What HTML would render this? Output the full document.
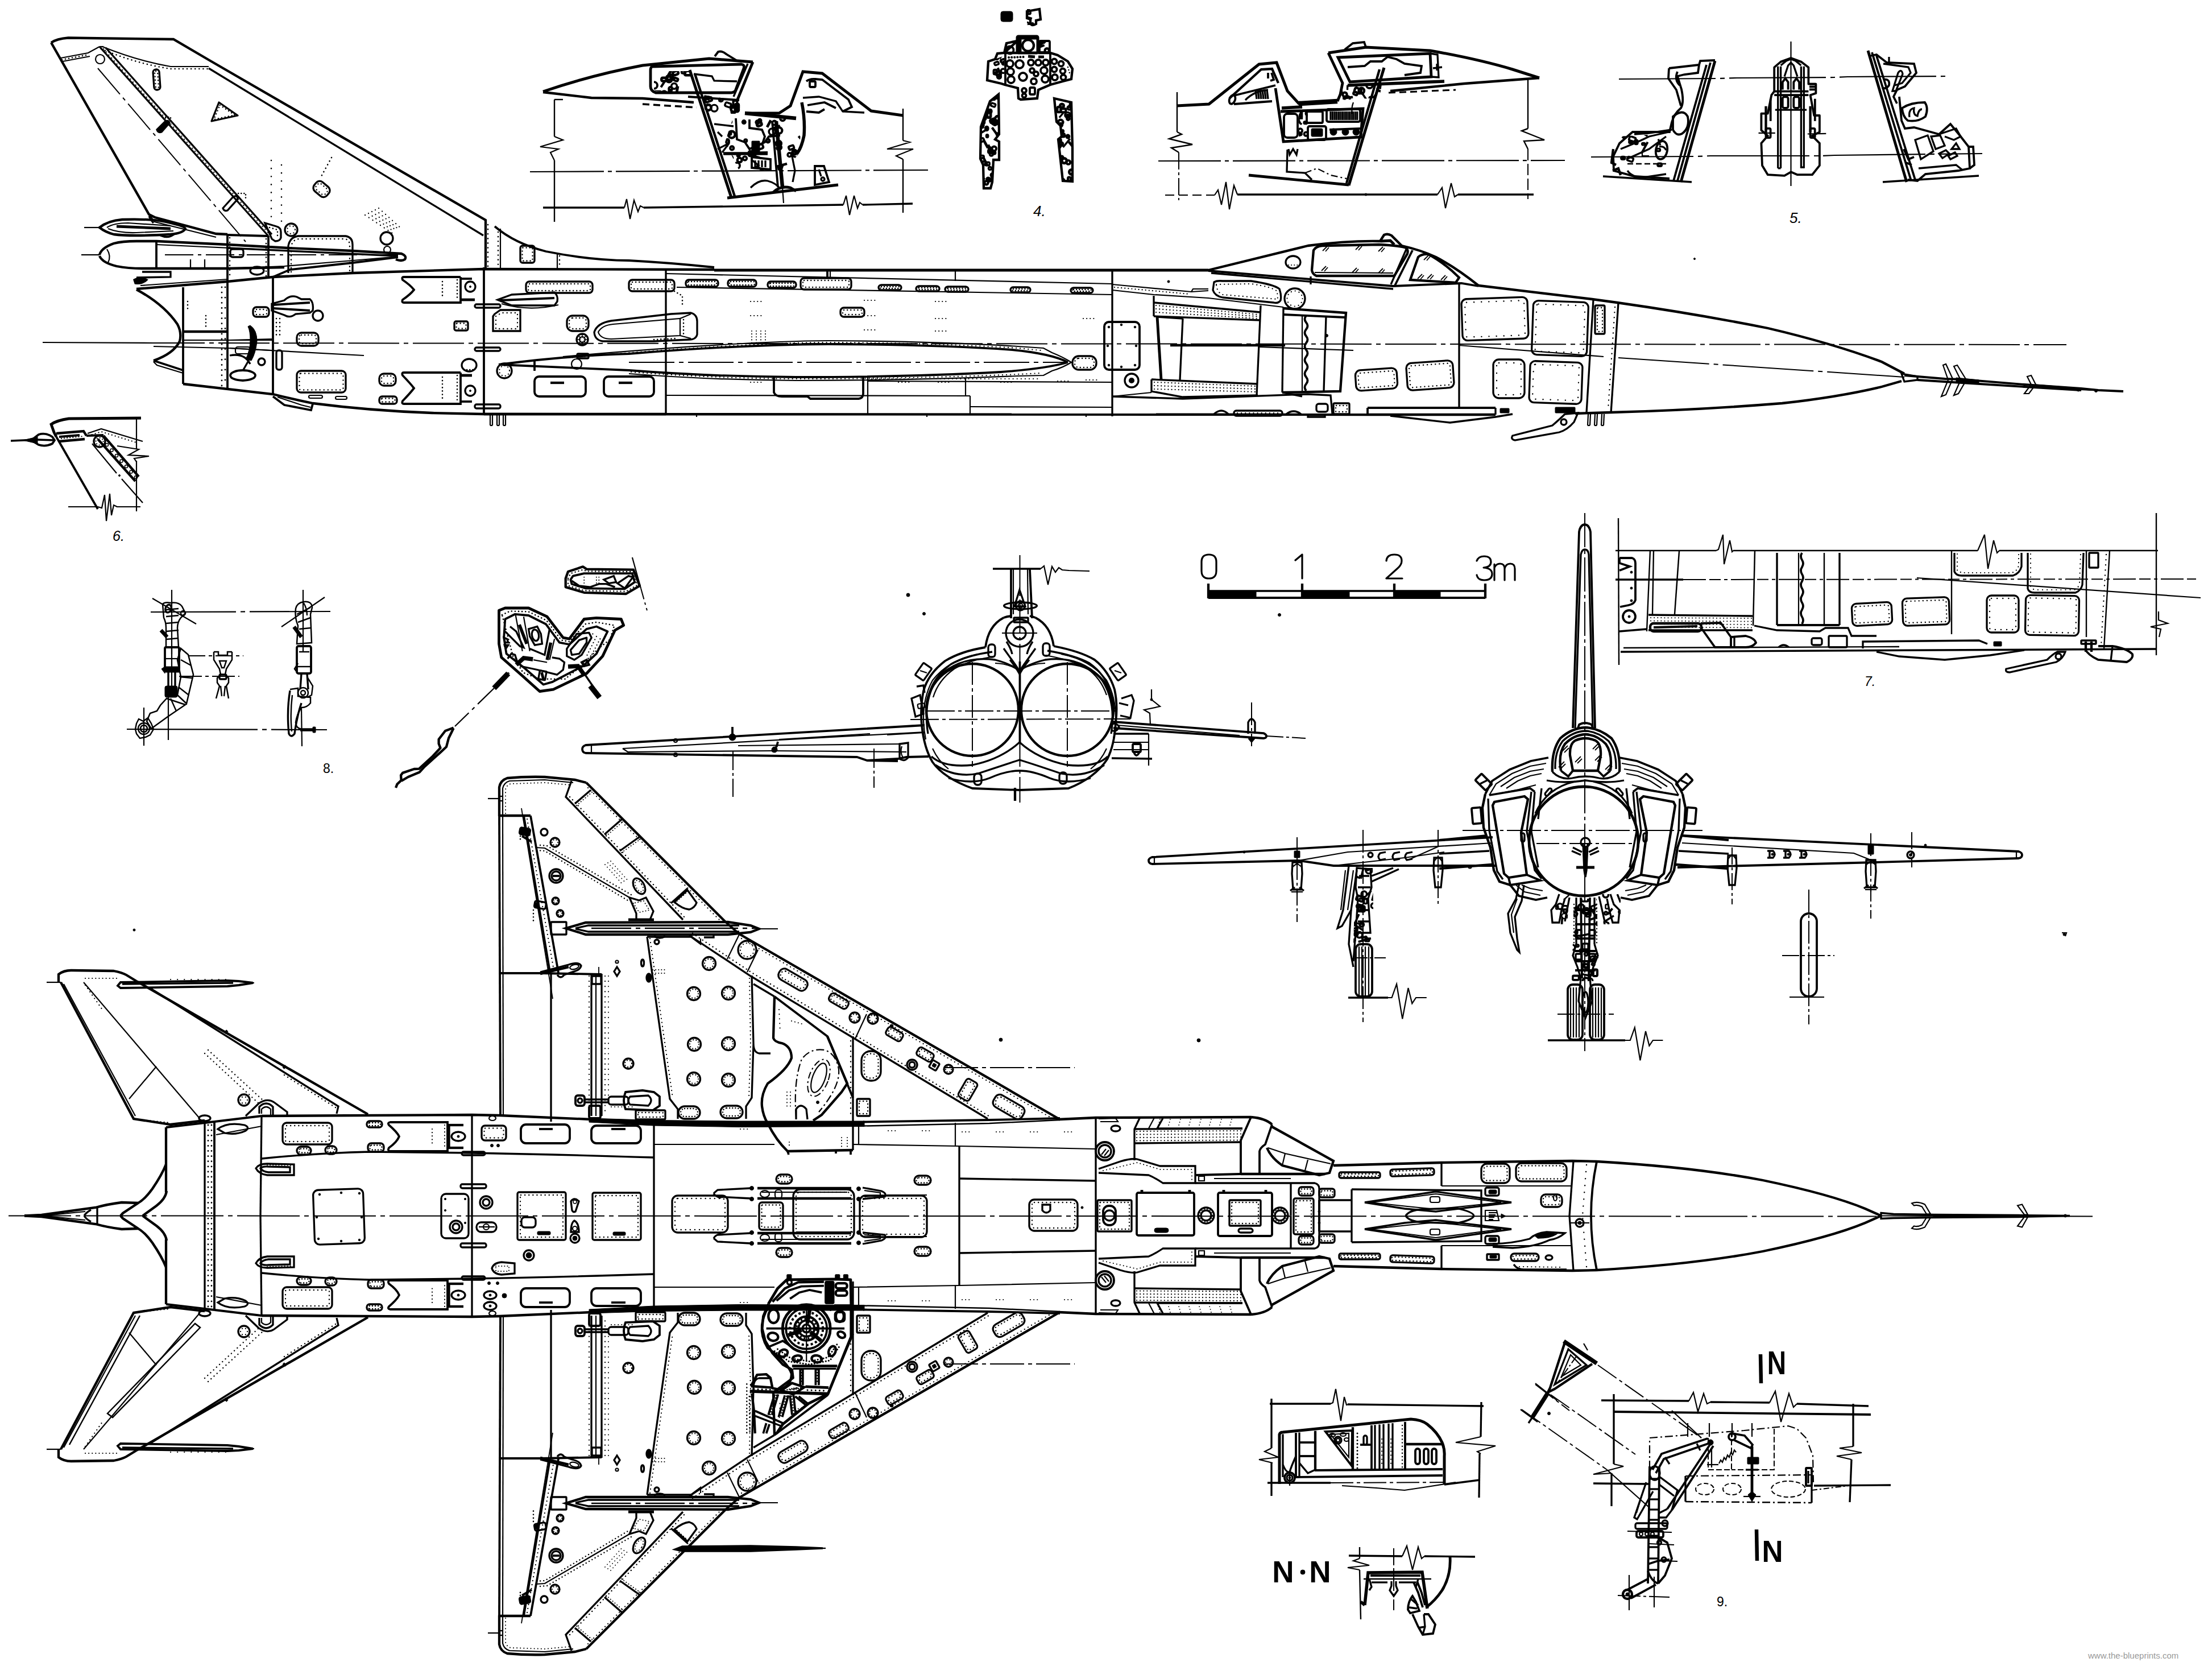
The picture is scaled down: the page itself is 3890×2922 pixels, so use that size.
<!DOCTYPE html>
<html><head><meta charset="utf-8"><title>Su-15 blueprint</title>
<style>html,body{margin:0;padding:0;background:#fff}svg{display:block}</style></head>
<body><svg width="3890" height="2922" viewBox="0 0 3890 2922" stroke="#000" fill="none" stroke-linecap="butt" stroke-linejoin="miter">
<rect x="0" y="0" width="3890" height="2922" fill="#fff" stroke="none"/>
<path d="M90,75 Q100,68 120,66.5 L305,69 L370,107 L854,387 L854,470" stroke-width="4.3" fill="none" />
<path d="M90.0,75.0 L262.0,377.0 L272.0,382.0 L380.0,411.0 L400.0,412.0" stroke-width="4.3" fill="none" />
<path d="M367.0,120.0 L850.0,414.0" stroke-width="3.3" fill="none" />
<path d="M107.0,102.0 L155.0,93.0 L175.0,82.0" stroke-width="2.2" fill="none" />
<path d="M110.0,108.0 L158.0,99.0" stroke-width="2.2" fill="none" />
<path d="M109.0,105.0 L156.0,96.0" stroke-width="2.6" fill="none" stroke-dasharray="0.1 6" stroke-linecap="round"/>
<path d="M178,86 Q240,112 300,121 L367,121" stroke-width="2.6" fill="none" stroke-dasharray="0.1 7" stroke-linecap="round"/>
<path d="M180,82 Q242,107 300,117 L367,117" stroke-width="2.2" fill="none" />
<path d="M175.0,82.0 L182.0,82.0" stroke-width="2.2" fill="none" />
<path d="M175.0,82.0 L472.0,415.0" stroke-width="3.3" fill="none" />
<path d="M186.0,84.0 L478.0,412.0" stroke-width="3.3" fill="none" />
<path d="M182.0,86.0 L474.0,412.0" stroke-width="2.2" fill="none" stroke-dasharray="0.1 7" stroke-linecap="round"/>
<circle cx="176.0" cy="104.0" r="8" stroke-width="2.2" fill="none"/>
<path d="M172.0,120.0 L432.0,425.0" stroke-width="2" fill="none" stroke-dasharray="60 8 6 8"/>
<path d="M262.0,377.0 L272.0,390.0 L380.0,417.0" stroke-width="2.2" fill="none" />
<path d="M276,228 L290,214 Q296,210 298,216 L284,232 Q278,234 276,228Z" stroke-width="3.3" fill="#000" />
<path d="M392,366 L410,346 Q418,342 418,350 L400,370 Q394,372 392,366Z" stroke-width="3.3" fill="none" />
<path d="M286.0,206.0 L300.0,206.0 L300.0,214.0" stroke-width="2.6" fill="none" stroke-dasharray="0.1 5" stroke-linecap="round"/>
<path d="M414.0,340.0 L432.0,340.0 L432.0,352.0" stroke-width="2.6" fill="none" stroke-dasharray="0.1 5" stroke-linecap="round"/>
<rect x="270.0" y="122.0" width="11.0" height="36.0" rx="5" stroke-width="3.3" fill="none" transform="rotate(-4 275.5 140.0)"/>
<rect x="273.0" y="125.0" width="5.0" height="30.0" rx="2" stroke-width="2.4" fill="none" stroke-dasharray="0.1 6" stroke-linecap="round" transform="rotate(-4 275.5 140.0)"/>
<path d="M385.0,180.0 L418.0,203.0 L372.0,213.0Z" stroke-width="3.3" fill="none" stroke-linejoin="round"/>
<path d="M386.7,184.9 L412.9,202.2 L376.2,209.9Z" stroke-width="2.4" fill="none" stroke-dasharray="0.1 6" stroke-linecap="round"/>
<rect x="551.0" y="322.0" width="29.0" height="21.0" rx="8" stroke-width="3.3" fill="none" transform="rotate(40 565.5 332.5)"/>
<rect x="555.0" y="326.0" width="21.0" height="13.0" rx="4" stroke-width="2.4" fill="none" stroke-dasharray="0.1 6" stroke-linecap="round" transform="rotate(40 565.5 332.5)"/>
<circle cx="512.0" cy="404.0" r="11" stroke-width="3.3" fill="none"/>
<circle cx="512.0" cy="404.0" r="7" stroke-width="2.2" fill="none" stroke-dasharray="0.1 6" stroke-linecap="round"/>
<circle cx="680.0" cy="419.0" r="11" stroke-width="3.3" fill="none"/>
<circle cx="681.0" cy="439.0" r="6" stroke-width="2.2" fill="none"/>
<path d="M477.0,282.0 L477.0,392.0" stroke-width="2.6" fill="none" stroke-dasharray="0.1 14" stroke-linecap="round"/>
<path d="M495.0,290.0 L495.0,392.0" stroke-width="2.6" fill="none" stroke-dasharray="0.1 14" stroke-linecap="round"/>
<path d="M583.0,277.0 L565.0,310.0" stroke-width="2.6" fill="none" stroke-dasharray="0.1 7" stroke-linecap="round"/>
<path d="M642.0,378.0 L690.0,410.0" stroke-width="2.2" fill="none" stroke-dasharray="0.1 8" stroke-linecap="round"/>
<path d="M648.0,375.0 L694.0,408.0" stroke-width="2.2" fill="none" stroke-dasharray="0.1 8" stroke-linecap="round"/>
<path d="M654.0,372.0 L698.0,406.0" stroke-width="2.2" fill="none" stroke-dasharray="0.1 8" stroke-linecap="round"/>
<path d="M660.0,369.0 L702.0,404.0" stroke-width="2.2" fill="none" stroke-dasharray="0.1 8" stroke-linecap="round"/>
<path d="M666.0,366.0 L706.0,402.0" stroke-width="2.2" fill="none" stroke-dasharray="0.1 8" stroke-linecap="round"/>
<path d="M466,392 L486,398 Q494,400 494,408 L494,418 Q492,424 484,424 L478,420 Z" stroke-width="3.3" fill="none" />
<path d="M474.0,400.0 L488.0,404.0 L488.0,418.0" stroke-width="2.6" fill="none" stroke-dasharray="0.1 6" stroke-linecap="round"/>
<path d="M507,480 L507,432 Q510,417 524,415 L608,415 Q620,417 620,430 L620,480" stroke-width="3.3" fill="none" />
<path d="M512,478 L512,434 Q514,421 526,420 L606,420 Q615,421 615,432 L615,478" stroke-width="2.6" fill="none" stroke-dasharray="0.1 7" stroke-linecap="round"/>
<path d="M854.0,387.0 L854.0,472.0" stroke-width="3.8" fill="none" />
<path d="M880.0,402.0 L880.0,472.0" stroke-width="2.2" fill="none" />
<path d="M858.0,395.0 L858.0,470.0" stroke-width="2.6" fill="none" stroke-dasharray="0.1 8" stroke-linecap="round"/>
<path d="M876.0,408.0 L876.0,470.0" stroke-width="2.6" fill="none" stroke-dasharray="0.1 8" stroke-linecap="round"/>
<path d="M870,398 Q905,428 960,442 Q1040,458 1106,458 Q1180,462 1256,470" stroke-width="3.8" fill="none" />
<path d="M980.0,447.0 L980.0,472.0" stroke-width="2.2" fill="none" />
<path d="M984.0,450.0 L984.0,470.0" stroke-width="2.6" fill="none" stroke-dasharray="0.1 7" stroke-linecap="round"/>
<rect x="915.0" y="432.0" width="25.0" height="30.0" rx="4" stroke-width="3.3" fill="none"/>
<rect x="918.5" y="435.5" width="18.0" height="23.0" rx="1" stroke-width="2.4" fill="none" stroke-dasharray="0.1 6" stroke-linecap="round"/>
<path d="M175,400 Q190,388 215,386 Q270,384 300,392 Q325,398 326,402 Q322,410 300,412 Q230,416 200,412 Q185,408 175,400Z" stroke-width="4.3" fill="none" />
<path d="M188,400 Q200,392 225,392 L300,397 M190,402 Q210,410 240,409 L305,406" stroke-width="2.2" fill="none" />
<path d="M148.0,400.0 L175.0,400.0" stroke-width="2.2" fill="none" />
<path d="M205.0,398.0 L300.0,402.0" stroke-width="4.8" fill="none" />
<path d="M262,380 Q266,388 270,392 M282,414 Q296,420 306,412" stroke-width="3.3" fill="none" />
<path d="M175,448 Q178,436 200,428 Q215,424 240,424 L275,424 L400,430 L507,436 L620,441 L706,446 Q716,450 712,456 Q706,460 696,456" stroke-width="4.3" fill="none" />
<path d="M175,450 Q180,462 205,468 Q225,472 250,472 L400,472 L500,470" stroke-width="4.3" fill="none" />
<path d="M275.0,424.0 L275.0,472.0" stroke-width="3.8" fill="none" />
<path d="M188,438 Q196,450 190,462" stroke-width="2.2" fill="none" />
<path d="M143.0,448.0 L175.0,448.0" stroke-width="2.2" fill="none" />
<path d="M290.0,448.0 L700.0,448.0" stroke-width="2" fill="none" stroke-dasharray="50 8 6 8"/>
<path d="M335.0,456.0 L335.0,470.0" stroke-width="2.2" fill="none" />
<path d="M360.0,456.0 L360.0,470.0" stroke-width="2.2" fill="none" />
<path d="M275.0,430.0 L620.0,446.0" stroke-width="2.2" fill="none" />
<path d="M400.0,436.0 L700.0,450.0" stroke-width="3.3" fill="none" />
<path d="M480.0,487.0 L510.0,474.0 L620.0,462.0 L700.0,452.0" stroke-width="3.8" fill="none" />
<path d="M400.0,472.0 L500.0,468.0 L620.0,458.0 L690.0,452.0" stroke-width="2.2" fill="none" />
<path d="M400.0,412.0 L400.0,492.0" stroke-width="3.8" fill="none" />
<path d="M472.0,415.0 L472.0,488.0" stroke-width="3.8" fill="none" />
<path d="M400.0,413.0 L472.0,415.0" stroke-width="3.8" fill="none" />
<path d="M404.0,418.0 L404.0,488.0" stroke-width="2.6" fill="none" stroke-dasharray="0.1 8" stroke-linecap="round"/>
<path d="M468.0,420.0 L468.0,486.0" stroke-width="2.6" fill="none" stroke-dasharray="0.1 8" stroke-linecap="round"/>
<rect x="405.0" y="438.0" width="23.0" height="14.0" rx="4" stroke-width="3.3" fill="none"/>
<ellipse cx="452.0" cy="476.0" rx="12" ry="7" stroke-width="3.3" fill="none"/>
<path d="M240.0,488.0 L300.0,487.0 L300.0,478.0 L250.0,478.0" stroke-width="3.3" fill="none" />
<path d="M236,492 Q246,486 258,492 Q250,500 238,498Z" stroke-width="3.3" fill="#000" />
<path d="M240.0,508.0 L400.0,495.0 L480.0,487.0 L620.0,480.0 L850.0,473.0 L1256.0,474.0" stroke-width="4.3" fill="none" />
<path d="M247.0,502.0 L400.0,491.0" stroke-width="2.2" fill="none" />
<path d="M240,509 Q288,535 312,570 Q320,585 316,600 Q305,622 270,634" stroke-width="4.3" fill="none" />
<path d="M270.0,634.0 L322.0,651.0" stroke-width="3.8" fill="none" />
<path d="M270.0,636.0 L276.0,642.0 L322.0,656.0" stroke-width="2.2" fill="none" />
<path d="M322.0,505.0 L322.0,675.0" stroke-width="3.8" fill="none" />
<path d="M322.0,583.0 L400.0,583.0" stroke-width="4.3" fill="none" />
<path d="M400.0,492.0 L400.0,683.0" stroke-width="3.8" fill="none" />
<path d="M480.0,487.0 L480.0,694.0" stroke-width="3.8" fill="none" />
<path d="M851.0,470.0 L851.0,729.0" stroke-width="3.8" fill="none" />
<path d="M390.0,505.0 L390.0,680.0" stroke-width="2.8" fill="none" stroke-dasharray="0.1 9" stroke-linecap="round"/>
<path d="M396.0,505.0 L396.0,680.0" stroke-width="2.8" fill="none" stroke-dasharray="0.1 18" stroke-linecap="round"/>
<path d="M486.0,560.0 L486.0,590.0" stroke-width="2.6" fill="none" stroke-dasharray="0.1 7" stroke-linecap="round"/>
<path d="M492.0,560.0 L492.0,590.0" stroke-width="2.6" fill="none" stroke-dasharray="0.1 7" stroke-linecap="round"/>
<path d="M330.0,530.0 L330.0,545.0" stroke-width="2.6" fill="none" stroke-dasharray="0.1 6" stroke-linecap="round"/>
<path d="M362.0,555.0 L362.0,575.0" stroke-width="2.6" fill="none" stroke-dasharray="0.1 6" stroke-linecap="round"/>
<path d="M322,675 L480,693 Q520,703 550,709 Q650,722 760,726 L851,728 L1171,728" stroke-width="4.3" fill="none" />
<path d="M480,697 L500,712 L547,721 L550,710" stroke-width="3.8" fill="none" />
<path d="M488.0,698.0 L530.0,712.0 L546.0,716.0" stroke-width="2.2" fill="none" />
<path d="M75.0,602.0 L270.0,603.0" stroke-width="2.2" fill="none" />
<path d="M270.0,603.0 L3634.0,606.0" stroke-width="2" fill="none" stroke-dasharray="90 8 8 8"/>
<path d="M270.0,609.0 L400.0,612.0" stroke-width="2.2" fill="none" />
<path d="M400.0,612.0 L640.0,625.0" stroke-width="2.2" fill="none" />
<path d="M320.0,598.0 L480.0,598.0" stroke-width="2.2" fill="none" />
<path d="M440,572 Q452,580 452,600 Q450,620 442,634 L432,632 Q440,615 440,598 Q440,582 436,574Z" stroke-width="1" fill="#000" />
<path d="M436,636 L428,650 M404,625 Q430,620 440,640" stroke-width="3.3" fill="none" />
<ellipse cx="427.0" cy="660.0" rx="22" ry="9" stroke-width="3.8" fill="none"/>
<circle cx="460.0" cy="636.0" r="6" stroke-width="3.3" fill="none"/>
<rect x="486.0" y="616.0" width="10.0" height="34.0" rx="4" stroke-width="3.3" fill="none"/>
<path d="M404.0,598.0 L478.0,596.0" stroke-width="2.2" fill="none" />
<path d="M404.0,612.0 L478.0,616.0" stroke-width="2.2" fill="none" />
<rect x="414.0" y="610.0" width="26.0" height="12.0" rx="4" stroke-width="2.2" fill="none"/>
<rect x="445.0" y="540.0" width="28.0" height="17.0" rx="6" stroke-width="3.3" fill="none"/>
<rect x="449.0" y="544.0" width="20.0" height="9.0" rx="2" stroke-width="2.4" fill="none" stroke-dasharray="0.1 6" stroke-linecap="round"/>
<rect x="522.0" y="585.0" width="38.0" height="23.0" rx="8" stroke-width="3.3" fill="none"/>
<rect x="526.0" y="589.0" width="30.0" height="15.0" rx="4" stroke-width="2.4" fill="none" stroke-dasharray="0.1 6" stroke-linecap="round"/>
<rect x="522.0" y="652.0" width="86.0" height="38.0" rx="7" stroke-width="3.3" fill="none"/>
<rect x="526.5" y="656.5" width="77.0" height="29.0" rx="2.5" stroke-width="2.4" fill="none" stroke-dasharray="0.1 7" stroke-linecap="round"/>
<rect x="667.0" y="657.0" width="29.0" height="21.0" rx="8" stroke-width="3.3" fill="none"/>
<rect x="671.0" y="661.0" width="21.0" height="13.0" rx="4" stroke-width="2.4" fill="none" stroke-dasharray="0.1 6" stroke-linecap="round"/>
<rect x="667.0" y="697.0" width="31.0" height="13.0" rx="5" stroke-width="3.3" fill="none"/>
<rect x="670.5" y="700.5" width="24.0" height="6.0" rx="1.5" stroke-width="2.4" fill="none" stroke-dasharray="0.1 6" stroke-linecap="round"/>
<circle cx="559.0" cy="555.0" r="9" stroke-width="3.3" fill="none"/>
<rect x="799.0" y="565.0" width="24.0" height="16.0" rx="3" stroke-width="3.3" fill="none"/>
<rect x="802.5" y="568.5" width="17.0" height="9.0" rx="1" stroke-width="2.4" fill="none" stroke-dasharray="0.1 6" stroke-linecap="round"/>
<rect x="543.0" y="695.0" width="24.0" height="5.0" rx="2.5" stroke-width="2.2" fill="none"/>
<rect x="590.0" y="697.0" width="20.0" height="5.0" rx="2.5" stroke-width="2.2" fill="none"/>
<path d="M478,534 L500,528 Q510,518 522,522 L530,526 L545,526 Q552,532 550,546 L545,550 L520,552 Q510,560 500,554 L478,546 Z" stroke-width="3.3" fill="none" />
<path d="M480.0,536.0 L545.0,532.0" stroke-width="3.8" fill="none" />
<path d="M480.0,542.0 L545.0,546.0" stroke-width="3.8" fill="none" />
<path d="M810,487 L710,487 Q706,487 708,492 Q722,501.5 728,509.5 Q722,517.5 708,527 Q706,532 710,532 L810,532 L810,487" stroke-width="3.8" fill="none" />
<path d="M778.0,495.0 L778.0,524.0" stroke-width="2.6" fill="none" stroke-dasharray="0.1 6" stroke-linecap="round"/>
<path d="M804.0,492.0 L804.0,527.0" stroke-width="2.6" fill="none" stroke-dasharray="0.1 6" stroke-linecap="round"/>
<path d="M810,655 L710,655 Q706,655 708,660 Q722,674.5 728,682.5 Q722,690.5 708,705 Q706,710 710,710 L810,710 L810,655" stroke-width="3.8" fill="none" />
<path d="M778.0,663.0 L778.0,702.0" stroke-width="2.6" fill="none" stroke-dasharray="0.1 6" stroke-linecap="round"/>
<path d="M804.0,660.0 L804.0,705.0" stroke-width="2.6" fill="none" stroke-dasharray="0.1 6" stroke-linecap="round"/>
<path d="M810.0,490.0 L830.0,490.0" stroke-width="3.8" fill="none" />
<path d="M810.0,527.0 L835.0,527.0" stroke-width="4.8" fill="none" />
<path d="M810.0,660.0 L830.0,660.0" stroke-width="4.8" fill="none" />
<path d="M810.0,706.0 L830.0,706.0" stroke-width="3.8" fill="none" />
<circle cx="827.0" cy="504.0" r="9" stroke-width="3.3" fill="none"/>
<circle cx="827.0" cy="687.0" r="9" stroke-width="3.3" fill="none"/>
<circle cx="827.0" cy="504.0" r="1.5" stroke-width="1" fill="#000"/>
<circle cx="827.0" cy="687.0" r="1.5" stroke-width="1" fill="#000"/>
<ellipse cx="825.0" cy="642.0" rx="13" ry="11" stroke-width="3.3" fill="none"/>
<path d="M816.0,650.0 L834.0,650.0" stroke-width="2.6" fill="none" stroke-dasharray="0.1 5" stroke-linecap="round"/>
<rect x="835.0" y="535.0" width="45.0" height="6.0" rx="3" stroke-width="3.3" fill="none"/>
<rect x="835.0" y="611.0" width="45.0" height="6.0" rx="3" stroke-width="3.3" fill="none"/>
<rect x="835.0" y="711.0" width="45.0" height="7.0" rx="3" stroke-width="3.3" fill="none"/>
<path d="M862.0,730.0 L862.0,748.0" stroke-width="2.2" fill="none" />
<path d="M866.0,730.0 L866.0,748.0" stroke-width="2.2" fill="none" />
<path d="M862.0,748.0 L866.0,748.0" stroke-width="2.2" fill="none" />
<path d="M874.0,730.0 L874.0,748.0" stroke-width="2.2" fill="none" />
<path d="M878.0,730.0 L878.0,748.0" stroke-width="2.2" fill="none" />
<path d="M874.0,748.0 L878.0,748.0" stroke-width="2.2" fill="none" />
<path d="M885.0,730.0 L885.0,748.0" stroke-width="2.2" fill="none" />
<path d="M889.0,730.0 L889.0,748.0" stroke-width="2.2" fill="none" />
<path d="M885.0,748.0 L889.0,748.0" stroke-width="2.2" fill="none" />
<path d="M1256.0,475.0 L2125.0,475.0" stroke-width="4.8" fill="none" />
<path d="M851.0,728.0 L2405.0,729.0" stroke-width="4.3" fill="none" />
<path d="M1171.0,475.0 L1171.0,728.0" stroke-width="3.3" fill="none" />
<path d="M1956.0,475.0 L1956.0,732.0" stroke-width="3.3" fill="none" />
<path d="M1171.0,481.0 L1956.0,499.0" stroke-width="2.2" fill="none" />
<path d="M1190.0,505.0 L1956.0,518.0" stroke-width="2.2" fill="none" />
<path d="M1455.0,475.0 L1455.0,488.0" stroke-width="3.8" fill="none" />
<path d="M1460.0,475.0 L1460.0,488.0" stroke-width="2.2" fill="none" />
<path d="M1680.0,475.0 L1680.0,494.0" stroke-width="2.2" fill="none" />
<rect x="1206.0" y="492.0" width="57.0" height="12.0" rx="5" stroke-width="3.3" fill="none"/>
<rect x="1209.0" y="495.0" width="51.0" height="6.0" rx="2" stroke-width="2.4" fill="none" stroke-dasharray="0.1 5" stroke-linecap="round"/>
<rect x="1280.0" y="492.0" width="50.0" height="12.0" rx="5" stroke-width="3.3" fill="none"/>
<rect x="1283.0" y="495.0" width="44.0" height="6.0" rx="2" stroke-width="2.4" fill="none" stroke-dasharray="0.1 5" stroke-linecap="round"/>
<rect x="1350.0" y="495.0" width="50.0" height="11.0" rx="5" stroke-width="3.3" fill="none"/>
<rect x="1353.0" y="498.0" width="44.0" height="5.0" rx="2" stroke-width="2.4" fill="none" stroke-dasharray="0.1 5" stroke-linecap="round"/>
<rect x="1545.0" y="501.0" width="40.0" height="9.0" rx="5" stroke-width="3.3" fill="none"/>
<rect x="1548.0" y="504.0" width="34.0" height="3.0" rx="2" stroke-width="2.4" fill="none" stroke-dasharray="0.1 5" stroke-linecap="round"/>
<rect x="1611.0" y="503.0" width="41.0" height="9.0" rx="5" stroke-width="3.3" fill="none"/>
<rect x="1614.0" y="506.0" width="35.0" height="3.0" rx="2" stroke-width="2.4" fill="none" stroke-dasharray="0.1 5" stroke-linecap="round"/>
<rect x="1662.0" y="504.0" width="41.0" height="9.0" rx="5" stroke-width="3.3" fill="none"/>
<rect x="1665.0" y="507.0" width="35.0" height="3.0" rx="2" stroke-width="2.4" fill="none" stroke-dasharray="0.1 5" stroke-linecap="round"/>
<rect x="1777.0" y="505.0" width="35.0" height="9.0" rx="5" stroke-width="3.3" fill="none"/>
<rect x="1780.0" y="508.0" width="29.0" height="3.0" rx="2" stroke-width="2.4" fill="none" stroke-dasharray="0.1 5" stroke-linecap="round"/>
<rect x="1883.0" y="506.0" width="39.0" height="9.0" rx="5" stroke-width="3.3" fill="none"/>
<rect x="1886.0" y="509.0" width="33.0" height="3.0" rx="2" stroke-width="2.4" fill="none" stroke-dasharray="0.1 5" stroke-linecap="round"/>
<rect x="1106.0" y="492.0" width="80.0" height="20.0" rx="6" stroke-width="3.3" fill="none"/>
<rect x="1110.0" y="496.0" width="72.0" height="12.0" rx="2" stroke-width="2.4" fill="none" stroke-dasharray="0.1 6" stroke-linecap="round"/>
<rect x="1408.0" y="489.0" width="89.0" height="20.0" rx="6" stroke-width="3.3" fill="none"/>
<rect x="1412.0" y="493.0" width="81.0" height="12.0" rx="2" stroke-width="2.4" fill="none" stroke-dasharray="0.1 6" stroke-linecap="round"/>
<rect x="925.0" y="495.0" width="117.0" height="20.0" rx="6" stroke-width="3.3" fill="none"/>
<rect x="929.0" y="499.0" width="109.0" height="12.0" rx="2" stroke-width="2.4" fill="none" stroke-dasharray="0.1 6" stroke-linecap="round"/>
<path d="M1186.0,512.0 L1200.0,520.0 L1200.0,540.0" stroke-width="2.6" fill="none" stroke-dasharray="0.1 6" stroke-linecap="round"/>
<path d="M875,527 L900,518 L975,514 Q982,520 980,530 L975,537 L900,537 Z" stroke-width="3.3" fill="none" />
<path d="M880.0,528.0 L975.0,524.0" stroke-width="3.8" fill="none" />
<path d="M882,534 Q930,548 982,536" stroke-width="2.2" fill="none" />
<path d="M870.0,552.0 L880.0,545.0 L915.0,545.0 L915.0,582.0 L867.0,582.0 L867.0,556.0Z" stroke-width="3.3" fill="none" />
<path d="M872.0,556.0 L882.0,550.0 L910.0,550.0 L910.0,578.0 L872.0,578.0Z" stroke-width="2.4" fill="none" stroke-dasharray="0.1 7" stroke-linecap="round"/>
<rect x="997.0" y="555.0" width="38.0" height="27.0" rx="10" stroke-width="3.3" fill="none"/>
<rect x="1001.0" y="559.0" width="30.0" height="19.0" rx="6" stroke-width="2.4" fill="none" stroke-dasharray="0.1 6" stroke-linecap="round"/>
<circle cx="1024.0" cy="597.0" r="10" stroke-width="3.3" fill="none"/>
<circle cx="1024.0" cy="597.0" r="5" stroke-width="2.2" fill="none"/>
<path d="M1027.0,597.0 L1033.0,597.0" stroke-width="1.5" fill="none" />
<path d="M1026.1,599.1 L1030.4,603.4" stroke-width="1.5" fill="none" />
<path d="M1024.0,600.0 L1024.0,606.0" stroke-width="1.5" fill="none" />
<path d="M1021.9,599.1 L1017.6,603.4" stroke-width="1.5" fill="none" />
<path d="M1021.0,597.0 L1015.0,597.0" stroke-width="1.5" fill="none" />
<path d="M1021.9,594.9 L1017.6,590.6" stroke-width="1.5" fill="none" />
<path d="M1024.0,594.0 L1024.0,588.0" stroke-width="1.5" fill="none" />
<path d="M1026.1,594.9 L1030.4,590.6" stroke-width="1.5" fill="none" />
<circle cx="887.0" cy="652.0" r="13" stroke-width="3.3" fill="none"/>
<circle cx="887.0" cy="652.0" r="9" stroke-width="2.2" fill="none" stroke-dasharray="0.1 6" stroke-linecap="round"/>
<rect x="940.0" y="662.0" width="90.0" height="35.0" rx="8" stroke-width="3.8" fill="none"/>
<path d="M968.0,673.0 L992.0,673.0" stroke-width="4.3" fill="none" />
<rect x="1062.0" y="662.0" width="88.0" height="35.0" rx="8" stroke-width="3.8" fill="none"/>
<path d="M1088.0,673.0 L1112.0,673.0" stroke-width="4.3" fill="none" />
<rect x="1015.0" y="622.0" width="20.0" height="8.0" rx="2" stroke-width="3.3" fill="none"/>
<path d="M1045,584 Q1050,568 1075,564 L1180,552 L1215,550 Q1226,553 1226,565 L1226,588 Q1224,597 1212,597 L1150,600 L1060,600 Q1046,598 1045,584Z" stroke-width="3.3" fill="none" />
<path d="M1052,584 Q1058,572 1078,570 L1196,560 L1196,590 L1075,596 Q1056,596 1052,584Z" stroke-width="2.2" fill="none" />
<path d="M1202.0,562.0 L1202.0,590.0" stroke-width="2.6" fill="none" stroke-dasharray="0.1 6" stroke-linecap="round"/>
<path d="M1150.0,597.0 L1190.0,595.0" stroke-width="2.6" fill="none" stroke-dasharray="0.1 6" stroke-linecap="round"/>
<path d="M1196.0,560.0 L1215.0,552.0" stroke-width="2.2" fill="none" />
<path d="M1196.0,590.0 L1215.0,595.0" stroke-width="2.2" fill="none" />
<path d="M877,641 Q1000,625 1106,622 Q1300,606 1456,605 Q1650,606 1780,615 Q1850,622 1878,637" stroke-width="3.8" fill="none" />
<path d="M877,641 L1106,651 Q1250,662 1400,663 Q1600,663 1760,654 Q1840,648 1878,637" stroke-width="3.8" fill="none" />
<path d="M990,627 Q1300,600 1456,599 Q1650,600 1790,609 L1835,612 L1850,620 Q1870,628 1884,637 Q1870,646 1850,652 L1835,660 L1790,661 Q1600,669 1400,669 Q1250,668 1106,657" stroke-width="2.2" fill="none" />
<path d="M1000,629 Q1300,603 1456,602 Q1650,603 1790,612 L1830,616" stroke-width="2.2" fill="none" stroke-dasharray="0.1 7" stroke-linecap="round"/>
<path d="M1110,654 Q1250,665 1400,666 Q1600,666 1790,658 L1830,656" stroke-width="2.2" fill="none" stroke-dasharray="0.1 7" stroke-linecap="round"/>
<path d="M1106.0,637.0 L1878.0,637.0" stroke-width="2" fill="none" stroke-dasharray="80 8 8 8"/>
<path d="M940.0,634.0 L940.0,652.0" stroke-width="3.8" fill="none" />
<circle cx="1014.0" cy="640.0" r="9" stroke-width="2.2" fill="none"/>
<path d="M1361,664 L1361,690 Q1364,697 1375,697 L1420,697 L1425,701 L1510,701 Q1518,700 1518,692 L1518,664" stroke-width="3.8" fill="none" />
<path d="M1526.0,664.0 L1526.0,728.0" stroke-width="2.2" fill="none" />
<path d="M1698.0,664.0 L1698.0,696.0" stroke-width="2.2" fill="none" />
<path d="M1706.0,696.0 L1706.0,728.0" stroke-width="2.2" fill="none" />
<path d="M1526.0,670.0 L1956.0,672.0" stroke-width="2.2" fill="none" />
<path d="M1171.0,695.0 L1706.0,696.0" stroke-width="2.2" fill="none" />
<path d="M1706.0,715.0 L1956.0,716.0" stroke-width="2.2" fill="none" />
<path d="M1526.0,666.0 L1830.0,666.0" stroke-width="2.2" fill="none" stroke-dasharray="0.1 7" stroke-linecap="round"/>
<rect x="1478.0" y="541.0" width="42.0" height="16.0" rx="6" stroke-width="3.3" fill="none"/>
<rect x="1482.0" y="545.0" width="34.0" height="8.0" rx="2" stroke-width="2.4" fill="none" stroke-dasharray="0.1 6" stroke-linecap="round"/>
<path d="M1320.0,530.0 L1342.0,530.0" stroke-width="2.2" fill="none" stroke-dasharray="0.1 6" stroke-linecap="round"/>
<path d="M1320.0,555.0 L1342.0,555.0" stroke-width="2.2" fill="none" stroke-dasharray="0.1 6" stroke-linecap="round"/>
<path d="M1520.0,528.0 L1542.0,528.0" stroke-width="2.2" fill="none" stroke-dasharray="0.1 6" stroke-linecap="round"/>
<path d="M1520.0,555.0 L1542.0,555.0" stroke-width="2.2" fill="none" stroke-dasharray="0.1 6" stroke-linecap="round"/>
<path d="M1520.0,580.0 L1542.0,580.0" stroke-width="2.2" fill="none" stroke-dasharray="0.1 6" stroke-linecap="round"/>
<path d="M1645.0,530.0 L1667.0,530.0" stroke-width="2.2" fill="none" stroke-dasharray="0.1 6" stroke-linecap="round"/>
<path d="M1645.0,560.0 L1667.0,560.0" stroke-width="2.2" fill="none" stroke-dasharray="0.1 6" stroke-linecap="round"/>
<path d="M1645.0,582.0 L1667.0,582.0" stroke-width="2.2" fill="none" stroke-dasharray="0.1 6" stroke-linecap="round"/>
<path d="M1905.0,560.0 L1927.0,560.0" stroke-width="2.2" fill="none" stroke-dasharray="0.1 6" stroke-linecap="round"/>
<path d="M1322.0,582.0 L1322.0,604.0" stroke-width="2" fill="none" stroke-dasharray="0.1 5" stroke-linecap="round"/>
<path d="M1330.0,582.0 L1330.0,604.0" stroke-width="2" fill="none" stroke-dasharray="0.1 5" stroke-linecap="round"/>
<path d="M1338.0,582.0 L1338.0,604.0" stroke-width="2" fill="none" stroke-dasharray="0.1 5" stroke-linecap="round"/>
<path d="M1346.0,582.0 L1346.0,604.0" stroke-width="2" fill="none" stroke-dasharray="0.1 5" stroke-linecap="round"/>
<path d="M1320.0,672.0 L1342.0,672.0" stroke-width="2.2" fill="none" stroke-dasharray="0.1 6" stroke-linecap="round"/>
<path d="M1580.0,672.0 L1602.0,672.0" stroke-width="2.2" fill="none" stroke-dasharray="0.1 6" stroke-linecap="round"/>
<path d="M1650.0,672.0 L1672.0,672.0" stroke-width="2.2" fill="none" stroke-dasharray="0.1 6" stroke-linecap="round"/>
<path d="M1760.0,672.0 L1782.0,672.0" stroke-width="2.2" fill="none" stroke-dasharray="0.1 6" stroke-linecap="round"/>
<path d="M1860.0,670.0 L1882.0,670.0" stroke-width="2.2" fill="none" stroke-dasharray="0.1 6" stroke-linecap="round"/>
<path d="M1910.0,668.0 L1932.0,668.0" stroke-width="2.2" fill="none" stroke-dasharray="0.1 6" stroke-linecap="round"/>
<rect x="1942.0" y="566.0" width="62.0" height="84.0" rx="8" stroke-width="3.8" fill="none"/>
<circle cx="1950.0" cy="575.0" r="1.8" stroke-width="1" fill="#000"/>
<circle cx="1972.0" cy="571.0" r="1.8" stroke-width="1" fill="#000"/>
<circle cx="1996.0" cy="575.0" r="1.8" stroke-width="1" fill="#000"/>
<circle cx="1948.0" cy="608.0" r="1.8" stroke-width="1" fill="#000"/>
<circle cx="1998.0" cy="608.0" r="1.8" stroke-width="1" fill="#000"/>
<circle cx="1950.0" cy="642.0" r="1.8" stroke-width="1" fill="#000"/>
<circle cx="1972.0" cy="645.0" r="1.8" stroke-width="1" fill="#000"/>
<circle cx="1996.0" cy="642.0" r="1.8" stroke-width="1" fill="#000"/>
<rect x="1886.0" y="626.0" width="42.0" height="24.0" rx="11" stroke-width="3.3" fill="none"/>
<rect x="1890.0" y="630.0" width="34.0" height="16.0" rx="7" stroke-width="2.4" fill="none" stroke-dasharray="0.1 6" stroke-linecap="round"/>
<circle cx="1990.0" cy="669.0" r="12" stroke-width="3.3" fill="none"/>
<circle cx="1990.0" cy="669.0" r="4" stroke-width="2.2" fill="#000"/>
<path d="M1225.0,727.0 L1225.0,733.0" stroke-width="2.2" fill="none" />
<path d="M1630.0,727.0 L1630.0,733.0" stroke-width="2.2" fill="none" />
<path d="M1910.0,727.0 L1910.0,733.0" stroke-width="2.2" fill="none" />
<path d="M1956.0,500.0 L2095.0,513.0 L2125.0,511.0" stroke-width="2.2" fill="none" />
<path d="M1956.0,510.0 L2029.0,518.0 L2125.0,524.0 L2257.0,540.0" stroke-width="2.2" fill="none" />
<path d="M1960.0,505.0 L2092.0,517.0" stroke-width="2.2" fill="none" stroke-dasharray="0.1 6" stroke-linecap="round"/>
<path d="M2095.0,513.0 L2098.0,508.0 L2125.0,508.0" stroke-width="2.2" fill="none" />
<path d="M2029.0,520.0 L2029.0,556.0" stroke-width="3.3" fill="none" />
<path d="M2029.0,532.0 L2217.0,549.0" stroke-width="3.3" fill="none" />
<path d="M2029.0,556.0 L2217.0,563.0" stroke-width="3.3" fill="none" />
<path d="M2033.0,537.0 L2214.0,553.0" stroke-width="2.2" fill="none" stroke-dasharray="0.1 6" stroke-linecap="round"/>
<path d="M2033.0,543.0 L2214.0,556.5" stroke-width="2.2" fill="none" stroke-dasharray="0.1 6" stroke-linecap="round"/>
<path d="M2033.0,549.0 L2214.0,560.0" stroke-width="2.2" fill="none" stroke-dasharray="0.1 6" stroke-linecap="round"/>
<path d="M2025.0,667.0 L2212.0,675.0" stroke-width="3.3" fill="none" />
<path d="M2025.0,667.0 L2025.0,688.0 L2080.0,698.0 L2212.0,695.0" stroke-width="3.3" fill="none" />
<path d="M2030.0,672.0 L2210.0,679.0" stroke-width="2.2" fill="none" stroke-dasharray="0.1 6" stroke-linecap="round"/>
<path d="M2030.0,678.0 L2210.0,684.0" stroke-width="2.2" fill="none" stroke-dasharray="0.1 6" stroke-linecap="round"/>
<path d="M2030.0,684.0 L2210.0,689.0" stroke-width="2.2" fill="none" stroke-dasharray="0.1 6" stroke-linecap="round"/>
<path d="M2035.0,557.0 L2042.0,667.0" stroke-width="4.8" fill="none" />
<path d="M2080.0,560.0 L2075.0,668.0" stroke-width="3.3" fill="none" />
<path d="M2035.0,557.0 L2080.0,560.0" stroke-width="3.3" fill="none" />
<path d="M2217.0,537.0 L2210.0,695.0" stroke-width="3.3" fill="none" />
<path d="M2257.0,540.0 L2255.0,690.0" stroke-width="3.3" fill="none" />
<path d="M2257.0,542.0 L2367.0,550.0 L2357.0,688.0 L2255.0,690.0" stroke-width="4.3" fill="none" />
<path d="M2257.0,553.0 L2365.0,558.0" stroke-width="3.8" fill="none" />
<path d="M2332.0,556.0 L2328.0,687.0" stroke-width="3.3" fill="none" />
<path d="M2297,555 Q2292,561 2297,567 Q2302,573 2297,579 Q2292,585 2297,591 Q2302,597 2297,603 Q2292,609 2297,615 Q2302,621 2297,627 Q2292,633 2297,639 Q2302,645 2297,651 Q2292,657 2297,663 Q2302,669 2297,675 Q2292,681 2297,687 " stroke-width="3.8" fill="none" />
<path d="M2290.0,556.0 L2290.0,688.0" stroke-width="2.2" fill="none" />
<path d="M2058.0,607.0 L2260.0,607.0" stroke-width="4.3" fill="none" />
<path d="M2215.0,610.0 L2380.0,616.0" stroke-width="2.2" fill="none" />
<path d="M1956.0,697.0 L2025.0,690.0" stroke-width="2.2" fill="none" />
<path d="M1956.0,697.0 L2080.0,701.0 L2300.0,693.0 L2340.0,695.0 L2343.0,727.0" stroke-width="3.3" fill="none" />
<path d="M2255.0,690.0 L2290.0,697.0" stroke-width="3.3" fill="none" />
<path d="M2135,496 Q2140,493 2150,494 L2200,494 Q2240,500 2250,508 Q2254,520 2252,528 Q2248,534 2240,532 L2150,523 Q2136,520 2133,510 Z" stroke-width="3.3" fill="none" />
<path d="M2139,500 L2200,499 Q2236,504 2246,512 L2247,526 L2150,518 Q2140,514 2139,500" stroke-width="2.2" fill="none" stroke-dasharray="0.1 7" stroke-linecap="round"/>
<circle cx="2277.0" cy="525.0" r="18" stroke-width="3.3" fill="none"/>
<circle cx="2277.0" cy="525.0" r="13.5" stroke-width="2.2" fill="none" stroke-dasharray="0.1 7" stroke-linecap="round"/>
<path d="M2135,728 Q2148,716 2160,728" stroke-width="3.3" fill="none" />
<rect x="2170.0" y="722.0" width="85.0" height="9.0" rx="4" stroke-width="3.3" fill="none"/>
<path d="M2176.0,726.0 L2250.0,726.0" stroke-width="2.2" fill="none" stroke-dasharray="0.1 7" stroke-linecap="round"/>
<path d="M2262,728 Q2275,718 2288,728" stroke-width="3.3" fill="none" />
<rect x="2315.0" y="710.0" width="20.0" height="14.0" rx="4" stroke-width="3.3" fill="none"/>
<rect x="2345.0" y="709.0" width="28.0" height="19.0" rx="2" stroke-width="3.3" fill="none"/>
<rect x="2349.0" y="713.0" width="20.0" height="11.0" rx="1" stroke-width="2.4" fill="none" stroke-dasharray="0.1 6" stroke-linecap="round"/>
<path d="M2300.0,727.0 L2300.0,733.0 L2330.0,733.0 L2330.0,727.0" stroke-width="3.3" fill="none" />
<path d="M2125,475 L2300,432 Q2370,423 2425,424 L2427,424 L2434,413 Q2440,410 2447,414 L2465,432 Q2500,440 2525,452 Q2560,470 2600,502" stroke-width="4.3" fill="none" />
<path d="M2125.0,476.0 L2450.0,503.0 L2570.0,498.0 L2600.0,503.0" stroke-width="3.8" fill="none" />
<path d="M2130.0,480.0 L2450.0,508.0" stroke-width="3.3" fill="none" />
<path d="M2310,440 Q2314,433 2325,432 L2425,430 Q2465,432 2473,436 Q2477,440 2475,446 L2452,485 L2315,485 Q2308,482 2307,475 Z" stroke-width="4.3" fill="none" />
<path d="M2312.0,479.0 L2450.0,480.0" stroke-width="2.2" fill="none" />
<path d="M2480,492 L2494,452 Q2500,446 2512,447 Q2540,462 2566,488 L2560,497 Z" stroke-width="4.3" fill="none" />
<path d="M2484.0,440.0 L2452.0,504.0" stroke-width="3.8" fill="none" />
<path d="M2474.0,436.0 L2446.0,500.0" stroke-width="3.3" fill="none" />
<path d="M2428.0,424.0 L2445.0,423.0 L2452.0,430.0" stroke-width="4.8" fill="none" />
<path d="M2305.0,486.0 L2305.0,500.0" stroke-width="3.3" fill="none" />
<path d="M2566.0,497.0 L2566.0,716.0" stroke-width="3.3" fill="none" />
<ellipse cx="2274.0" cy="461.0" rx="13" ry="11" stroke-width="3.3" fill="none"/>
<path d="M2266.0,466.0 L2282.0,466.0" stroke-width="2" fill="none" stroke-dasharray="0.1 5" stroke-linecap="round"/>
<path d="M2326.0,441.0 L2334.0,433.0" stroke-width="1.8" fill="none" />
<path d="M2331.0,442.0 L2337.0,435.0" stroke-width="1.8" fill="none" />
<path d="M2384.0,439.0 L2392.0,431.0" stroke-width="1.8" fill="none" />
<path d="M2389.0,440.0 L2395.0,433.0" stroke-width="1.8" fill="none" />
<path d="M2424.0,442.0 L2432.0,434.0" stroke-width="1.8" fill="none" />
<path d="M2429.0,443.0 L2435.0,436.0" stroke-width="1.8" fill="none" />
<path d="M2324.0,476.0 L2332.0,468.0" stroke-width="1.8" fill="none" />
<path d="M2329.0,477.0 L2335.0,470.0" stroke-width="1.8" fill="none" />
<path d="M2378.0,479.0 L2386.0,471.0" stroke-width="1.8" fill="none" />
<path d="M2383.0,480.0 L2389.0,473.0" stroke-width="1.8" fill="none" />
<path d="M2424.0,480.0 L2432.0,472.0" stroke-width="1.8" fill="none" />
<path d="M2429.0,481.0 L2435.0,474.0" stroke-width="1.8" fill="none" />
<path d="M2504.0,457.0 L2512.0,449.0" stroke-width="1.8" fill="none" />
<path d="M2509.0,458.0 L2515.0,451.0" stroke-width="1.8" fill="none" />
<path d="M2493.0,490.0 L2501.0,482.0" stroke-width="1.8" fill="none" />
<path d="M2498.0,491.0 L2504.0,484.0" stroke-width="1.8" fill="none" />
<path d="M2510.0,490.0 L2518.0,482.0" stroke-width="1.8" fill="none" />
<path d="M2515.0,491.0 L2521.0,484.0" stroke-width="1.8" fill="none" />
<path d="M2534.0,492.0 L2542.0,484.0" stroke-width="1.8" fill="none" />
<path d="M2539.0,493.0 L2545.0,486.0" stroke-width="1.8" fill="none" />
<path d="M2600,502 L2800,526 L2844,532 Q2984,552 3109,577 Q3224,604 3309,636 L3349,657" stroke-width="4.3" fill="none" />
<path d="M2405,729 L2630,729 M2770,727 L2834,725 Q2984,721 3134,709 Q3234,698 3309,680 L3344,670" stroke-width="4.3" fill="none" />
<path d="M2802.0,527.0 L2790.0,726.0" stroke-width="3.3" fill="none" />
<path d="M2846.0,532.0 L2833.0,726.0" stroke-width="3.3" fill="none" />
<path d="M2840.0,540.0 L2828.0,720.0" stroke-width="2.4" fill="none" stroke-dasharray="0.1 9" stroke-linecap="round"/>
<path d="M2565.0,607.0 L2820.0,627.0" stroke-width="2.2" fill="none" />
<path d="M2846.0,629.0 L3349.0,663.0" stroke-width="2" fill="none" stroke-dasharray="160 8 8 8"/>
<rect x="2571.0" y="524.0" width="116.0" height="73.0" rx="9" stroke-width="3.3" fill="none" transform="rotate(-2 2629.0 560.5)"/>
<rect x="2577.0" y="530.0" width="104.0" height="61.0" rx="3" stroke-width="2.4" fill="none" stroke-dasharray="0.1 13" stroke-linecap="round" transform="rotate(-2 2629.0 560.5)"/>
<rect x="2695.0" y="530.0" width="97.0" height="95.0" rx="9" stroke-width="3.3" fill="none" transform="rotate(2 2743.5 577.5)"/>
<rect x="2701.0" y="536.0" width="85.0" height="83.0" rx="3" stroke-width="2.4" fill="none" stroke-dasharray="0.1 13" stroke-linecap="round" transform="rotate(2 2743.5 577.5)"/>
<rect x="2626.0" y="632.0" width="55.0" height="68.0" rx="10" stroke-width="3.3" fill="none"/>
<rect x="2632.0" y="638.0" width="43.0" height="56.0" rx="4" stroke-width="2.4" fill="none" stroke-dasharray="0.1 13" stroke-linecap="round"/>
<rect x="2690.0" y="636.0" width="92.0" height="73.0" rx="9" stroke-width="3.3" fill="none" transform="rotate(2 2736.0 672.5)"/>
<rect x="2696.0" y="642.0" width="80.0" height="61.0" rx="3" stroke-width="2.4" fill="none" stroke-dasharray="0.1 13" stroke-linecap="round" transform="rotate(2 2736.0 672.5)"/>
<rect x="2805.0" y="537.0" width="17.0" height="50.0" rx="2" stroke-width="3.3" fill="none"/>
<rect x="2809.0" y="541.0" width="9.0" height="42.0" rx="1" stroke-width="2.4" fill="none" stroke-dasharray="0.1 6" stroke-linecap="round"/>
<rect x="2384.0" y="649.0" width="73.0" height="36.0" rx="9" stroke-width="3.3" fill="none" transform="rotate(-4 2420.5 667.0)"/>
<rect x="2389.0" y="654.0" width="63.0" height="26.0" rx="4" stroke-width="2.4" fill="none" stroke-dasharray="0.1 7" stroke-linecap="round" transform="rotate(-4 2420.5 667.0)"/>
<rect x="2474.0" y="636.0" width="82.0" height="48.0" rx="9" stroke-width="3.3" fill="none" transform="rotate(-4 2515.0 660.0)"/>
<rect x="2479.0" y="641.0" width="72.0" height="38.0" rx="4" stroke-width="2.4" fill="none" stroke-dasharray="0.1 7" stroke-linecap="round" transform="rotate(-4 2515.0 660.0)"/>
<path d="M2405.0,717.0 L2630.0,717.0" stroke-width="3.8" fill="none" />
<path d="M2405.0,717.0 L2405.0,729.0" stroke-width="3.8" fill="none" />
<path d="M2445.0,731.0 L2550.0,743.0 L2630.0,733.0 L2660.0,728.0" stroke-width="3.3" fill="none" />
<path d="M2630.0,717.0 L2630.0,729.0" stroke-width="3.3" fill="none" />
<rect x="2638.0" y="718.0" width="16.0" height="8.0" rx="1" stroke-width="1" fill="#000"/>
<rect x="2735.0" y="716.0" width="35.0" height="10.0" rx="1" stroke-width="1" fill="#000"/>
<path d="M2660,766 L2730,748 Q2744,736 2752,728 L2775,726 L2768,742 Q2756,756 2742,760 L2664,774 Q2656,772 2660,766Z" stroke-width="3.3" fill="none" />
<circle cx="2750.0" cy="742.0" r="5" stroke-width="3.3" fill="none"/>
<path d="M2793.0,728.0 L2792.0,748.0" stroke-width="2.2" fill="none" />
<path d="M2797.0,728.0 L2796.0,748.0" stroke-width="2.2" fill="none" />
<path d="M2792.0,748.0 L2796.0,748.0" stroke-width="2.2" fill="none" />
<path d="M2805.0,728.0 L2804.0,748.0" stroke-width="2.2" fill="none" />
<path d="M2809.0,728.0 L2808.0,748.0" stroke-width="2.2" fill="none" />
<path d="M2804.0,748.0 L2808.0,748.0" stroke-width="2.2" fill="none" />
<path d="M2817.0,728.0 L2816.0,748.0" stroke-width="2.2" fill="none" />
<path d="M2821.0,728.0 L2820.0,748.0" stroke-width="2.2" fill="none" />
<path d="M2816.0,748.0 L2820.0,748.0" stroke-width="2.2" fill="none" />
<path d="M3344,657 L3349,671 L3372,668 L3372,662 Z" stroke-width="3.3" fill="none" />
<path d="M3349,660 L3420,666 L3450,667 L3560,676 L3660,683 L3690,686 L3734,688" stroke-width="3.8" fill="none" />
<path d="M3372,668 L3450,673 L3560,680 L3660,686" stroke-width="3.8" fill="none" />
<path d="M3440,664 L3480,668 L3480,674 L3440,672Z" stroke-width="1" fill="#000" />
<path d="M3580,676 L3690,685 L3690,687 L3580,682Z" stroke-width="1" fill="#000" />
<path d="M3417,642 L3422,640 L3434,666 L3422,694 L3414,697 L3426,668 Z" stroke-width="2.2" fill="none" />
<path d="M3436,644 L3442,642 L3458,668 L3444,692 L3436,695 L3448,668 Z" stroke-width="2.2" fill="none" />
<path d="M3565,662 L3572,660 L3580,676 L3568,692 L3560,692 L3572,676 Z" stroke-width="2.2" fill="none" />
<circle cx="3655.0" cy="685.0" r="3" stroke-width="1" fill="#000"/>
<circle cx="3686.0" cy="687.0" r="2.5" stroke-width="1" fill="#000"/>
<path d="M878,1435 L878,1384 Q880,1372 892,1368 Q925,1365 958,1366 L1011,1371 L1031,1376" stroke-width="4.3" fill="none" />
<path d="M884,1434 L884,1386 Q886,1376 896,1373 L958,1371 L1008,1376" stroke-width="2.2" fill="none" />
<path d="M889,1430 L889,1388 Q891,1380 898,1378 L958,1376 L1002,1380" stroke-width="2" fill="none" stroke-dasharray="0.1 6" stroke-linecap="round"/>
<path d="M878.0,1435.0 L880.0,1962.0" stroke-width="3.8" fill="none" />
<path d="M884.0,1435.0 L885.0,1962.0" stroke-width="2.2" fill="none" />
<path d="M858.0,1404.0 L878.0,1404.0" stroke-width="2.2" fill="none" />
<path d="M878.0,1400.0 L884.0,1400.0" stroke-width="2.2" fill="none" />
<path d="M878.0,1408.0 L884.0,1408.0" stroke-width="2.2" fill="none" />
<path d="M1031.0,1376.0 L1276.0,1621.0" stroke-width="4.3" fill="none" />
<path d="M1300.0,1642.0 L1862.0,1967.0" stroke-width="4.3" fill="none" />
<path d="M1276.0,1621.0 L1300.0,1642.0" stroke-width="3.8" fill="none" />
<path d="M1005.0,1373.0 L995.0,1401.0 L1201.0,1617.0" stroke-width="3.3" fill="none" />
<path d="M1213.0,1645.0 L1320.0,1716.0 L1737.0,1967.0" stroke-width="3.3" fill="none" />
<path d="M1002.0,1401.0 L1206.0,1615.0" stroke-width="2.4" fill="none" stroke-dasharray="0.1 7" stroke-linecap="round"/>
<path d="M1218.0,1641.0 L1322.0,1710.0 L1742.0,1964.0" stroke-width="2.4" fill="none" stroke-dasharray="0.1 7" stroke-linecap="round"/>
<path d="M1034.0,1385.0 L1272.0,1624.0" stroke-width="2.2" fill="none" stroke-dasharray="0.1 7" stroke-linecap="round"/>
<path d="M1304.0,1650.0 L1850.0,1966.0" stroke-width="2.2" fill="none" stroke-dasharray="0.1 7" stroke-linecap="round"/>
<path d="M1011.0,1413.0 L1039.0,1389.0" stroke-width="3.3" fill="none" />
<path d="M1014.0,1416.0 L1042.0,1392.0" stroke-width="2" fill="none" stroke-dasharray="0.1 5" stroke-linecap="round"/>
<path d="M1063.0,1467.0 L1094.0,1440.0" stroke-width="3.3" fill="none" />
<path d="M1066.0,1470.0 L1097.0,1443.0" stroke-width="2" fill="none" stroke-dasharray="0.1 5" stroke-linecap="round"/>
<path d="M1090.0,1496.0 L1125.0,1471.0" stroke-width="3.3" fill="none" />
<path d="M1093.0,1499.0 L1128.0,1474.0" stroke-width="2" fill="none" stroke-dasharray="0.1 5" stroke-linecap="round"/>
<path d="M1180.0,1588.0 L1209.0,1562.0" stroke-width="3.3" fill="none" />
<path d="M1183.0,1591.0 L1212.0,1565.0" stroke-width="2" fill="none" stroke-dasharray="0.1 5" stroke-linecap="round"/>
<path d="M1186,1586 L1209,1565 L1225,1587 Q1222,1596 1212,1599 Q1200,1598 1186,1586Z" stroke-width="3.3" fill="none" />
<path d="M1300.0,1643.0 L1279.0,1686.0" stroke-width="2.2" fill="none" />
<path d="M1333.0,1670.0 L1314.0,1709.0" stroke-width="2.2" fill="none" />
<path d="M1524.0,1783.0 L1504.0,1826.0" stroke-width="2.2" fill="none" />
<circle cx="1314.0" cy="1670.0" r="16" stroke-width="3.3" fill="none"/>
<circle cx="1314.0" cy="1670.0" r="12" stroke-width="2.2" fill="none" stroke-dasharray="0.1 6" stroke-linecap="round"/>
<rect x="1367.0" y="1712.0" width="55.0" height="21.0" rx="9" stroke-width="3.3" fill="none" transform="rotate(30 1394.5 1722.5)"/>
<rect x="1371.0" y="1716.0" width="47.0" height="13.0" rx="5" stroke-width="2.4" fill="none" stroke-dasharray="0.1 6" stroke-linecap="round" transform="rotate(30 1394.5 1722.5)"/>
<rect x="1457.0" y="1752.0" width="36.0" height="16.0" rx="6" stroke-width="3.3" fill="none" transform="rotate(30 1475.0 1760.0)"/>
<rect x="1460.5" y="1755.5" width="29.0" height="9.0" rx="2.5" stroke-width="2.4" fill="none" stroke-dasharray="0.1 6" stroke-linecap="round" transform="rotate(30 1475.0 1760.0)"/>
<circle cx="1503.0" cy="1789.0" r="9" stroke-width="3.3" fill="none"/>
<circle cx="1503.0" cy="1789.0" r="6" stroke-width="2.2" fill="none" stroke-dasharray="0.1 5" stroke-linecap="round"/>
<circle cx="1535.0" cy="1791.0" r="9" stroke-width="3.3" fill="none"/>
<circle cx="1535.0" cy="1791.0" r="6" stroke-width="2.2" fill="none" stroke-dasharray="0.1 5" stroke-linecap="round"/>
<circle cx="1568.0" cy="1804.0" r="3" stroke-width="1" fill="#000"/>
<rect x="1558.0" y="1810.0" width="30.0" height="16.0" rx="5" stroke-width="3.3" fill="none" transform="rotate(30 1573.0 1818.0)"/>
<rect x="1561.5" y="1813.5" width="23.0" height="9.0" rx="1.5" stroke-width="2.4" fill="none" stroke-dasharray="0.1 6" stroke-linecap="round" transform="rotate(30 1573.0 1818.0)"/>
<rect x="1612.0" y="1846.0" width="30.0" height="16.0" rx="5" stroke-width="3.3" fill="none" transform="rotate(30 1627.0 1854.0)"/>
<rect x="1615.5" y="1849.5" width="23.0" height="9.0" rx="1.5" stroke-width="2.4" fill="none" stroke-dasharray="0.1 6" stroke-linecap="round" transform="rotate(30 1627.0 1854.0)"/>
<circle cx="1604.0" cy="1872.0" r="9" stroke-width="3.3" fill="none"/>
<circle cx="1604.0" cy="1872.0" r="5" stroke-width="3.3" fill="none"/>
<rect x="1636.0" y="1866.0" width="14.0" height="14.0" rx="2" stroke-width="3.3" fill="none" transform="rotate(30 1643.0 1873.0)"/>
<rect x="1640.0" y="1870.0" width="6.0" height="6.0" rx="1" stroke-width="1" fill="#000" transform="rotate(30 1643.0 1873.0)"/>
<circle cx="1668.0" cy="1880.0" r="8" stroke-width="3.3" fill="none"/>
<circle cx="1668.0" cy="1880.0" r="5" stroke-width="2.2" fill="none" stroke-dasharray="0.1 5" stroke-linecap="round"/>
<rect x="1684.0" y="1905.0" width="36.0" height="22.0" rx="5" stroke-width="3.3" fill="none" transform="rotate(-60 1702.0 1916.0)"/>
<rect x="1688.0" y="1909.0" width="28.0" height="14.0" rx="1" stroke-width="2.4" fill="none" stroke-dasharray="0.1 6" stroke-linecap="round" transform="rotate(-60 1702.0 1916.0)"/>
<rect x="1745.0" y="1934.0" width="58.0" height="24.0" rx="9" stroke-width="3.3" fill="none" transform="rotate(30 1774.0 1946.0)"/>
<rect x="1749.0" y="1938.0" width="50.0" height="16.0" rx="5" stroke-width="2.4" fill="none" stroke-dasharray="0.1 6" stroke-linecap="round" transform="rotate(30 1774.0 1946.0)"/>
<path d="M1660.0,1877.0 L1890.0,1877.0" stroke-width="2" fill="none" stroke-dasharray="60 7 7 7"/>
<path d="M878.0,1434.0 L933.0,1434.0" stroke-width="4.3" fill="none" />
<path d="M921.0,1434.0 L967.0,1709.0" stroke-width="3.8" fill="none" />
<path d="M933.0,1434.0 L982.0,1710.0" stroke-width="3.8" fill="none" />
<path d="M917.0,1421.0 L972.0,1756.0" stroke-width="1.8" fill="none" />
<path d="M927.0,1440.0 L974.0,1706.0" stroke-width="2.2" fill="none" stroke-dasharray="0.1 7" stroke-linecap="round"/>
<path d="M878.0,1711.0 L950.0,1711.0 L1058.0,1713.0" stroke-width="3.8" fill="none" />
<rect x="914.0" y="1456.0" width="18.0" height="12.0" rx="3" stroke-width="3.3" fill="#000" transform="rotate(10 923.0 1462.0)"/>
<path d="M918.0,1470.0 L935.0,1480.0" stroke-width="3.8" fill="none" />
<rect x="940.0" y="1585.0" width="20.0" height="12.0" rx="3" stroke-width="3.3" fill="none" transform="rotate(10 950.0 1591.0)"/>
<rect x="940.0" y="1587.0" width="8.0" height="9.0" rx="3" stroke-width="1" fill="#000" transform="rotate(10 944.0 1591.5)"/>
<path d="M915.0,1470.0 L915.0,1480.0" stroke-width="2.6" fill="none" stroke-dasharray="0.1 5" stroke-linecap="round"/>
<path d="M938.0,1600.0 L938.0,1620.0" stroke-width="2.6" fill="none" stroke-dasharray="0.1 6" stroke-linecap="round"/>
<path d="M950,1709 L1000,1696 Q1018,1690 1022,1698 Q1020,1706 1006,1709 L992,1714 Q986,1722 980,1714" stroke-width="3.3" fill="none" />
<ellipse cx="1010.0" cy="1700.0" rx="8" ry="4" stroke-width="2.2" fill="none" transform="rotate(-15 1010 1700)"/>
<path d="M950.0,1712.0 L1000.0,1700.0" stroke-width="4.8" fill="none" />
<path d="M942.0,1490.0 L958.0,1491.0 L1107.0,1578.0" stroke-width="2.2" fill="none" />
<path d="M944.0,1495.0 L958.0,1496.0 L1104.0,1583.0" stroke-width="2.4" fill="none" stroke-dasharray="0.1 6" stroke-linecap="round"/>
<path d="M950.0,1486.0 L962.0,1487.0 L1110.0,1573.0" stroke-width="2.4" fill="none" stroke-dasharray="0.1 6" stroke-linecap="round"/>
<circle cx="957.0" cy="1463.0" r="6" stroke-width="3.3" fill="none"/>
<circle cx="976.0" cy="1481.0" r="8" stroke-width="3.3" fill="none"/>
<circle cx="976.0" cy="1481.0" r="5" stroke-width="2.2" fill="none" stroke-dasharray="0.1 5" stroke-linecap="round"/>
<circle cx="978.0" cy="1540.0" r="12" stroke-width="3.3" fill="none"/>
<circle cx="978.0" cy="1540.0" r="8" stroke-width="3.3" fill="none"/>
<path d="M972.0,1540.0 L984.0,1540.0" stroke-width="3.8" fill="none" />
<circle cx="977.0" cy="1584.0" r="6" stroke-width="3.3" fill="none"/>
<circle cx="977.0" cy="1584.0" r="3.5" stroke-width="2.2" fill="none" stroke-dasharray="0.1 4" stroke-linecap="round"/>
<circle cx="985.0" cy="1606.0" r="6" stroke-width="3.3" fill="none"/>
<circle cx="985.0" cy="1606.0" r="3.5" stroke-width="2.2" fill="none" stroke-dasharray="0.1 4" stroke-linecap="round"/>
<ellipse cx="1124.0" cy="1558.0" rx="9" ry="15" stroke-width="3.3" fill="none" transform="rotate(-30 1124 1558)"/>
<ellipse cx="1124" cy="1558" rx="5.5" ry="11" stroke-width="2" fill="none" stroke-dasharray="0.1 5" stroke-linecap="round" transform="rotate(-30 1124 1558)"/>
<path d="M1064.0,1520.0 L1095.0,1555.0" stroke-width="1.8" fill="none" stroke-dasharray="0.1 6" stroke-linecap="round"/>
<path d="M1069.0,1517.0 L1100.0,1552.0" stroke-width="1.8" fill="none" stroke-dasharray="0.1 6" stroke-linecap="round"/>
<path d="M1074.0,1514.0 L1105.0,1549.0" stroke-width="1.8" fill="none" stroke-dasharray="0.1 6" stroke-linecap="round"/>
<path d="M1107,1578 L1119,1606 L1119,1617 L1143,1617 L1149,1602 L1136,1578 L1124,1583 Z" stroke-width="3.3" fill="none" />
<path d="M1114.0,1588.0 L1124.0,1604.0 L1142.0,1600.0 L1132.0,1584.0Z" stroke-width="2" fill="none" stroke-dasharray="0.1 5" stroke-linecap="round"/>
<rect x="969.0" y="1621.0" width="27.0" height="22.0" rx="1" stroke-width="3.3" fill="none"/>
<path d="M995,1632 L1030,1622 L1280,1621 L1320,1627 L1335,1633 L1320,1639 L1280,1643 L1030,1643 Z" stroke-width="4.3" fill="none" />
<path d="M1012,1632 L1035,1627 L1300,1627 M1012,1633 L1035,1638 L1300,1638" stroke-width="3.3" fill="none" />
<path d="M1040.0,1632.0 L1330.0,1632.0" stroke-width="2.5" fill="none" stroke-dasharray="70 8 8 8"/>
<path d="M1335.0,1633.0 L1368.0,1633.0" stroke-width="1.8" fill="none" />
<path d="M1105.0,1617.0 L1150.0,1617.0" stroke-width="4.8" fill="none" />
<path d="M1150,1646 Q1160,1652 1170,1646 M1238,1648 L1255,1648 L1255,1643" stroke-width="3.3" fill="none" />
<path d="M1212.0,1645.0 L1232.0,1660.0 L1232.0,1650.0" stroke-width="2.2" fill="none" />
<path d="M1138.0,1647.0 L1153.0,1756.0 L1178.0,1932.0 L1192.0,1950.0 L1192.0,1967.0" stroke-width="3.3" fill="none" />
<path d="M1143.0,1650.0 L1158.0,1756.0 L1183.0,1930.0" stroke-width="2.2" fill="none" stroke-dasharray="0.1 7" stroke-linecap="round"/>
<path d="M1138,1647 L1218,1647" stroke-width="3.3" fill="none" />
<circle cx="1155.0" cy="1656.0" r="4" stroke-width="3.3" fill="none"/>
<path d="M1322,1715 L1325,1835 Q1325,1850 1335,1852 L1355,1852 M1325,1835 L1322,1930 L1312,1945 L1312,1967" stroke-width="3.3" fill="none" />
<path d="M1318,1720 L1320,1835 L1317,1930" stroke-width="2.2" fill="none" stroke-dasharray="0.1 7" stroke-linecap="round"/>
<circle cx="1247.0" cy="1694.0" r="11.5" stroke-width="3.3" fill="none"/>
<circle cx="1247.0" cy="1694.0" r="8.0" stroke-width="2.2" fill="none" stroke-dasharray="0.1 5" stroke-linecap="round"/>
<circle cx="1220.0" cy="1747.0" r="11.5" stroke-width="3.3" fill="none"/>
<circle cx="1220.0" cy="1747.0" r="8.0" stroke-width="2.2" fill="none" stroke-dasharray="0.1 5" stroke-linecap="round"/>
<circle cx="1281.0" cy="1746.0" r="11.5" stroke-width="3.3" fill="none"/>
<circle cx="1281.0" cy="1746.0" r="8.0" stroke-width="2.2" fill="none" stroke-dasharray="0.1 5" stroke-linecap="round"/>
<circle cx="1221.0" cy="1836.0" r="11.5" stroke-width="3.3" fill="none"/>
<circle cx="1221.0" cy="1836.0" r="8.0" stroke-width="2.2" fill="none" stroke-dasharray="0.1 5" stroke-linecap="round"/>
<circle cx="1281.0" cy="1835.0" r="11.5" stroke-width="3.3" fill="none"/>
<circle cx="1281.0" cy="1835.0" r="8.0" stroke-width="2.2" fill="none" stroke-dasharray="0.1 5" stroke-linecap="round"/>
<circle cx="1220.0" cy="1897.0" r="11.5" stroke-width="3.3" fill="none"/>
<circle cx="1220.0" cy="1897.0" r="8.0" stroke-width="2.2" fill="none" stroke-dasharray="0.1 5" stroke-linecap="round"/>
<circle cx="1281.0" cy="1899.0" r="11.5" stroke-width="3.3" fill="none"/>
<circle cx="1281.0" cy="1899.0" r="8.0" stroke-width="2.2" fill="none" stroke-dasharray="0.1 5" stroke-linecap="round"/>
<circle cx="1105.0" cy="1870.0" r="9" stroke-width="3.3" fill="none"/>
<circle cx="1105.0" cy="1870.0" r="6" stroke-width="2.2" fill="none" stroke-dasharray="0.1 5" stroke-linecap="round"/>
<rect x="1193.0" y="1945.0" width="38.0" height="22.0" rx="11" stroke-width="3.3" fill="none"/>
<rect x="1197.0" y="1949.0" width="30.0" height="14.0" rx="7" stroke-width="2.4" fill="none" stroke-dasharray="0.1 5" stroke-linecap="round"/>
<rect x="1267.0" y="1944.0" width="39.0" height="22.0" rx="11" stroke-width="3.3" fill="none"/>
<rect x="1271.0" y="1948.0" width="31.0" height="14.0" rx="7" stroke-width="2.4" fill="none" stroke-dasharray="0.1 5" stroke-linecap="round"/>
<circle cx="1085.0" cy="1691.0" r="2.5" stroke-width="2.2" fill="none"/>
<path d="M1085,1700 L1090,1708 L1085,1716 L1080,1708Z" stroke-width="3.3" fill="none" />
<ellipse cx="1130.0" cy="1693.0" rx="2.5" ry="6" stroke-width="3.3" fill="none"/>
<ellipse cx="1141.0" cy="1719.0" rx="4" ry="7" stroke-width="3.3" fill="#000"/>
<path d="M1148.0,1705.0 L1172.0,1705.0" stroke-width="2" fill="none" stroke-dasharray="0.1 5" stroke-linecap="round"/>
<path d="M1148.0,1711.0 L1172.0,1711.0" stroke-width="2" fill="none" stroke-dasharray="0.1 5" stroke-linecap="round"/>
<path d="M969.0,1712.0 L969.0,1972.0" stroke-width="3.3" fill="none" />
<path d="M1040.0,1712.0 L1040.0,1962.0" stroke-width="3.3" fill="none" />
<path d="M1048.0,1712.0 L1048.0,1962.0" stroke-width="2.2" fill="none" />
<path d="M1058.0,1712.0 L1058.0,1962.0" stroke-width="3.3" fill="none" />
<path d="M1036.0,1716.0 L1036.0,1960.0" stroke-width="2.2" fill="none" stroke-dasharray="0.1 9" stroke-linecap="round"/>
<path d="M1064.0,1716.0 L1064.0,1960.0" stroke-width="2.2" fill="none" stroke-dasharray="0.1 9" stroke-linecap="round"/>
<path d="M1070.0,1716.0 L1070.0,1930.0" stroke-width="2" fill="none" stroke-dasharray="0.1 9" stroke-linecap="round"/>
<path d="M1053.0,1700.0 L1053.0,1716.0" stroke-width="1.8" fill="none" />
<rect x="1041.0" y="1716.0" width="16.0" height="14.0" rx="1" stroke-width="3.3" fill="none"/>
<rect x="1012.0" y="1926.0" width="16.0" height="18.0" rx="4" stroke-width="3.8" fill="none"/>
<circle cx="1020.0" cy="1935.0" r="4" stroke-width="3.3" fill="none"/>
<path d="M1028.0,1933.0 L1070.0,1933.0" stroke-width="3.3" fill="none" />
<path d="M1028.0,1938.0 L1070.0,1938.0" stroke-width="3.3" fill="none" />
<rect x="1070.0" y="1928.0" width="35.0" height="14.0" rx="5" stroke-width="3.3" fill="none"/>
<path d="M1100,1920 L1130,1917 L1150,1920 L1160,1928 L1160,1944 L1148,1952 L1100,1950 Q1094,1935 1100,1920Z" stroke-width="3.8" fill="none" />
<path d="M1108,1928 L1140,1926 Q1150,1934 1140,1944 L1108,1942 Q1102,1935 1108,1928Z" stroke-width="3.3" fill="none" />
<rect x="1118.0" y="1952.0" width="52.0" height="16.0" rx="2" stroke-width="3.3" fill="none"/>
<rect x="1122.0" y="1956.0" width="44.0" height="8.0" rx="1" stroke-width="2.4" fill="none" stroke-dasharray="0.1 6" stroke-linecap="round"/>
<rect x="1036.0" y="1944.0" width="20.0" height="22.0" rx="3" stroke-width="3.8" fill="none"/>
<path d="M1075.0,1946.0 L1112.0,1946.0" stroke-width="2" fill="none" stroke-dasharray="0.1 6" stroke-linecap="round"/>
<path d="M1362,1752 L1360,1825 Q1362,1832 1375,1834 Q1392,1840 1392,1860 Q1385,1880 1350,1905 Q1338,1925 1340,1945 Q1342,1962 1350,1975" stroke-width="4.3" fill="none" />
<path d="M1362.0,1752.0 L1455.0,1822.0 L1500.0,1930.0" stroke-width="3.8" fill="none" />
<path d="M1500.0,1822.0 L1500.0,2022.0" stroke-width="3.3" fill="none" />
<path d="M1496.0,1830.0 L1496.0,1960.0" stroke-width="2.4" fill="none" stroke-dasharray="0.1 9" stroke-linecap="round"/>
<path d="M1325.0,1730.0 L1362.0,1752.0" stroke-width="3.3" fill="none" />
<path d="M1370.0,1775.0 L1372.0,1815.0" stroke-width="2" fill="none" stroke-dasharray="0.1 8" stroke-linecap="round"/>
<path d="M1392.0,1795.0 L1410.0,1800.0" stroke-width="2" fill="none" stroke-dasharray="0.1 6" stroke-linecap="round"/>
<rect x="1515.0" y="1848.0" width="34.0" height="52.0" rx="16" stroke-width="3.3" fill="none"/>
<rect x="1519.5" y="1852.5" width="25.0" height="43.0" rx="11.5" stroke-width="2.4" fill="none" stroke-dasharray="0.1 6" stroke-linecap="round"/>
<rect x="1507.0" y="1932.0" width="23.0" height="30.0" rx="2" stroke-width="3.3" fill="none"/>
<rect x="1511.0" y="1936.0" width="15.0" height="22.0" rx="1" stroke-width="2.4" fill="none" stroke-dasharray="0.1 6" stroke-linecap="round"/>
<path d="M1350,1975 Q1365,2005 1385,2024 L1500,2022" stroke-width="4.3" fill="none" />
<path d="M1385.0,2024.0 L1387.0,2030.0" stroke-width="3.8" fill="none" />
<path d="M1496.0,2022.0 L1496.0,2030.0" stroke-width="3.8" fill="none" />
<path d="M1470.0,2022.0 L1470.0,2028.0" stroke-width="3.8" fill="none" />
<path d="M1400,1968 L1400,1950 Q1408,1938 1418,1950 L1420,1968" stroke-width="3.3" fill="none" />
<path d="M1455,1822 L1490,1905 L1480,1920 L1445,1960 L1430,1970" stroke-width="4.3" fill="none" />
<path d="M1400,1965 Q1395,1900 1410,1862 Q1425,1842 1450,1846 Q1470,1852 1475,1880 Q1478,1910 1440,1955" stroke-width="2.2" fill="none" stroke-dasharray="14 5 3 5"/>
<ellipse cx="1440" cy="1895" rx="17" ry="34" stroke-width="2" fill="none" stroke-dasharray="12 5 3 5" transform="rotate(20 1440 1895)"/>
<ellipse cx="1440.0" cy="1895.0" rx="11" ry="27" stroke-width="2.2" fill="none" transform="rotate(20 1440 1895)"/>
<circle cx="1438.0" cy="1938.0" r="2.5" stroke-width="1" fill="#000"/>
<path d="M1390.0,1920.0 L1390.0,1950.0" stroke-width="2" fill="none" stroke-dasharray="0.1 6" stroke-linecap="round"/>
<path d="M1384.0,1920.0 L1384.0,1950.0" stroke-width="2" fill="none" stroke-dasharray="0.1 6" stroke-linecap="round"/>
<path d="M1388.0,2008.0 L1388.0,2018.0" stroke-width="2" fill="none" stroke-dasharray="0.1 5" stroke-linecap="round"/>
<path d="M1480.0,2000.0 L1480.0,2018.0" stroke-width="2" fill="none" stroke-dasharray="0.1 5" stroke-linecap="round"/>
<path d="M1490.0,2000.0 L1490.0,2018.0" stroke-width="2" fill="none" stroke-dasharray="0.1 5" stroke-linecap="round"/>
<path d="M103,1727 L103,1713 Q112,1706 125,1706 L200,1707 Q215,1710 222,1714 L240,1725" stroke-width="4.3" fill="none" />
<path d="M107.0,1727.0 L235.0,1967.0 L300.0,1977.0 L360.0,1970.0" stroke-width="4.3" fill="none" />
<path d="M112.0,1730.0 L238.0,1962.0" stroke-width="2.2" fill="none" />
<path d="M240.0,1725.0 L647.0,1959.0" stroke-width="4.3" fill="none" />
<path d="M265.0,1738.0 L595.0,1945.0 L592.0,1958.0" stroke-width="3.3" fill="none" />
<path d="M147.0,1727.0 L350.0,1965.0" stroke-width="2.2" fill="none" />
<path d="M275.0,1875.0 L227.0,1932.0" stroke-width="2.2" fill="none" />
<path d="M82.0,1727.0 L107.0,1727.0" stroke-width="2.2" fill="none" />
<path d="M150.0,1720.0 L205.0,1720.0" stroke-width="2.2" fill="none" stroke-dasharray="0.1 6" stroke-linecap="round"/>
<path d="M240.0,1968.0 L300.0,1974.0" stroke-width="2.2" fill="none" stroke-dasharray="0.1 6" stroke-linecap="round"/>
<path d="M360.0,1852.0 L455.0,1940.0" stroke-width="2.4" fill="none" stroke-dasharray="0.1 7" stroke-linecap="round"/>
<path d="M366.0,1846.0 L462.0,1934.0" stroke-width="2.4" fill="none" stroke-dasharray="0.1 7" stroke-linecap="round"/>
<path d="M500.0,1890.0 L590.0,1947.0" stroke-width="2.4" fill="none" stroke-dasharray="0.1 7" stroke-linecap="round"/>
<path d="M150.0,1732.0 L180.0,1775.0" stroke-width="2.2" fill="none" stroke-dasharray="0.1 7" stroke-linecap="round"/>
<path d="M395.0,1816.0 L400.0,1812.0" stroke-width="4.8" fill="none" />
<path d="M498.0,1878.0 L503.0,1874.0" stroke-width="4.8" fill="none" />
<path d="M207,1733 L212,1727 L400,1724 L420,1725 L445,1728 L420,1732 L400,1734 L212,1737 Z" stroke-width="3.8" fill="none" />
<path d="M215.0,1730.0 L410.0,1728.0" stroke-width="3.3" fill="none" />
<path d="M445.0,1728.0 L447.0,1728.0" stroke-width="2.2" fill="none" />
<path d="M300.0,1722.0 L400.0,1722.0" stroke-width="2.2" fill="none" stroke-dasharray="0.1 12" stroke-linecap="round"/>
<circle cx="429.0" cy="1934.0" r="10" stroke-width="3.3" fill="none"/>
<circle cx="429.0" cy="1934.0" r="6" stroke-width="2.2" fill="none" stroke-dasharray="0.1 6" stroke-linecap="round"/>
<path d="M432,1962 L455,1940 Q470,1930 482,1938 L505,1955 L505,1962" stroke-width="3.3" fill="none" />
<path d="M456,1958 L456,1946 Q468,1934 480,1946 L480,1962" stroke-width="3.3" fill="none" />
<path d="M460,1958 L460,1950 Q468,1942 476,1950 L476,1962" stroke-width="2.2" fill="none" />
<ellipse cx="360.0" cy="1966.0" rx="10" ry="5" stroke-width="3.3" fill="none"/>
<path d="M292.0,1982.0 L377.0,1972.0" stroke-width="3.8" fill="none" />
<path d="M292.0,1982.0 L292.0,2096.0" stroke-width="4.3" fill="none" />
<path d="M360.0,1972.0 L360.0,2137.5" stroke-width="3.3" fill="none" />
<path d="M377.0,1972.0 L377.0,2137.5" stroke-width="3.8" fill="none" />
<path d="M366.0,1978.0 L366.0,2137.5" stroke-width="2.8" fill="none" stroke-dasharray="0.1 9" stroke-linecap="round"/>
<path d="M372.0,1978.0 L372.0,2137.5" stroke-width="2.8" fill="none" stroke-dasharray="0.1 9" stroke-linecap="round"/>
<path d="M377.0,1972.0 L460.0,1962.0" stroke-width="3.8" fill="none" />
<path d="M380.0,1995.0 L460.0,1980.0" stroke-width="2.2" fill="none" />
<path d="M383,1985 Q400,1972 430,1978 Q440,1982 432,1988 Q415,1996 395,1992 Z" stroke-width="3.3" fill="none" />
<path d="M292,2047 Q285,2065 268,2090 Q255,2108 243,2115 L216,2133 L212,2137.5" stroke-width="4.3" fill="none" />
<path d="M293,2094 Q291,2108 275,2120 L257,2133 L251,2137.5" stroke-width="4.3" fill="none" />
<path d="M243,2115 L214,2114 Q190,2117 168,2123 L73,2136 L43,2137.5" stroke-width="4.3" fill="none" />
<path d="M171.0,2123.0 L171.0,2137.5" stroke-width="3.3" fill="none" />
<path d="M160,2127 Q151,2132 148,2137.5" stroke-width="3.3" fill="none" />
<path d="M80.0,2137.0 L150.0,2130.0" stroke-width="2.2" fill="none" />
<path d="M460.0,1962.0 L830.0,1960.0 L878.0,1961.0" stroke-width="4.3" fill="none" />
<path d="M460.0,1962.0 L458.0,2137.5" stroke-width="3.3" fill="none" />
<path d="M830.0,1960.0 L830.0,2137.5" stroke-width="3.3" fill="none" />
<path d="M460,2037 Q560,2027 650,2025 L830,2027 Q1000,2030 1150,2035" stroke-width="3.3" fill="none" />
<rect x="497.0" y="1974.0" width="87.0" height="38.0" rx="7" stroke-width="3.3" fill="none"/>
<rect x="502.0" y="1979.0" width="77.0" height="28.0" rx="2" stroke-width="2.4" fill="none" stroke-dasharray="0.1 7" stroke-linecap="round"/>
<rect x="522.0" y="2016.0" width="25.0" height="14.0" rx="7" stroke-width="3.3" fill="none"/>
<rect x="525.5" y="2019.5" width="18.0" height="7.0" rx="3.5" stroke-width="2.4" fill="none" stroke-dasharray="0.1 5" stroke-linecap="round"/>
<rect x="572.0" y="2015.0" width="20.0" height="14.0" rx="7" stroke-width="3.3" fill="none"/>
<rect x="575.5" y="2018.5" width="13.0" height="7.0" rx="3.5" stroke-width="2.4" fill="none" stroke-dasharray="0.1 5" stroke-linecap="round"/>
<rect x="645.0" y="1971.0" width="27.0" height="11.0" rx="5" stroke-width="3.3" fill="none"/>
<rect x="648.0" y="1974.0" width="21.0" height="5.0" rx="2" stroke-width="2.4" fill="none" stroke-dasharray="0.1 5" stroke-linecap="round"/>
<rect x="647.0" y="2010.0" width="28.0" height="15.0" rx="6" stroke-width="3.3" fill="none"/>
<rect x="650.5" y="2013.5" width="21.0" height="8.0" rx="2.5" stroke-width="2.4" fill="none" stroke-dasharray="0.1 5" stroke-linecap="round"/>
<path d="M787,1973 L686,1973 Q681,1974 684,1978 Q698,1990 702,1998 Q698,2008 684,2018 Q681,2023 686,2024 L787,2024 Z" stroke-width="3.8" fill="none" />
<path d="M760.0,1985.0 L760.0,2012.0" stroke-width="2.2" fill="none" stroke-dasharray="0.1 6" stroke-linecap="round"/>
<path d="M782.0,1978.0 L782.0,2020.0" stroke-width="2.2" fill="none" stroke-dasharray="0.1 6" stroke-linecap="round"/>
<path d="M787.0,1978.0 L815.0,1978.0" stroke-width="4.3" fill="none" />
<path d="M787.0,2018.0 L815.0,2018.0" stroke-width="4.3" fill="none" />
<path d="M790.0,1978.0 L790.0,2018.0" stroke-width="3.3" fill="none" />
<ellipse cx="806.0" cy="1998.0" rx="12" ry="8" stroke-width="3.3" fill="none"/>
<circle cx="806.0" cy="1998.0" r="2" stroke-width="1" fill="#000"/>
<rect x="812.0" y="2025.0" width="41.0" height="6.0" rx="3" stroke-width="3.3" fill="none"/>
<rect x="810.0" y="2082.0" width="45.0" height="7.0" rx="3" stroke-width="3.3" fill="none"/>
<path d="M450,2054 Q455,2046 470,2046 L517,2047 L517,2066 L470,2066 Q455,2064 450,2054Z" stroke-width="3.3" fill="none" />
<path d="M458,2054 Q462,2050 472,2051 L510,2052 L510,2061 L472,2061 Q462,2060 458,2054Z" stroke-width="3.3" fill="none" />
<path d="M470.0,2048.0 L512.0,2049.0" stroke-width="2" fill="none" stroke-dasharray="0.1 5" stroke-linecap="round"/>
<ellipse cx="866.0" cy="1966.0" rx="6" ry="4" stroke-width="2.2" fill="none"/>
<rect x="847.0" y="1979.0" width="43.0" height="26.0" rx="6" stroke-width="3.3" fill="none"/>
<rect x="851.5" y="1983.5" width="34.0" height="17.0" rx="1.5" stroke-width="2.4" fill="none" stroke-dasharray="0.1 7" stroke-linecap="round"/>
<circle cx="865.0" cy="2014.0" r="2.5" stroke-width="1" fill="#000"/>
<circle cx="876.0" cy="2014.0" r="2.5" stroke-width="1" fill="#000"/>
<rect x="916.0" y="1977.0" width="86.0" height="33.0" rx="9" stroke-width="3.8" fill="none"/>
<path d="M948.0,1985.0 L972.0,1985.0" stroke-width="3.8" fill="none" />
<rect x="1040.0" y="1979.0" width="87.0" height="31.0" rx="9" stroke-width="3.8" fill="none"/>
<path d="M1075.0,1985.0 L1100.0,1985.0" stroke-width="3.8" fill="none" />
<path d="M878.0,1961.0 L1040.0,1968.0" stroke-width="4.3" fill="none" />
<path d="M1036,1966 L1150,1969.5 L1300,1971 L1500,1971 L1520,1971 L1520,1980.5 L1300,1981.5 L1150,1979 L1036,1973Z" stroke-width="1" fill="#000" />
<path d="M1518.0,1972.5 L1740.0,1969.0 L1864.0,1966.0" stroke-width="3.8" fill="none" />
<path d="M1518.0,1979.5 L1740.0,1975.0 L1864.0,1969.0" stroke-width="2.5" fill="none" />
<path d="M1150.0,1972.0 L1150.0,2137.5" stroke-width="3.3" fill="none" />
<path d="M1150.0,2012.0 L1362.0,2012.0" stroke-width="2.2" fill="none" />
<path d="M1500.0,2012.0 L1687.0,2015.0 L1927.0,2020.0" stroke-width="2.2" fill="none" />
<path d="M1510.0,1974.0 L1510.0,2012.0" stroke-width="2.2" fill="none" />
<path d="M1680.0,1974.0 L1680.0,2015.0" stroke-width="2.2" fill="none" />
<path d="M1687.0,2015.0 L1687.0,2137.5" stroke-width="3.3" fill="none" />
<path d="M1687.0,2072.0 L1927.0,2076.0" stroke-width="3.3" fill="none" />
<path d="M1927.0,1966.0 L1927.0,2137.5" stroke-width="3.3" fill="none" />
<path d="M1302.0,1985.0 L1320.0,1985.0" stroke-width="2" fill="none" stroke-dasharray="0.1 6" stroke-linecap="round"/>
<path d="M1562.0,1988.0 L1580.0,1988.0" stroke-width="2" fill="none" stroke-dasharray="0.1 6" stroke-linecap="round"/>
<path d="M1622.0,1988.0 L1640.0,1988.0" stroke-width="2" fill="none" stroke-dasharray="0.1 6" stroke-linecap="round"/>
<path d="M1692.0,1990.0 L1710.0,1990.0" stroke-width="2" fill="none" stroke-dasharray="0.1 6" stroke-linecap="round"/>
<path d="M1752.0,1990.0 L1770.0,1990.0" stroke-width="2" fill="none" stroke-dasharray="0.1 6" stroke-linecap="round"/>
<path d="M1812.0,1990.0 L1830.0,1990.0" stroke-width="2" fill="none" stroke-dasharray="0.1 6" stroke-linecap="round"/>
<path d="M1872.0,1990.0 L1890.0,1990.0" stroke-width="2" fill="none" stroke-dasharray="0.1 6" stroke-linecap="round"/>
<rect x="1365.0" y="2065.0" width="28.0" height="16.0" rx="8" stroke-width="3.3" fill="none"/>
<rect x="1368.5" y="2068.5" width="21.0" height="9.0" rx="4.5" stroke-width="2.4" fill="none" stroke-dasharray="0.1 5" stroke-linecap="round"/>
<rect x="1608.0" y="2067.0" width="29.0" height="16.0" rx="8" stroke-width="3.3" fill="none"/>
<rect x="1611.5" y="2070.5" width="22.0" height="9.0" rx="4.5" stroke-width="2.4" fill="none" stroke-dasharray="0.1 5" stroke-linecap="round"/>
<path d="M1255,2098 L1262,2092 L1320,2089 M1262,2104 L1320,2107 M1255,2098 Q1258,2104 1268,2106" stroke-width="3.3" fill="none" />
<path d="M1332.0,2089.0 L1497.0,2089.0" stroke-width="4.3" fill="none" />
<path d="M1332.0,2107.0 L1497.0,2107.0" stroke-width="4.3" fill="none" />
<path d="M1340.0,2096.0 L1490.0,2096.0" stroke-width="2.2" fill="none" />
<circle cx="1322.0" cy="2089.0" r="3.5" stroke-width="1" fill="#000"/>
<circle cx="1322.0" cy="2108.0" r="3.5" stroke-width="1" fill="#000"/>
<circle cx="1510.0" cy="2090.0" r="3.5" stroke-width="1" fill="#000"/>
<circle cx="1510.0" cy="2108.0" r="3.5" stroke-width="1" fill="#000"/>
<path d="M1517,2088 L1550,2094 Q1560,2098 1556,2104 L1517,2108" stroke-width="3.3" fill="none" />
<path d="M1520,2093 L1548,2097 L1548,2102 L1520,2104" stroke-width="2.2" fill="none" />
<ellipse cx="1345.0" cy="2099.0" rx="8" ry="6" stroke-width="2.2" fill="none"/>
<rect x="1363.0" y="2092.0" width="12.0" height="15.0" rx="5" stroke-width="2.2" fill="none"/>
<path d="M1560.0,2101.0 L1630.0,2101.0" stroke-width="2.2" fill="none" />
<path d="M1862.0,1968.0 L1927.0,1965.0 L2200.0,1964.0" stroke-width="4.3" fill="none" />
<path d="M2200,1964 Q2225,1966 2237,1977" stroke-width="4.3" fill="none" />
<path d="M1932.0,1967.0 L1962.0,1966.0 L1966.0,1972.0 L1935.0,1972.0" stroke-width="2.2" fill="none" />
<path d="M2005.0,1964.0 L1995.0,1985.0 L1995.0,2040.0" stroke-width="3.3" fill="none" />
<path d="M2030.0,1965.0 L2020.0,1984.0" stroke-width="2.2" fill="none" />
<path d="M2045.0,1966.0 L2035.0,1984.0 L2185.0,1984.0" stroke-width="3.3" fill="none" />
<path d="M1995.0,1985.0 L2185.0,1984.0" stroke-width="3.3" fill="none" />
<path d="M1995.0,2010.0 L2182.0,2008.0" stroke-width="3.3" fill="none" />
<path d="M1999.0,1989.0 L2182.0,1988.0" stroke-width="2.2" fill="none" stroke-dasharray="0.1 6" stroke-linecap="round"/>
<path d="M1999.0,1994.5 L2182.0,1993.5" stroke-width="2.2" fill="none" stroke-dasharray="0.1 6" stroke-linecap="round"/>
<path d="M1999.0,2000.0 L2182.0,1999.0" stroke-width="2.2" fill="none" stroke-dasharray="0.1 6" stroke-linecap="round"/>
<path d="M1999.0,2005.5 L2182.0,2004.5" stroke-width="2.2" fill="none" stroke-dasharray="0.1 6" stroke-linecap="round"/>
<path d="M2040.0,1968.0 L2036.0,1982.0" stroke-width="1.8" fill="none" stroke-dasharray="0.1 5" stroke-linecap="round"/>
<path d="M2058.0,1968.0 L2054.0,1982.0" stroke-width="1.8" fill="none" stroke-dasharray="0.1 5" stroke-linecap="round"/>
<path d="M2076.0,1968.0 L2072.0,1982.0" stroke-width="1.8" fill="none" stroke-dasharray="0.1 5" stroke-linecap="round"/>
<path d="M2094.0,1968.0 L2090.0,1982.0" stroke-width="1.8" fill="none" stroke-dasharray="0.1 5" stroke-linecap="round"/>
<path d="M2112.0,1968.0 L2108.0,1982.0" stroke-width="1.8" fill="none" stroke-dasharray="0.1 5" stroke-linecap="round"/>
<path d="M2130.0,1968.0 L2126.0,1982.0" stroke-width="1.8" fill="none" stroke-dasharray="0.1 5" stroke-linecap="round"/>
<path d="M2148.0,1968.0 L2144.0,1982.0" stroke-width="1.8" fill="none" stroke-dasharray="0.1 5" stroke-linecap="round"/>
<path d="M2166.0,1968.0 L2162.0,1982.0" stroke-width="1.8" fill="none" stroke-dasharray="0.1 5" stroke-linecap="round"/>
<path d="M2200.0,1964.0 L2182.0,2005.0 L2182.0,2063.0" stroke-width="3.8" fill="none" />
<path d="M2237,1977 L2225,2012 Q2216,2018 2215,2024 L2215,2062" stroke-width="3.8" fill="none" />
<path d="M2237,1981 L2345,2041 L2338,2062 L2320,2066 L2255,2049 Q2235,2035 2228,2018" stroke-width="4.3" fill="none" />
<path d="M2260.0,2028.0 L2255.0,2049.0" stroke-width="2.2" fill="none" />
<path d="M2300.0,2039.0 L2295.0,2058.0" stroke-width="2.2" fill="none" />
<path d="M2230.0,2018.0 L2260.0,2028.0 L2340.0,2046.0" stroke-width="2.2" fill="none" />
<path d="M2182.0,2064.0 L2330.0,2064.0" stroke-width="4.3" fill="none" />
<ellipse cx="1962.0" cy="1984.0" rx="8" ry="5" stroke-width="3.3" fill="none"/>
<circle cx="1943.0" cy="2024.0" r="16" stroke-width="3.8" fill="none"/>
<circle cx="1943.0" cy="2024.0" r="11" stroke-width="3.3" fill="none"/>
<path d="M1937.0,2030.0 L1945.0,2020.0" stroke-width="2.2" fill="none" />
<path d="M1942.0,2032.0 L1950.0,2022.0" stroke-width="2.2" fill="none" />
<path d="M1932,2055 L1970,2042 Q1990,2036 2000,2038 L2040,2050 L2102,2050 L2102,2080 L2045,2080 Q2030,2070 2020,2066 L1975,2064 L1932,2062" stroke-width="3.3" fill="none" />
<path d="M1940,2058 L1975,2050 L2000,2044 L2040,2056 L2096,2056 L2096,2076" stroke-width="2" fill="none" stroke-dasharray="0.1 6" stroke-linecap="round"/>
<path d="M2102.0,2066.0 L2182.0,2064.0" stroke-width="3.8" fill="none" />
<path d="M2102.0,2080.0 L2270.0,2080.0" stroke-width="3.3" fill="none" />
<path d="M2108,2068 L2118,2068 L2118,2076 L2108,2076Z" stroke-width="2.2" fill="none" />
<path d="M2135.0,2072.0 L2270.0,2072.0" stroke-width="2.2" fill="none" />
<path d="M2345.0,2049.0 L2535.0,2044.0 L2765.0,2041.0 L2808.0,2042.0" stroke-width="4.3" fill="none" />
<path d="M2535.0,2044.0 L2535.0,2085.0" stroke-width="3.3" fill="none" />
<path d="M2535.0,2085.0 L2765.0,2085.0" stroke-width="2.2" fill="none" />
<rect x="2355.0" y="2061.0" width="72.0" height="10.0" rx="3" stroke-width="3.3" fill="none"/>
<rect x="2358.0" y="2064.0" width="66.0" height="4.0" rx="1" stroke-width="2.4" fill="none" stroke-dasharray="0.1 6" stroke-linecap="round"/>
<rect x="2445.0" y="2055.0" width="77.0" height="12.0" rx="4" stroke-width="3.3" fill="none" transform="rotate(-2 2483.5 2061.0)"/>
<rect x="2448.0" y="2058.0" width="71.0" height="6.0" rx="1" stroke-width="2.4" fill="none" stroke-dasharray="0.1 6" stroke-linecap="round" transform="rotate(-2 2483.5 2061.0)"/>
<rect x="2605.0" y="2046.0" width="50.0" height="34.0" rx="10" stroke-width="3.3" fill="none"/>
<rect x="2609.5" y="2050.5" width="41.0" height="25.0" rx="5.5" stroke-width="2.4" fill="none" stroke-dasharray="0.1 6" stroke-linecap="round"/>
<rect x="2666.0" y="2045.0" width="89.0" height="32.0" rx="10" stroke-width="3.3" fill="none"/>
<rect x="2670.5" y="2049.5" width="80.0" height="23.0" rx="5.5" stroke-width="2.4" fill="none" stroke-dasharray="0.1 6" stroke-linecap="round"/>
<path d="M2767.0,2041.0 L2760.0,2137.5" stroke-width="3.3" fill="none" />
<path d="M2808,2042 Q2798,2090 2798,2137.5" stroke-width="3.8" fill="none" />
<path d="M2790.0,2048.0 L2783.0,2137.5" stroke-width="2.4" fill="none" stroke-dasharray="0.1 12" stroke-linecap="round"/>
<path d="M2808,2042 Q2980,2052 3100,2075 Q3220,2100 3280,2125 L3308,2137.5" stroke-width="4.3" fill="none" />
<path d="M2270.0,2080.0 L2270.0,2137.5" stroke-width="3.3" fill="none" />
<path d="M2270,2080 L2312,2080 Q2320,2082 2320,2090 L2320,2137.5" stroke-width="3.3" fill="none" />
<rect x="2284.0" y="2087.0" width="26.0" height="15.0" rx="5" stroke-width="3.3" fill="none"/>
<rect x="2287.5" y="2090.5" width="19.0" height="8.0" rx="1.5" stroke-width="2.4" fill="none" stroke-dasharray="0.1 5" stroke-linecap="round"/>
<rect x="2320.0" y="2090.0" width="27.0" height="15.0" rx="4" stroke-width="3.3" fill="none"/>
<rect x="2323.5" y="2093.5" width="20.0" height="8.0" rx="1" stroke-width="2.4" fill="none" stroke-dasharray="0.1 5" stroke-linecap="round"/>
<path d="M2320.0,2110.0 L2377.0,2110.0" stroke-width="3.3" fill="none" />
<path d="M2377.0,2091.0 L2605.0,2093.0 L2605.0,2137.5" stroke-width="3.3" fill="none" />
<path d="M2377.0,2091.0 L2377.0,2137.5" stroke-width="3.3" fill="none" />
<path d="M2400,2114 L2525,2095 L2658,2114 L2525,2130 L2470,2125 Z" stroke-width="3.3" fill="none" />
<path d="M2410,2114 L2525,2099 L2640,2114 L2525,2126 L2475,2121 Z" stroke-width="2.2" fill="none" />
<rect x="2515.0" y="2104.0" width="17.0" height="10.0" rx="3" stroke-width="2.2" fill="none"/>
<path d="M2472,2137.5 Q2478,2128 2500,2126 L2560,2124 Q2590,2130 2592,2137.5" stroke-width="3.3" fill="none" />
<rect x="2612.0" y="2088.0" width="24.0" height="14.0" rx="3" stroke-width="3.3" fill="none"/>
<rect x="2618.0" y="2092.0" width="14.0" height="7.0" rx="2" stroke-width="1" fill="#000"/>
<g transform="translate(0,4275.0) scale(1,-1)">
<path d="M878,1435 L878,1384 Q880,1372 892,1368 Q925,1365 958,1366 L1011,1371 L1031,1376" stroke-width="4.3" fill="none" />
<path d="M884,1434 L884,1386 Q886,1376 896,1373 L958,1371 L1008,1376" stroke-width="2.2" fill="none" />
<path d="M889,1430 L889,1388 Q891,1380 898,1378 L958,1376 L1002,1380" stroke-width="2" fill="none" stroke-dasharray="0.1 6" stroke-linecap="round"/>
<path d="M878.0,1435.0 L880.0,1962.0" stroke-width="3.8" fill="none" />
<path d="M884.0,1435.0 L885.0,1962.0" stroke-width="2.2" fill="none" />
<path d="M858.0,1404.0 L878.0,1404.0" stroke-width="2.2" fill="none" />
<path d="M878.0,1400.0 L884.0,1400.0" stroke-width="2.2" fill="none" />
<path d="M878.0,1408.0 L884.0,1408.0" stroke-width="2.2" fill="none" />
<path d="M1031.0,1376.0 L1276.0,1621.0" stroke-width="4.3" fill="none" />
<path d="M1300.0,1642.0 L1862.0,1967.0" stroke-width="4.3" fill="none" />
<path d="M1276.0,1621.0 L1300.0,1642.0" stroke-width="3.8" fill="none" />
<path d="M1005.0,1373.0 L995.0,1401.0 L1201.0,1617.0" stroke-width="3.3" fill="none" />
<path d="M1213.0,1645.0 L1320.0,1716.0 L1737.0,1967.0" stroke-width="3.3" fill="none" />
<path d="M1002.0,1401.0 L1206.0,1615.0" stroke-width="2.4" fill="none" stroke-dasharray="0.1 7" stroke-linecap="round"/>
<path d="M1218.0,1641.0 L1322.0,1710.0 L1742.0,1964.0" stroke-width="2.4" fill="none" stroke-dasharray="0.1 7" stroke-linecap="round"/>
<path d="M1034.0,1385.0 L1272.0,1624.0" stroke-width="2.2" fill="none" stroke-dasharray="0.1 7" stroke-linecap="round"/>
<path d="M1304.0,1650.0 L1850.0,1966.0" stroke-width="2.2" fill="none" stroke-dasharray="0.1 7" stroke-linecap="round"/>
<path d="M1011.0,1413.0 L1039.0,1389.0" stroke-width="3.3" fill="none" />
<path d="M1014.0,1416.0 L1042.0,1392.0" stroke-width="2" fill="none" stroke-dasharray="0.1 5" stroke-linecap="round"/>
<path d="M1063.0,1467.0 L1094.0,1440.0" stroke-width="3.3" fill="none" />
<path d="M1066.0,1470.0 L1097.0,1443.0" stroke-width="2" fill="none" stroke-dasharray="0.1 5" stroke-linecap="round"/>
<path d="M1090.0,1496.0 L1125.0,1471.0" stroke-width="3.3" fill="none" />
<path d="M1093.0,1499.0 L1128.0,1474.0" stroke-width="2" fill="none" stroke-dasharray="0.1 5" stroke-linecap="round"/>
<path d="M1180.0,1588.0 L1209.0,1562.0" stroke-width="3.3" fill="none" />
<path d="M1183.0,1591.0 L1212.0,1565.0" stroke-width="2" fill="none" stroke-dasharray="0.1 5" stroke-linecap="round"/>
<path d="M1186,1586 L1209,1565 L1225,1587 Q1222,1596 1212,1599 Q1200,1598 1186,1586Z" stroke-width="3.3" fill="none" />
<path d="M1300.0,1643.0 L1279.0,1686.0" stroke-width="2.2" fill="none" />
<path d="M1333.0,1670.0 L1314.0,1709.0" stroke-width="2.2" fill="none" />
<path d="M1524.0,1783.0 L1504.0,1826.0" stroke-width="2.2" fill="none" />
<circle cx="1314.0" cy="1670.0" r="16" stroke-width="3.3" fill="none"/>
<circle cx="1314.0" cy="1670.0" r="12" stroke-width="2.2" fill="none" stroke-dasharray="0.1 6" stroke-linecap="round"/>
<rect x="1367.0" y="1712.0" width="55.0" height="21.0" rx="9" stroke-width="3.3" fill="none" transform="rotate(30 1394.5 1722.5)"/>
<rect x="1371.0" y="1716.0" width="47.0" height="13.0" rx="5" stroke-width="2.4" fill="none" stroke-dasharray="0.1 6" stroke-linecap="round" transform="rotate(30 1394.5 1722.5)"/>
<rect x="1457.0" y="1752.0" width="36.0" height="16.0" rx="6" stroke-width="3.3" fill="none" transform="rotate(30 1475.0 1760.0)"/>
<rect x="1460.5" y="1755.5" width="29.0" height="9.0" rx="2.5" stroke-width="2.4" fill="none" stroke-dasharray="0.1 6" stroke-linecap="round" transform="rotate(30 1475.0 1760.0)"/>
<circle cx="1503.0" cy="1789.0" r="9" stroke-width="3.3" fill="none"/>
<circle cx="1503.0" cy="1789.0" r="6" stroke-width="2.2" fill="none" stroke-dasharray="0.1 5" stroke-linecap="round"/>
<circle cx="1535.0" cy="1791.0" r="9" stroke-width="3.3" fill="none"/>
<circle cx="1535.0" cy="1791.0" r="6" stroke-width="2.2" fill="none" stroke-dasharray="0.1 5" stroke-linecap="round"/>
<circle cx="1568.0" cy="1804.0" r="3" stroke-width="1" fill="#000"/>
<rect x="1558.0" y="1810.0" width="30.0" height="16.0" rx="5" stroke-width="3.3" fill="none" transform="rotate(30 1573.0 1818.0)"/>
<rect x="1561.5" y="1813.5" width="23.0" height="9.0" rx="1.5" stroke-width="2.4" fill="none" stroke-dasharray="0.1 6" stroke-linecap="round" transform="rotate(30 1573.0 1818.0)"/>
<rect x="1612.0" y="1846.0" width="30.0" height="16.0" rx="5" stroke-width="3.3" fill="none" transform="rotate(30 1627.0 1854.0)"/>
<rect x="1615.5" y="1849.5" width="23.0" height="9.0" rx="1.5" stroke-width="2.4" fill="none" stroke-dasharray="0.1 6" stroke-linecap="round" transform="rotate(30 1627.0 1854.0)"/>
<circle cx="1604.0" cy="1872.0" r="9" stroke-width="3.3" fill="none"/>
<circle cx="1604.0" cy="1872.0" r="5" stroke-width="3.3" fill="none"/>
<rect x="1636.0" y="1866.0" width="14.0" height="14.0" rx="2" stroke-width="3.3" fill="none" transform="rotate(30 1643.0 1873.0)"/>
<rect x="1640.0" y="1870.0" width="6.0" height="6.0" rx="1" stroke-width="1" fill="#000" transform="rotate(30 1643.0 1873.0)"/>
<circle cx="1668.0" cy="1880.0" r="8" stroke-width="3.3" fill="none"/>
<circle cx="1668.0" cy="1880.0" r="5" stroke-width="2.2" fill="none" stroke-dasharray="0.1 5" stroke-linecap="round"/>
<rect x="1684.0" y="1905.0" width="36.0" height="22.0" rx="5" stroke-width="3.3" fill="none" transform="rotate(-60 1702.0 1916.0)"/>
<rect x="1688.0" y="1909.0" width="28.0" height="14.0" rx="1" stroke-width="2.4" fill="none" stroke-dasharray="0.1 6" stroke-linecap="round" transform="rotate(-60 1702.0 1916.0)"/>
<rect x="1745.0" y="1934.0" width="58.0" height="24.0" rx="9" stroke-width="3.3" fill="none" transform="rotate(30 1774.0 1946.0)"/>
<rect x="1749.0" y="1938.0" width="50.0" height="16.0" rx="5" stroke-width="2.4" fill="none" stroke-dasharray="0.1 6" stroke-linecap="round" transform="rotate(30 1774.0 1946.0)"/>
<path d="M1660.0,1877.0 L1890.0,1877.0" stroke-width="2" fill="none" stroke-dasharray="60 7 7 7"/>
<path d="M878.0,1434.0 L933.0,1434.0" stroke-width="4.3" fill="none" />
<path d="M921.0,1434.0 L967.0,1709.0" stroke-width="3.8" fill="none" />
<path d="M933.0,1434.0 L982.0,1710.0" stroke-width="3.8" fill="none" />
<path d="M917.0,1421.0 L972.0,1756.0" stroke-width="1.8" fill="none" />
<path d="M927.0,1440.0 L974.0,1706.0" stroke-width="2.2" fill="none" stroke-dasharray="0.1 7" stroke-linecap="round"/>
<path d="M878.0,1711.0 L950.0,1711.0 L1058.0,1713.0" stroke-width="3.8" fill="none" />
<rect x="914.0" y="1456.0" width="18.0" height="12.0" rx="3" stroke-width="3.3" fill="#000" transform="rotate(10 923.0 1462.0)"/>
<path d="M918.0,1470.0 L935.0,1480.0" stroke-width="3.8" fill="none" />
<rect x="940.0" y="1585.0" width="20.0" height="12.0" rx="3" stroke-width="3.3" fill="none" transform="rotate(10 950.0 1591.0)"/>
<rect x="940.0" y="1587.0" width="8.0" height="9.0" rx="3" stroke-width="1" fill="#000" transform="rotate(10 944.0 1591.5)"/>
<path d="M915.0,1470.0 L915.0,1480.0" stroke-width="2.6" fill="none" stroke-dasharray="0.1 5" stroke-linecap="round"/>
<path d="M938.0,1600.0 L938.0,1620.0" stroke-width="2.6" fill="none" stroke-dasharray="0.1 6" stroke-linecap="round"/>
<path d="M950,1709 L1000,1696 Q1018,1690 1022,1698 Q1020,1706 1006,1709 L992,1714 Q986,1722 980,1714" stroke-width="3.3" fill="none" />
<ellipse cx="1010.0" cy="1700.0" rx="8" ry="4" stroke-width="2.2" fill="none" transform="rotate(-15 1010 1700)"/>
<path d="M950.0,1712.0 L1000.0,1700.0" stroke-width="4.8" fill="none" />
<path d="M942.0,1490.0 L958.0,1491.0 L1107.0,1578.0" stroke-width="2.2" fill="none" />
<path d="M944.0,1495.0 L958.0,1496.0 L1104.0,1583.0" stroke-width="2.4" fill="none" stroke-dasharray="0.1 6" stroke-linecap="round"/>
<path d="M950.0,1486.0 L962.0,1487.0 L1110.0,1573.0" stroke-width="2.4" fill="none" stroke-dasharray="0.1 6" stroke-linecap="round"/>
<circle cx="957.0" cy="1463.0" r="6" stroke-width="3.3" fill="none"/>
<circle cx="976.0" cy="1481.0" r="8" stroke-width="3.3" fill="none"/>
<circle cx="976.0" cy="1481.0" r="5" stroke-width="2.2" fill="none" stroke-dasharray="0.1 5" stroke-linecap="round"/>
<circle cx="978.0" cy="1540.0" r="12" stroke-width="3.3" fill="none"/>
<circle cx="978.0" cy="1540.0" r="8" stroke-width="3.3" fill="none"/>
<path d="M972.0,1540.0 L984.0,1540.0" stroke-width="3.8" fill="none" />
<circle cx="977.0" cy="1584.0" r="6" stroke-width="3.3" fill="none"/>
<circle cx="977.0" cy="1584.0" r="3.5" stroke-width="2.2" fill="none" stroke-dasharray="0.1 4" stroke-linecap="round"/>
<circle cx="985.0" cy="1606.0" r="6" stroke-width="3.3" fill="none"/>
<circle cx="985.0" cy="1606.0" r="3.5" stroke-width="2.2" fill="none" stroke-dasharray="0.1 4" stroke-linecap="round"/>
<ellipse cx="1124.0" cy="1558.0" rx="9" ry="15" stroke-width="3.3" fill="none" transform="rotate(-30 1124 1558)"/>
<ellipse cx="1124" cy="1558" rx="5.5" ry="11" stroke-width="2" fill="none" stroke-dasharray="0.1 5" stroke-linecap="round" transform="rotate(-30 1124 1558)"/>
<path d="M1064.0,1520.0 L1095.0,1555.0" stroke-width="1.8" fill="none" stroke-dasharray="0.1 6" stroke-linecap="round"/>
<path d="M1069.0,1517.0 L1100.0,1552.0" stroke-width="1.8" fill="none" stroke-dasharray="0.1 6" stroke-linecap="round"/>
<path d="M1074.0,1514.0 L1105.0,1549.0" stroke-width="1.8" fill="none" stroke-dasharray="0.1 6" stroke-linecap="round"/>
<path d="M1107,1578 L1119,1606 L1119,1617 L1143,1617 L1149,1602 L1136,1578 L1124,1583 Z" stroke-width="3.3" fill="none" />
<path d="M1114.0,1588.0 L1124.0,1604.0 L1142.0,1600.0 L1132.0,1584.0Z" stroke-width="2" fill="none" stroke-dasharray="0.1 5" stroke-linecap="round"/>
<rect x="969.0" y="1621.0" width="27.0" height="22.0" rx="1" stroke-width="3.3" fill="none"/>
<path d="M995,1632 L1030,1622 L1280,1621 L1320,1627 L1335,1633 L1320,1639 L1280,1643 L1030,1643 Z" stroke-width="4.3" fill="none" />
<path d="M1012,1632 L1035,1627 L1300,1627 M1012,1633 L1035,1638 L1300,1638" stroke-width="3.3" fill="none" />
<path d="M1040.0,1632.0 L1330.0,1632.0" stroke-width="2.5" fill="none" stroke-dasharray="70 8 8 8"/>
<path d="M1335.0,1633.0 L1368.0,1633.0" stroke-width="1.8" fill="none" />
<path d="M1105.0,1617.0 L1150.0,1617.0" stroke-width="4.8" fill="none" />
<path d="M1150,1646 Q1160,1652 1170,1646 M1238,1648 L1255,1648 L1255,1643" stroke-width="3.3" fill="none" />
<path d="M1212.0,1645.0 L1232.0,1660.0 L1232.0,1650.0" stroke-width="2.2" fill="none" />
<path d="M1138.0,1647.0 L1153.0,1756.0 L1178.0,1932.0 L1192.0,1950.0 L1192.0,1967.0" stroke-width="3.3" fill="none" />
<path d="M1143.0,1650.0 L1158.0,1756.0 L1183.0,1930.0" stroke-width="2.2" fill="none" stroke-dasharray="0.1 7" stroke-linecap="round"/>
<path d="M1138,1647 L1218,1647" stroke-width="3.3" fill="none" />
<circle cx="1155.0" cy="1656.0" r="4" stroke-width="3.3" fill="none"/>
<path d="M1322,1715 L1325,1835 Q1325,1850 1335,1852 L1355,1852 M1325,1835 L1322,1930 L1312,1945 L1312,1967" stroke-width="3.3" fill="none" />
<path d="M1318,1720 L1320,1835 L1317,1930" stroke-width="2.2" fill="none" stroke-dasharray="0.1 7" stroke-linecap="round"/>
<circle cx="1247.0" cy="1694.0" r="11.5" stroke-width="3.3" fill="none"/>
<circle cx="1247.0" cy="1694.0" r="8.0" stroke-width="2.2" fill="none" stroke-dasharray="0.1 5" stroke-linecap="round"/>
<circle cx="1220.0" cy="1747.0" r="11.5" stroke-width="3.3" fill="none"/>
<circle cx="1220.0" cy="1747.0" r="8.0" stroke-width="2.2" fill="none" stroke-dasharray="0.1 5" stroke-linecap="round"/>
<circle cx="1281.0" cy="1746.0" r="11.5" stroke-width="3.3" fill="none"/>
<circle cx="1281.0" cy="1746.0" r="8.0" stroke-width="2.2" fill="none" stroke-dasharray="0.1 5" stroke-linecap="round"/>
<circle cx="1221.0" cy="1836.0" r="11.5" stroke-width="3.3" fill="none"/>
<circle cx="1221.0" cy="1836.0" r="8.0" stroke-width="2.2" fill="none" stroke-dasharray="0.1 5" stroke-linecap="round"/>
<circle cx="1281.0" cy="1835.0" r="11.5" stroke-width="3.3" fill="none"/>
<circle cx="1281.0" cy="1835.0" r="8.0" stroke-width="2.2" fill="none" stroke-dasharray="0.1 5" stroke-linecap="round"/>
<circle cx="1220.0" cy="1897.0" r="11.5" stroke-width="3.3" fill="none"/>
<circle cx="1220.0" cy="1897.0" r="8.0" stroke-width="2.2" fill="none" stroke-dasharray="0.1 5" stroke-linecap="round"/>
<circle cx="1281.0" cy="1899.0" r="11.5" stroke-width="3.3" fill="none"/>
<circle cx="1281.0" cy="1899.0" r="8.0" stroke-width="2.2" fill="none" stroke-dasharray="0.1 5" stroke-linecap="round"/>
<circle cx="1105.0" cy="1870.0" r="9" stroke-width="3.3" fill="none"/>
<circle cx="1105.0" cy="1870.0" r="6" stroke-width="2.2" fill="none" stroke-dasharray="0.1 5" stroke-linecap="round"/>
<rect x="1193.0" y="1945.0" width="38.0" height="22.0" rx="11" stroke-width="3.3" fill="none"/>
<rect x="1197.0" y="1949.0" width="30.0" height="14.0" rx="7" stroke-width="2.4" fill="none" stroke-dasharray="0.1 5" stroke-linecap="round"/>
<rect x="1267.0" y="1944.0" width="39.0" height="22.0" rx="11" stroke-width="3.3" fill="none"/>
<rect x="1271.0" y="1948.0" width="31.0" height="14.0" rx="7" stroke-width="2.4" fill="none" stroke-dasharray="0.1 5" stroke-linecap="round"/>
<circle cx="1085.0" cy="1691.0" r="2.5" stroke-width="2.2" fill="none"/>
<path d="M1085,1700 L1090,1708 L1085,1716 L1080,1708Z" stroke-width="3.3" fill="none" />
<ellipse cx="1130.0" cy="1693.0" rx="2.5" ry="6" stroke-width="3.3" fill="none"/>
<ellipse cx="1141.0" cy="1719.0" rx="4" ry="7" stroke-width="3.3" fill="#000"/>
<path d="M1148.0,1705.0 L1172.0,1705.0" stroke-width="2" fill="none" stroke-dasharray="0.1 5" stroke-linecap="round"/>
<path d="M1148.0,1711.0 L1172.0,1711.0" stroke-width="2" fill="none" stroke-dasharray="0.1 5" stroke-linecap="round"/>
<path d="M969.0,1712.0 L969.0,1972.0" stroke-width="3.3" fill="none" />
<path d="M1040.0,1712.0 L1040.0,1962.0" stroke-width="3.3" fill="none" />
<path d="M1048.0,1712.0 L1048.0,1962.0" stroke-width="2.2" fill="none" />
<path d="M1058.0,1712.0 L1058.0,1962.0" stroke-width="3.3" fill="none" />
<path d="M1036.0,1716.0 L1036.0,1960.0" stroke-width="2.2" fill="none" stroke-dasharray="0.1 9" stroke-linecap="round"/>
<path d="M1064.0,1716.0 L1064.0,1960.0" stroke-width="2.2" fill="none" stroke-dasharray="0.1 9" stroke-linecap="round"/>
<path d="M1070.0,1716.0 L1070.0,1930.0" stroke-width="2" fill="none" stroke-dasharray="0.1 9" stroke-linecap="round"/>
<path d="M1053.0,1700.0 L1053.0,1716.0" stroke-width="1.8" fill="none" />
<rect x="1041.0" y="1716.0" width="16.0" height="14.0" rx="1" stroke-width="3.3" fill="none"/>
<rect x="1012.0" y="1926.0" width="16.0" height="18.0" rx="4" stroke-width="3.8" fill="none"/>
<circle cx="1020.0" cy="1935.0" r="4" stroke-width="3.3" fill="none"/>
<path d="M1028.0,1933.0 L1070.0,1933.0" stroke-width="3.3" fill="none" />
<path d="M1028.0,1938.0 L1070.0,1938.0" stroke-width="3.3" fill="none" />
<rect x="1070.0" y="1928.0" width="35.0" height="14.0" rx="5" stroke-width="3.3" fill="none"/>
<path d="M1100,1920 L1130,1917 L1150,1920 L1160,1928 L1160,1944 L1148,1952 L1100,1950 Q1094,1935 1100,1920Z" stroke-width="3.8" fill="none" />
<path d="M1108,1928 L1140,1926 Q1150,1934 1140,1944 L1108,1942 Q1102,1935 1108,1928Z" stroke-width="3.3" fill="none" />
<rect x="1118.0" y="1952.0" width="52.0" height="16.0" rx="2" stroke-width="3.3" fill="none"/>
<rect x="1122.0" y="1956.0" width="44.0" height="8.0" rx="1" stroke-width="2.4" fill="none" stroke-dasharray="0.1 6" stroke-linecap="round"/>
<rect x="1036.0" y="1944.0" width="20.0" height="22.0" rx="3" stroke-width="3.8" fill="none"/>
<path d="M1075.0,1946.0 L1112.0,1946.0" stroke-width="2" fill="none" stroke-dasharray="0.1 6" stroke-linecap="round"/>
<path d="M1362,1752 L1360,1825 Q1362,1832 1375,1834 Q1392,1840 1392,1860 Q1385,1880 1350,1905 Q1338,1925 1340,1945 Q1342,1962 1350,1975" stroke-width="4.3" fill="none" />
<path d="M1362.0,1752.0 L1455.0,1822.0 L1500.0,1930.0" stroke-width="3.8" fill="none" />
<path d="M1500.0,1822.0 L1500.0,2022.0" stroke-width="3.3" fill="none" />
<path d="M1496.0,1830.0 L1496.0,1960.0" stroke-width="2.4" fill="none" stroke-dasharray="0.1 9" stroke-linecap="round"/>
<path d="M1325.0,1730.0 L1362.0,1752.0" stroke-width="3.3" fill="none" />
<path d="M1370.0,1775.0 L1372.0,1815.0" stroke-width="2" fill="none" stroke-dasharray="0.1 8" stroke-linecap="round"/>
<path d="M1392.0,1795.0 L1410.0,1800.0" stroke-width="2" fill="none" stroke-dasharray="0.1 6" stroke-linecap="round"/>
<rect x="1515.0" y="1848.0" width="34.0" height="52.0" rx="16" stroke-width="3.3" fill="none"/>
<rect x="1519.5" y="1852.5" width="25.0" height="43.0" rx="11.5" stroke-width="2.4" fill="none" stroke-dasharray="0.1 6" stroke-linecap="round"/>
<rect x="1507.0" y="1932.0" width="23.0" height="30.0" rx="2" stroke-width="3.3" fill="none"/>
<rect x="1511.0" y="1936.0" width="15.0" height="22.0" rx="1" stroke-width="2.4" fill="none" stroke-dasharray="0.1 6" stroke-linecap="round"/>
<path d="M1351.3,1982.7 L1367.5,2009.8 L1383.8,2025.2 L1467.0,2026.1 L1495.9,2025.2 L1496.8,1982.7 L1496.8,1924.8 L1456.1,1824.4 L1421.8,1807.3 L1376.6,1771.1 L1365.7,1754.8" stroke-width="4.8" fill="none" stroke-linejoin="round"/>
<path d="M1351.3,1982.7 L1342.2,1961.0 L1340.4,1939.3 L1345.8,1917.6 L1358.5,1895.9 L1376.6,1876.0 L1392.9,1866.9 L1394.7,1852.5 L1367.5,1832.6 L1358.5,1834.4 L1354.9,1852.5 L1347.6,1858.8 L1331.4,1857.9 L1320.5,1838.0" stroke-width="4.3" fill="none" stroke-linejoin="round"/>
<rect x="1383.8" y="2025.2" width="8.1" height="9.0" rx="1" stroke-width="1" fill="#000"/>
<rect x="1468.8" y="2025.2" width="8.1" height="9.0" rx="1" stroke-width="1" fill="#000"/>
<rect x="1483.3" y="2025.2" width="8.1" height="9.0" rx="1" stroke-width="1" fill="#000"/>
<path d="M1358.5,1986.3 L1380.2,2009.8 L1403.7,2020.6 L1448.9,2021.5" stroke-width="4.3" fill="none" />
<path d="M1365.7,1988.1 L1387.4,2006.2 L1409.1,2013.4 L1448.9,2014.3" stroke-width="3.8" fill="none" />
<path d="M1389.2,1991.7 L1405.5,2002.6 L1423.6,2007.1 L1445.3,2002.6" stroke-width="3.8" fill="none" />
<circle cx="1388.3" cy="2020.6" r="4" stroke-width="3.3" fill="none"/>
<rect x="1450.7" y="1982.7" width="16.3" height="39.8" rx="2" stroke-width="1" fill="#000"/>
<rect x="1469.7" y="2009.8" width="19.9" height="9.0" rx="4" stroke-width="4.3" fill="none"/>
<rect x="1469.7" y="1997.1" width="19.9" height="9.0" rx="4" stroke-width="4.3" fill="none"/>
<rect x="1468.8" y="1951.9" width="16.3" height="16.3" rx="4" stroke-width="4.3" fill="none"/>
<path d="M1467.0,1979.1 L1496.8,1979.1" stroke-width="5.5" fill="none" />
<path d="M1347.6,1939.3 L1485.1,1939.3" stroke-width="3.8" fill="none" />
<circle cx="1418.2" cy="1939.3" r="42" stroke-width="4.8" fill="none"/>
<circle cx="1418.2" cy="1939.3" r="36" stroke-width="3.8" fill="none"/>
<circle cx="1418.2" cy="1939.3" r="21" stroke-width="4.3" fill="none"/>
<circle cx="1418.2" cy="1939.3" r="14" stroke-width="3.8" fill="none"/>
<circle cx="1418.2" cy="1939.3" r="7" stroke-width="3.8" fill="none"/>
<circle cx="1418.2" cy="1939.3" r="29" stroke-width="4" fill="none" stroke-dasharray="4 4"/>
<circle cx="1418.2" cy="1939.3" r="17.5" stroke-width="3" fill="none" stroke-dasharray="3 4"/>
<path d="M1419.7,1948.1 L1424.1,1972.8" stroke-width="6.5" fill="none" />
<path d="M1409.7,1936.2 L1386.2,1927.6" stroke-width="6.5" fill="none" />
<path d="M1425.1,1933.5 L1444.2,1917.4" stroke-width="6.5" fill="none" />
<path d="M1418.2,1881.3 L1418.2,1979.3" stroke-width="2.2" fill="none" />
<path d="M1351.3,1906.7 L1376.6,1917.6 L1387.4,1910.3" stroke-width="3.8" fill="none" />
<ellipse cx="1360.3" cy="1961.0" rx="9" ry="12" stroke-width="4.3" fill="none"/>
<ellipse cx="1359.4" cy="1924.8" rx="9" ry="7" stroke-width="4.3" fill="none" transform="rotate(-10 1359.4032549728752 1924.8010849909583)"/>
<ellipse cx="1377.5" cy="1895.9" rx="8" ry="6" stroke-width="4.3" fill="none" transform="rotate(25 1377.48643761302 1895.8679927667272)"/>
<ellipse cx="1401.9" cy="1886.8" rx="8" ry="5" stroke-width="4.3" fill="none" transform="rotate(10 1401.8987341772151 1886.8264014466545)"/>
<ellipse cx="1436.3" cy="1885.9" rx="9" ry="6" stroke-width="4.3" fill="none" transform="rotate(-10 1436.25678119349 1885.9222423146475)"/>
<ellipse cx="1463.4" cy="1899.5" rx="6" ry="9" stroke-width="4.3" fill="none" transform="rotate(-20 1463.381555153707 1899.484629294756)"/>
<ellipse cx="1479.7" cy="1928.4" rx="7" ry="5" stroke-width="4.3" fill="none" transform="rotate(-30 1479.6564195298372 1928.4177215189875)"/>
<ellipse cx="1476.9" cy="1961.0" rx="7" ry="10" stroke-width="4.3" fill="none"/>
<path d="M1362.1,1899.5 L1387.4,1881.4 L1423.6,1876.0 L1459.8,1883.2 L1477.8,1910.3" stroke-width="3" fill="none" stroke-dasharray="0.1 5" stroke-linecap="round"/>
<path d="M1367.5,1903.1 L1391.0,1886.8 L1423.6,1881.4 L1456.1,1888.6 L1472.4,1912.1" stroke-width="3" fill="none" stroke-dasharray="0.1 5" stroke-linecap="round"/>
<path d="M1376.6,1977.2 L1398.3,1979.1" stroke-width="3" fill="none" stroke-dasharray="0.1 5" stroke-linecap="round"/>
<path d="M1447.1,1979.1 L1463.4,1970.0" stroke-width="3" fill="none" stroke-dasharray="0.1 5" stroke-linecap="round"/>
<path d="M1392.9,1873.3 L1472.4,1873.3" stroke-width="4.8" fill="none" />
<path d="M1394.7,1868.7 L1470.6,1868.7" stroke-width="3.3" fill="none" />
<path d="M1407.3,1868.7 L1407.3,1839.8" stroke-width="3.8" fill="none" />
<path d="M1411.8,1868.7 L1411.8,1839.8" stroke-width="3.8" fill="none" />
<path d="M1434.4,1868.7 L1434.4,1839.8" stroke-width="3.8" fill="none" />
<path d="M1439.9,1868.7 L1439.9,1839.8" stroke-width="3.8" fill="none" />
<path d="M1409.5,1866.9 L1409.5,1841.6" stroke-width="2.4" fill="none" stroke-dasharray="0.1 5" stroke-linecap="round"/>
<path d="M1437.2,1866.9 L1437.2,1841.6" stroke-width="2.4" fill="none" stroke-dasharray="0.1 5" stroke-linecap="round"/>
<path d="M1320.5,1838.0 L1358.5,1835.3" stroke-width="4.3" fill="none" />
<path d="M1416.4,1837.1 L1457.1,1835.3" stroke-width="4.8" fill="none" />
<path d="M1318.7,1829.0 L1455.2,1824.4" stroke-width="5.5" fill="none" />
<path d="M1325.9,1832.9 L1356.7,1831.7" stroke-width="3" fill="none" stroke-dasharray="0.1 7" stroke-linecap="round"/>
<path d="M1420.0,1831.1 L1452.5,1829.9" stroke-width="3" fill="none" stroke-dasharray="0.1 7" stroke-linecap="round"/>
<path d="M1374.8,1830.8 L1392.9,1843.4 L1414.6,1836.2 L1394.7,1823.5Z" stroke-width="4.3" fill="none" />
<path d="M1384.2,1831.7 L1401.1,1835.3" stroke-width="2.4" fill="none" stroke-dasharray="0.1 4" stroke-linecap="round"/>
<path d="M1390.2,1831.7 L1405.1,1835.3" stroke-width="2.4" fill="none" stroke-dasharray="0.1 4" stroke-linecap="round"/>
<path d="M1396.2,1831.7 L1409.1,1835.3" stroke-width="2.4" fill="none" stroke-dasharray="0.1 4" stroke-linecap="round"/>
<path d="M1362.1,1823.5 L1351.3,1787.4" stroke-width="3.8" fill="none" />
<path d="M1368.4,1823.5 L1357.6,1787.4" stroke-width="3.8" fill="none" />
<path d="M1365.2,1822.1 L1354.3,1787.4" stroke-width="2.4" fill="none" stroke-dasharray="0.1 5" stroke-linecap="round"/>
<path d="M1380.2,1821.7 L1369.3,1783.8" stroke-width="3.8" fill="none" />
<path d="M1386.5,1821.7 L1375.7,1783.8" stroke-width="3.8" fill="none" />
<path d="M1383.3,1820.3 L1372.4,1783.8" stroke-width="2.4" fill="none" stroke-dasharray="0.1 5" stroke-linecap="round"/>
<path d="M1389.2,1821.7 L1392.9,1787.4" stroke-width="3.8" fill="none" />
<path d="M1395.6,1821.7 L1399.2,1787.4" stroke-width="3.8" fill="none" />
<path d="M1392.3,1820.3 L1395.9,1787.4" stroke-width="2.4" fill="none" stroke-dasharray="0.1 5" stroke-linecap="round"/>
<path d="M1398.3,1819.9 L1416.4,1805.5" stroke-width="3.8" fill="none" />
<path d="M1404.6,1819.9 L1422.7,1805.5" stroke-width="3.8" fill="none" />
<path d="M1401.4,1818.5 L1419.4,1805.5" stroke-width="2.4" fill="none" stroke-dasharray="0.1 5" stroke-linecap="round"/>
<path d="M1322.3,1825.3 L1325.9,1794.6 L1327.8,1754.8" stroke-width="4.3" fill="none" />
<path d="M1327.8,1794.6 L1376.6,1772.9" stroke-width="3.8" fill="none" />
<path d="M1327.8,1785.6 L1374.8,1767.5" stroke-width="3.3" fill="none" />
<path d="M1347.6,1772.9 L1342.2,1754.8" stroke-width="3.8" fill="none" />
<path d="M1353.1,1771.1 L1347.6,1754.8" stroke-width="3.8" fill="none" />
<path d="M1313.3,1841.6 L1313.3,1754.8" stroke-width="2.6" fill="none" stroke-dasharray="0.1 6" stroke-linecap="round"/>
<path d="M1317.8,1819.9 L1318.7,1754.8" stroke-width="2.6" fill="none" stroke-dasharray="0.1 6" stroke-linecap="round"/>
<path d="M103,1727 L103,1713 Q112,1706 125,1706 L200,1707 Q215,1710 222,1714 L240,1725" stroke-width="4.3" fill="none" />
<path d="M107.0,1727.0 L235.0,1967.0 L300.0,1977.0 L360.0,1970.0" stroke-width="4.3" fill="none" />
<path d="M112.0,1730.0 L238.0,1962.0" stroke-width="2.2" fill="none" />
<path d="M240.0,1725.0 L647.0,1959.0" stroke-width="4.3" fill="none" />
<path d="M265.0,1738.0 L595.0,1945.0 L592.0,1958.0" stroke-width="3.3" fill="none" />
<path d="M147.0,1727.0 L350.0,1965.0" stroke-width="2.2" fill="none" />
<path d="M275.0,1875.0 L227.0,1932.0" stroke-width="2.2" fill="none" />
<path d="M82.0,1727.0 L107.0,1727.0" stroke-width="2.2" fill="none" />
<path d="M122.0,1735.0 L246.0,1962.0" stroke-width="2.5" fill="none" />
<path d="M189.0,1790.0 L343.0,1948.0 L352.0,1941.0 L198.0,1783.0Z" stroke-width="2.5" fill="none" />
<path d="M150.0,1720.0 L205.0,1720.0" stroke-width="2.2" fill="none" stroke-dasharray="0.1 6" stroke-linecap="round"/>
<path d="M240.0,1968.0 L300.0,1974.0" stroke-width="2.2" fill="none" stroke-dasharray="0.1 6" stroke-linecap="round"/>
<path d="M360.0,1852.0 L455.0,1940.0" stroke-width="2.4" fill="none" stroke-dasharray="0.1 7" stroke-linecap="round"/>
<path d="M366.0,1846.0 L462.0,1934.0" stroke-width="2.4" fill="none" stroke-dasharray="0.1 7" stroke-linecap="round"/>
<path d="M500.0,1890.0 L590.0,1947.0" stroke-width="2.4" fill="none" stroke-dasharray="0.1 7" stroke-linecap="round"/>
<path d="M150.0,1732.0 L180.0,1775.0" stroke-width="2.2" fill="none" stroke-dasharray="0.1 7" stroke-linecap="round"/>
<path d="M395.0,1816.0 L400.0,1812.0" stroke-width="4.8" fill="none" />
<path d="M498.0,1878.0 L503.0,1874.0" stroke-width="4.8" fill="none" />
<path d="M207,1733 L212,1727 L400,1724 L420,1725 L445,1728 L420,1732 L400,1734 L212,1737 Z" stroke-width="3.8" fill="none" />
<path d="M215.0,1730.0 L410.0,1728.0" stroke-width="3.3" fill="none" />
<path d="M445.0,1728.0 L447.0,1728.0" stroke-width="2.2" fill="none" />
<path d="M300.0,1722.0 L400.0,1722.0" stroke-width="2.2" fill="none" stroke-dasharray="0.1 12" stroke-linecap="round"/>
<circle cx="429.0" cy="1934.0" r="10" stroke-width="3.3" fill="none"/>
<circle cx="429.0" cy="1934.0" r="6" stroke-width="2.2" fill="none" stroke-dasharray="0.1 6" stroke-linecap="round"/>
<path d="M432,1962 L455,1940 Q470,1930 482,1938 L505,1955 L505,1962" stroke-width="3.3" fill="none" />
<path d="M456,1958 L456,1946 Q468,1934 480,1946 L480,1962" stroke-width="3.3" fill="none" />
<path d="M460,1958 L460,1950 Q468,1942 476,1950 L476,1962" stroke-width="2.2" fill="none" />
<ellipse cx="360.0" cy="1966.0" rx="10" ry="5" stroke-width="3.3" fill="none"/>
<path d="M292.0,1982.0 L377.0,1972.0" stroke-width="3.8" fill="none" />
<path d="M292.0,1982.0 L292.0,2096.0" stroke-width="4.3" fill="none" />
<path d="M360.0,1972.0 L360.0,2137.5" stroke-width="3.3" fill="none" />
<path d="M377.0,1972.0 L377.0,2137.5" stroke-width="3.8" fill="none" />
<path d="M366.0,1978.0 L366.0,2137.5" stroke-width="2.8" fill="none" stroke-dasharray="0.1 9" stroke-linecap="round"/>
<path d="M372.0,1978.0 L372.0,2137.5" stroke-width="2.8" fill="none" stroke-dasharray="0.1 9" stroke-linecap="round"/>
<path d="M377.0,1972.0 L460.0,1962.0" stroke-width="3.8" fill="none" />
<path d="M380.0,1995.0 L460.0,1980.0" stroke-width="2.2" fill="none" />
<path d="M383,1985 Q400,1972 430,1978 Q440,1982 432,1988 Q415,1996 395,1992 Z" stroke-width="3.3" fill="none" />
<path d="M292,2047 Q285,2065 268,2090 Q255,2108 243,2115 L216,2133 L212,2137.5" stroke-width="4.3" fill="none" />
<path d="M293,2094 Q291,2108 275,2120 L257,2133 L251,2137.5" stroke-width="4.3" fill="none" />
<path d="M243,2115 L214,2114 Q190,2117 168,2123 L73,2136 L43,2137.5" stroke-width="4.3" fill="none" />
<path d="M171.0,2123.0 L171.0,2137.5" stroke-width="3.3" fill="none" />
<path d="M160,2127 Q151,2132 148,2137.5" stroke-width="3.3" fill="none" />
<path d="M80.0,2137.0 L150.0,2130.0" stroke-width="2.2" fill="none" />
<path d="M460.0,1962.0 L830.0,1960.0 L878.0,1961.0" stroke-width="4.3" fill="none" />
<path d="M460.0,1962.0 L458.0,2137.5" stroke-width="3.3" fill="none" />
<path d="M830.0,1960.0 L830.0,2137.5" stroke-width="3.3" fill="none" />
<path d="M460,2037 Q560,2027 650,2025 L830,2027 Q1000,2030 1150,2035" stroke-width="3.3" fill="none" />
<rect x="497.0" y="1974.0" width="87.0" height="38.0" rx="7" stroke-width="3.3" fill="none"/>
<rect x="502.0" y="1979.0" width="77.0" height="28.0" rx="2" stroke-width="2.4" fill="none" stroke-dasharray="0.1 7" stroke-linecap="round"/>
<rect x="522.0" y="2016.0" width="25.0" height="14.0" rx="7" stroke-width="3.3" fill="none"/>
<rect x="525.5" y="2019.5" width="18.0" height="7.0" rx="3.5" stroke-width="2.4" fill="none" stroke-dasharray="0.1 5" stroke-linecap="round"/>
<rect x="572.0" y="2015.0" width="20.0" height="14.0" rx="7" stroke-width="3.3" fill="none"/>
<rect x="575.5" y="2018.5" width="13.0" height="7.0" rx="3.5" stroke-width="2.4" fill="none" stroke-dasharray="0.1 5" stroke-linecap="round"/>
<rect x="645.0" y="1971.0" width="27.0" height="11.0" rx="5" stroke-width="3.3" fill="none"/>
<rect x="648.0" y="1974.0" width="21.0" height="5.0" rx="2" stroke-width="2.4" fill="none" stroke-dasharray="0.1 5" stroke-linecap="round"/>
<rect x="647.0" y="2010.0" width="28.0" height="15.0" rx="6" stroke-width="3.3" fill="none"/>
<rect x="650.5" y="2013.5" width="21.0" height="8.0" rx="2.5" stroke-width="2.4" fill="none" stroke-dasharray="0.1 5" stroke-linecap="round"/>
<path d="M787,1973 L686,1973 Q681,1974 684,1978 Q698,1990 702,1998 Q698,2008 684,2018 Q681,2023 686,2024 L787,2024 Z" stroke-width="3.8" fill="none" />
<path d="M760.0,1985.0 L760.0,2012.0" stroke-width="2.2" fill="none" stroke-dasharray="0.1 6" stroke-linecap="round"/>
<path d="M782.0,1978.0 L782.0,2020.0" stroke-width="2.2" fill="none" stroke-dasharray="0.1 6" stroke-linecap="round"/>
<path d="M787.0,1978.0 L815.0,1978.0" stroke-width="4.3" fill="none" />
<path d="M787.0,2018.0 L815.0,2018.0" stroke-width="4.3" fill="none" />
<path d="M790.0,1978.0 L790.0,2018.0" stroke-width="3.3" fill="none" />
<ellipse cx="806.0" cy="1998.0" rx="12" ry="8" stroke-width="3.3" fill="none"/>
<circle cx="806.0" cy="1998.0" r="2" stroke-width="1" fill="#000"/>
<rect x="812.0" y="2025.0" width="41.0" height="6.0" rx="3" stroke-width="3.3" fill="none"/>
<rect x="810.0" y="2082.0" width="45.0" height="7.0" rx="3" stroke-width="3.3" fill="none"/>
<path d="M450,2054 Q455,2046 470,2046 L517,2047 L517,2066 L470,2066 Q455,2064 450,2054Z" stroke-width="3.3" fill="none" />
<path d="M458,2054 Q462,2050 472,2051 L510,2052 L510,2061 L472,2061 Q462,2060 458,2054Z" stroke-width="3.3" fill="none" />
<path d="M470.0,2048.0 L512.0,2049.0" stroke-width="2" fill="none" stroke-dasharray="0.1 5" stroke-linecap="round"/>
<ellipse cx="866.0" cy="1966.0" rx="6" ry="4" stroke-width="2.2" fill="none"/>
<rect x="916.0" y="1977.0" width="86.0" height="33.0" rx="9" stroke-width="3.8" fill="none"/>
<path d="M948.0,1985.0 L972.0,1985.0" stroke-width="3.8" fill="none" />
<rect x="1040.0" y="1979.0" width="87.0" height="31.0" rx="9" stroke-width="3.8" fill="none"/>
<path d="M1075.0,1985.0 L1100.0,1985.0" stroke-width="3.8" fill="none" />
<path d="M878.0,1961.0 L1040.0,1968.0" stroke-width="4.3" fill="none" />
<path d="M1036,1966 L1150,1969.5 L1300,1971 L1500,1971 L1520,1971 L1520,1980.5 L1300,1981.5 L1150,1979 L1036,1973Z" stroke-width="1" fill="#000" />
<path d="M1518.0,1972.5 L1740.0,1969.0 L1864.0,1966.0" stroke-width="3.8" fill="none" />
<path d="M1518.0,1979.5 L1740.0,1975.0 L1864.0,1969.0" stroke-width="2.5" fill="none" />
<path d="M1150.0,1972.0 L1150.0,2137.5" stroke-width="3.3" fill="none" />
<path d="M1150.0,2012.0 L1362.0,2012.0" stroke-width="2.2" fill="none" />
<path d="M1500.0,2012.0 L1687.0,2015.0 L1927.0,2020.0" stroke-width="2.2" fill="none" />
<path d="M1510.0,1974.0 L1510.0,2012.0" stroke-width="2.2" fill="none" />
<path d="M1680.0,1974.0 L1680.0,2015.0" stroke-width="2.2" fill="none" />
<path d="M1687.0,2015.0 L1687.0,2137.5" stroke-width="3.3" fill="none" />
<path d="M1687.0,2072.0 L1927.0,2076.0" stroke-width="3.3" fill="none" />
<path d="M1927.0,1966.0 L1927.0,2137.5" stroke-width="3.3" fill="none" />
<path d="M1302.0,1985.0 L1320.0,1985.0" stroke-width="2" fill="none" stroke-dasharray="0.1 6" stroke-linecap="round"/>
<path d="M1562.0,1988.0 L1580.0,1988.0" stroke-width="2" fill="none" stroke-dasharray="0.1 6" stroke-linecap="round"/>
<path d="M1622.0,1988.0 L1640.0,1988.0" stroke-width="2" fill="none" stroke-dasharray="0.1 6" stroke-linecap="round"/>
<path d="M1692.0,1990.0 L1710.0,1990.0" stroke-width="2" fill="none" stroke-dasharray="0.1 6" stroke-linecap="round"/>
<path d="M1752.0,1990.0 L1770.0,1990.0" stroke-width="2" fill="none" stroke-dasharray="0.1 6" stroke-linecap="round"/>
<path d="M1812.0,1990.0 L1830.0,1990.0" stroke-width="2" fill="none" stroke-dasharray="0.1 6" stroke-linecap="round"/>
<path d="M1872.0,1990.0 L1890.0,1990.0" stroke-width="2" fill="none" stroke-dasharray="0.1 6" stroke-linecap="round"/>
<rect x="1365.0" y="2065.0" width="28.0" height="16.0" rx="8" stroke-width="3.3" fill="none"/>
<rect x="1368.5" y="2068.5" width="21.0" height="9.0" rx="4.5" stroke-width="2.4" fill="none" stroke-dasharray="0.1 5" stroke-linecap="round"/>
<rect x="1608.0" y="2067.0" width="29.0" height="16.0" rx="8" stroke-width="3.3" fill="none"/>
<rect x="1611.5" y="2070.5" width="22.0" height="9.0" rx="4.5" stroke-width="2.4" fill="none" stroke-dasharray="0.1 5" stroke-linecap="round"/>
<path d="M1255,2098 L1262,2092 L1320,2089 M1262,2104 L1320,2107 M1255,2098 Q1258,2104 1268,2106" stroke-width="3.3" fill="none" />
<path d="M1332.0,2089.0 L1497.0,2089.0" stroke-width="4.3" fill="none" />
<path d="M1332.0,2107.0 L1497.0,2107.0" stroke-width="4.3" fill="none" />
<path d="M1340.0,2096.0 L1490.0,2096.0" stroke-width="2.2" fill="none" />
<circle cx="1322.0" cy="2089.0" r="3.5" stroke-width="1" fill="#000"/>
<circle cx="1322.0" cy="2108.0" r="3.5" stroke-width="1" fill="#000"/>
<circle cx="1510.0" cy="2090.0" r="3.5" stroke-width="1" fill="#000"/>
<circle cx="1510.0" cy="2108.0" r="3.5" stroke-width="1" fill="#000"/>
<path d="M1517,2088 L1550,2094 Q1560,2098 1556,2104 L1517,2108" stroke-width="3.3" fill="none" />
<path d="M1520,2093 L1548,2097 L1548,2102 L1520,2104" stroke-width="2.2" fill="none" />
<ellipse cx="1345.0" cy="2099.0" rx="8" ry="6" stroke-width="2.2" fill="none"/>
<rect x="1363.0" y="2092.0" width="12.0" height="15.0" rx="5" stroke-width="2.2" fill="none"/>
<path d="M1560.0,2101.0 L1630.0,2101.0" stroke-width="2.2" fill="none" />
<path d="M1862.0,1968.0 L1927.0,1965.0 L2200.0,1964.0" stroke-width="4.3" fill="none" />
<path d="M2200,1964 Q2225,1966 2237,1977" stroke-width="4.3" fill="none" />
<path d="M1932.0,1967.0 L1962.0,1966.0 L1966.0,1972.0 L1935.0,1972.0" stroke-width="2.2" fill="none" />
<path d="M2005.0,1964.0 L1995.0,1985.0 L1995.0,2040.0" stroke-width="3.3" fill="none" />
<path d="M2030.0,1965.0 L2020.0,1984.0" stroke-width="2.2" fill="none" />
<path d="M2045.0,1966.0 L2035.0,1984.0 L2185.0,1984.0" stroke-width="3.3" fill="none" />
<path d="M1995.0,1985.0 L2185.0,1984.0" stroke-width="3.3" fill="none" />
<path d="M1995.0,2010.0 L2182.0,2008.0" stroke-width="3.3" fill="none" />
<path d="M1999.0,1989.0 L2182.0,1988.0" stroke-width="2.2" fill="none" stroke-dasharray="0.1 6" stroke-linecap="round"/>
<path d="M1999.0,1994.5 L2182.0,1993.5" stroke-width="2.2" fill="none" stroke-dasharray="0.1 6" stroke-linecap="round"/>
<path d="M1999.0,2000.0 L2182.0,1999.0" stroke-width="2.2" fill="none" stroke-dasharray="0.1 6" stroke-linecap="round"/>
<path d="M1999.0,2005.5 L2182.0,2004.5" stroke-width="2.2" fill="none" stroke-dasharray="0.1 6" stroke-linecap="round"/>
<path d="M2040.0,1968.0 L2036.0,1982.0" stroke-width="1.8" fill="none" stroke-dasharray="0.1 5" stroke-linecap="round"/>
<path d="M2058.0,1968.0 L2054.0,1982.0" stroke-width="1.8" fill="none" stroke-dasharray="0.1 5" stroke-linecap="round"/>
<path d="M2076.0,1968.0 L2072.0,1982.0" stroke-width="1.8" fill="none" stroke-dasharray="0.1 5" stroke-linecap="round"/>
<path d="M2094.0,1968.0 L2090.0,1982.0" stroke-width="1.8" fill="none" stroke-dasharray="0.1 5" stroke-linecap="round"/>
<path d="M2112.0,1968.0 L2108.0,1982.0" stroke-width="1.8" fill="none" stroke-dasharray="0.1 5" stroke-linecap="round"/>
<path d="M2130.0,1968.0 L2126.0,1982.0" stroke-width="1.8" fill="none" stroke-dasharray="0.1 5" stroke-linecap="round"/>
<path d="M2148.0,1968.0 L2144.0,1982.0" stroke-width="1.8" fill="none" stroke-dasharray="0.1 5" stroke-linecap="round"/>
<path d="M2166.0,1968.0 L2162.0,1982.0" stroke-width="1.8" fill="none" stroke-dasharray="0.1 5" stroke-linecap="round"/>
<path d="M2200.0,1964.0 L2182.0,2005.0 L2182.0,2063.0" stroke-width="3.8" fill="none" />
<path d="M2237,1977 L2225,2012 Q2216,2018 2215,2024 L2215,2062" stroke-width="3.8" fill="none" />
<path d="M2237,1981 L2345,2041 L2338,2062 L2320,2066 L2255,2049 Q2235,2035 2228,2018" stroke-width="4.3" fill="none" />
<path d="M2260.0,2028.0 L2255.0,2049.0" stroke-width="2.2" fill="none" />
<path d="M2300.0,2039.0 L2295.0,2058.0" stroke-width="2.2" fill="none" />
<path d="M2230.0,2018.0 L2260.0,2028.0 L2340.0,2046.0" stroke-width="2.2" fill="none" />
<path d="M2182.0,2064.0 L2330.0,2064.0" stroke-width="4.3" fill="none" />
<ellipse cx="1962.0" cy="1984.0" rx="8" ry="5" stroke-width="3.3" fill="none"/>
<circle cx="1943.0" cy="2024.0" r="16" stroke-width="3.8" fill="none"/>
<circle cx="1943.0" cy="2024.0" r="11" stroke-width="3.3" fill="none"/>
<path d="M1937.0,2030.0 L1945.0,2020.0" stroke-width="2.2" fill="none" />
<path d="M1942.0,2032.0 L1950.0,2022.0" stroke-width="2.2" fill="none" />
<path d="M1932,2055 L1970,2042 Q1990,2036 2000,2038 L2040,2050 L2102,2050 L2102,2080 L2045,2080 Q2030,2070 2020,2066 L1975,2064 L1932,2062" stroke-width="3.3" fill="none" />
<path d="M1940,2058 L1975,2050 L2000,2044 L2040,2056 L2096,2056 L2096,2076" stroke-width="2" fill="none" stroke-dasharray="0.1 6" stroke-linecap="round"/>
<path d="M2102.0,2066.0 L2182.0,2064.0" stroke-width="3.8" fill="none" />
<path d="M2102.0,2080.0 L2270.0,2080.0" stroke-width="3.3" fill="none" />
<path d="M2108,2068 L2118,2068 L2118,2076 L2108,2076Z" stroke-width="2.2" fill="none" />
<path d="M2135.0,2072.0 L2270.0,2072.0" stroke-width="2.2" fill="none" />
<path d="M2345.0,2049.0 L2535.0,2044.0 L2765.0,2041.0 L2808.0,2042.0" stroke-width="4.3" fill="none" />
<path d="M2535.0,2044.0 L2535.0,2085.0" stroke-width="3.3" fill="none" />
<path d="M2535.0,2085.0 L2765.0,2085.0" stroke-width="2.2" fill="none" />
<rect x="2355.0" y="2061.0" width="72.0" height="10.0" rx="3" stroke-width="3.3" fill="none"/>
<rect x="2358.0" y="2064.0" width="66.0" height="4.0" rx="1" stroke-width="2.4" fill="none" stroke-dasharray="0.1 6" stroke-linecap="round"/>
<rect x="2445.0" y="2055.0" width="77.0" height="12.0" rx="4" stroke-width="3.3" fill="none" transform="rotate(-2 2483.5 2061.0)"/>
<rect x="2448.0" y="2058.0" width="71.0" height="6.0" rx="1" stroke-width="2.4" fill="none" stroke-dasharray="0.1 6" stroke-linecap="round" transform="rotate(-2 2483.5 2061.0)"/>
<rect x="2615.0" y="2060.0" width="21.0" height="10.0" rx="1" stroke-width="3.3" fill="none"/>
<rect x="2620.0" y="2063.0" width="12.0" height="5.0" rx="1" stroke-width="1" fill="#000"/>
<rect x="2657.0" y="2058.0" width="49.0" height="13.0" rx="6" stroke-width="3.3" fill="none"/>
<rect x="2660.5" y="2061.5" width="42.0" height="6.0" rx="2.5" stroke-width="2.4" fill="none" stroke-dasharray="0.1 6" stroke-linecap="round"/>
<ellipse cx="2724.0" cy="2064.0" rx="6" ry="4" stroke-width="3.3" fill="none"/>
<path d="M2662,2052 Q2668,2043 2680,2043 L2755,2043" stroke-width="3.3" fill="none" />
<path d="M2672.0,2048.0 L2750.0,2047.0" stroke-width="2.2" fill="none" stroke-dasharray="0.1 7" stroke-linecap="round"/>
<path d="M2767.0,2041.0 L2760.0,2137.5" stroke-width="3.3" fill="none" />
<path d="M2808,2042 Q2798,2090 2798,2137.5" stroke-width="3.8" fill="none" />
<path d="M2790.0,2048.0 L2783.0,2137.5" stroke-width="2.4" fill="none" stroke-dasharray="0.1 12" stroke-linecap="round"/>
<path d="M2808,2042 Q2980,2052 3100,2075 Q3220,2100 3280,2125 L3308,2137.5" stroke-width="4.3" fill="none" />
<path d="M2270.0,2080.0 L2270.0,2137.5" stroke-width="3.3" fill="none" />
<path d="M2270,2080 L2312,2080 Q2320,2082 2320,2090 L2320,2137.5" stroke-width="3.3" fill="none" />
<rect x="2284.0" y="2087.0" width="26.0" height="15.0" rx="5" stroke-width="3.3" fill="none"/>
<rect x="2287.5" y="2090.5" width="19.0" height="8.0" rx="1.5" stroke-width="2.4" fill="none" stroke-dasharray="0.1 5" stroke-linecap="round"/>
<rect x="2320.0" y="2090.0" width="27.0" height="15.0" rx="4" stroke-width="3.3" fill="none"/>
<rect x="2323.5" y="2093.5" width="20.0" height="8.0" rx="1" stroke-width="2.4" fill="none" stroke-dasharray="0.1 5" stroke-linecap="round"/>
<path d="M2320.0,2110.0 L2377.0,2110.0" stroke-width="3.3" fill="none" />
<path d="M2377.0,2091.0 L2605.0,2093.0 L2605.0,2137.5" stroke-width="3.3" fill="none" />
<path d="M2377.0,2091.0 L2377.0,2137.5" stroke-width="3.3" fill="none" />
<path d="M2400,2114 L2525,2095 L2658,2114 L2525,2130 L2470,2125 Z" stroke-width="3.3" fill="none" />
<path d="M2410,2114 L2525,2099 L2640,2114 L2525,2126 L2475,2121 Z" stroke-width="2.2" fill="none" />
<rect x="2515.0" y="2104.0" width="17.0" height="10.0" rx="3" stroke-width="2.2" fill="none"/>
<path d="M2472,2137.5 Q2478,2128 2500,2126 L2560,2124 Q2590,2130 2592,2137.5" stroke-width="3.3" fill="none" />
<rect x="2612.0" y="2088.0" width="24.0" height="14.0" rx="3" stroke-width="3.3" fill="none"/>
<rect x="2618.0" y="2092.0" width="14.0" height="7.0" rx="2" stroke-width="1" fill="#000"/>
</g>
<path d="M15.0,2137.5 L3300.0,2138.5" stroke-width="2" fill="none" stroke-dasharray="110 8 8 8"/>
<path d="M3308.0,2137.5 L3680.0,2138.5" stroke-width="2.2" fill="none" />
<path d="M3308,2132.5 L3330,2134.5 L3400,2135.5 L3550,2136.5 L3640,2137.5 L3550,2139.5 L3400,2140.5 L3330,2141.5 L3308,2142.5Z" stroke-width="3.3" fill="none" />
<path d="M3400,2135.5 L3560,2136.5 L3560,2139.5 L3400,2140.5Z" stroke-width="1" fill="#000" />
<path d="M3362,2115.5 Q3372,2111.5 3385,2117.5 L3395,2134.5 L3388,2134.5 L3380,2121.5 Q3372,2117.5 3366,2119.5Z" stroke-width="2.2" fill="none" />
<path d="M3548,2119.5 L3556,2117.5 L3566,2135.5 L3560,2135.5 Z" stroke-width="2.2" fill="none" />
<path d="M3362,2159.5 Q3372,2163.5 3385,2157.5 L3395,2140.5 L3388,2140.5 L3380,2153.5 Q3372,2157.5 3366,2155.5Z" stroke-width="2.2" fill="none" />
<path d="M3548,2155.5 L3556,2157.5 L3566,2139.5 L3560,2139.5 Z" stroke-width="2.2" fill="none" />
<circle cx="3632.0" cy="2137.5" r="2.5" stroke-width="1" fill="#000"/>
<rect x="552.0" y="2091.0" width="88.0" height="96.0" rx="9" stroke-width="3.3" fill="none" transform="rotate(-2 596.0 2139.0)"/>
<circle cx="562.0" cy="2100.0" r="1.8" stroke-width="1" fill="#000"/>
<circle cx="600.0" cy="2097.0" r="1.8" stroke-width="1" fill="#000"/>
<circle cx="632.0" cy="2098.0" r="1.8" stroke-width="1" fill="#000"/>
<circle cx="557.0" cy="2140.0" r="1.8" stroke-width="1" fill="#000"/>
<circle cx="636.0" cy="2140.0" r="1.8" stroke-width="1" fill="#000"/>
<circle cx="560.0" cy="2178.0" r="1.8" stroke-width="1" fill="#000"/>
<circle cx="600.0" cy="2182.0" r="1.8" stroke-width="1" fill="#000"/>
<circle cx="632.0" cy="2180.0" r="1.8" stroke-width="1" fill="#000"/>
<rect x="776.0" y="2099.0" width="48.0" height="78.0" rx="8" stroke-width="3.3" fill="none"/>
<circle cx="802.0" cy="2157.0" r="11" stroke-width="3.3" fill="none"/>
<circle cx="802.0" cy="2157.0" r="6" stroke-width="3.3" fill="none"/>
<circle cx="783.0" cy="2108.0" r="1.6" stroke-width="1" fill="#000"/>
<circle cx="818.0" cy="2108.0" r="1.6" stroke-width="1" fill="#000"/>
<circle cx="783.0" cy="2128.0" r="1.6" stroke-width="1" fill="#000"/>
<circle cx="818.0" cy="2150.0" r="1.6" stroke-width="1" fill="#000"/>
<circle cx="855.0" cy="2114.0" r="11" stroke-width="3.3" fill="none"/>
<circle cx="855.0" cy="2114.0" r="6" stroke-width="3.3" fill="none"/>
<rect x="838.0" y="2149.0" width="35.0" height="17.0" rx="8" stroke-width="3.3" fill="none"/>
<circle cx="855.0" cy="2157.0" r="5" stroke-width="2.2" fill="none"/>
<path d="M842.0,2157.0 L870.0,2157.0" stroke-width="2.2" fill="none" />
<rect x="910.0" y="2096.0" width="85.0" height="84.0" rx="3" stroke-width="3.3" fill="none"/>
<rect x="915.0" y="2101.0" width="75.0" height="74.0" rx="1" stroke-width="2.4" fill="none" stroke-dasharray="0.1 7" stroke-linecap="round"/>
<rect x="1042.0" y="2097.0" width="85.0" height="83.0" rx="3" stroke-width="3.3" fill="none"/>
<rect x="1047.0" y="2102.0" width="75.0" height="73.0" rx="1" stroke-width="2.4" fill="none" stroke-dasharray="0.1 7" stroke-linecap="round"/>
<rect x="917.0" y="2140.0" width="25.0" height="18.0" rx="6" stroke-width="3.3" fill="none"/>
<rect x="945.0" y="2165.0" width="23.0" height="6.0" rx="2" stroke-width="1" fill="#000"/>
<rect x="1078.0" y="2166.0" width="22.0" height="6.0" rx="2" stroke-width="1" fill="#000"/>
<path d="M1004,2112 Q1010,2104 1018,2112 L1012,2130 Q1008,2132 1006,2128Z" stroke-width="3.3" fill="none" />
<circle cx="1011.0" cy="2113.0" r="3" stroke-width="1.5" fill="none"/>
<path d="M1004,2166 Q1004,2150 1010,2146 Q1018,2150 1018,2166Z" stroke-width="3.3" fill="none" />
<circle cx="1011.0" cy="2160.0" r="4" stroke-width="2.2" fill="none"/>
<circle cx="1011.0" cy="2177.0" r="8" stroke-width="3.3" fill="none"/>
<circle cx="1011.0" cy="2177.0" r="4" stroke-width="1" fill="#000"/>
<circle cx="930.0" cy="2207.0" r="9" stroke-width="3.3" fill="none"/>
<circle cx="930.0" cy="2207.0" r="5" stroke-width="1" fill="#000"/>
<path d="M865,2230 Q868,2220 882,2219 L905,2221 L905,2239 L882,2241 Q868,2240 865,2230Z" stroke-width="3.3" fill="none" />
<path d="M872.0,2226.0 L895.0,2226.0 L895.0,2235.0 L872.0,2235.0Z" stroke-width="2" fill="none" stroke-dasharray="0.1 5" stroke-linecap="round"/>
<circle cx="860.0" cy="2256.0" r="2.5" stroke-width="1" fill="#000"/>
<circle cx="875.0" cy="2256.0" r="2.5" stroke-width="1" fill="#000"/>
<ellipse cx="862.0" cy="2277.0" rx="11" ry="7" stroke-width="3.3" fill="none"/>
<ellipse cx="862.0" cy="2296.0" rx="11" ry="7" stroke-width="3.3" fill="none"/>
<circle cx="862.0" cy="2277.0" r="2" stroke-width="1" fill="#000"/>
<circle cx="862.0" cy="2296.0" r="2" stroke-width="1" fill="#000"/>
<circle cx="887.0" cy="2278.0" r="4" stroke-width="1" fill="#000"/>
<rect x="1182.0" y="2102.0" width="98.0" height="65.0" rx="10" stroke-width="3.3" fill="none"/>
<rect x="1187.0" y="2107.0" width="88.0" height="55.0" rx="5" stroke-width="2.4" fill="none" stroke-dasharray="0.1 8" stroke-linecap="round"/>
<rect x="1335.0" y="2114.0" width="42.0" height="48.0" rx="5" stroke-width="3.3" fill="none"/>
<rect x="1339.5" y="2118.5" width="33.0" height="39.0" rx="1" stroke-width="2.4" fill="none" stroke-dasharray="0.1 6" stroke-linecap="round"/>
<rect x="1395.0" y="2091.0" width="107.0" height="88.0" rx="12" stroke-width="3.3" fill="none"/>
<rect x="1400.0" y="2096.0" width="97.0" height="78.0" rx="7" stroke-width="2.4" fill="none" stroke-dasharray="0.1 7" stroke-linecap="round"/>
<rect x="1512.0" y="2102.0" width="118.0" height="73.0" rx="10" stroke-width="3.3" fill="none"/>
<rect x="1517.0" y="2107.0" width="108.0" height="63.0" rx="5" stroke-width="2.4" fill="none" stroke-dasharray="0.1 8" stroke-linecap="round"/>
<path d="M1400.0,2108.0 L1500.0,2108.0" stroke-width="2.2" fill="none" />
<path d="M1400.0,2166.0 L1500.0,2166.0" stroke-width="2.2" fill="none" />
<rect x="1810.0" y="2109.0" width="85.0" height="55.0" rx="9" stroke-width="3.3" fill="none"/>
<rect x="1815.0" y="2114.0" width="75.0" height="45.0" rx="4" stroke-width="2.4" fill="none" stroke-dasharray="0.1 7" stroke-linecap="round"/>
<path d="M1833,2118 L1847,2118 L1847,2128 Q1840,2136 1833,2128Z" stroke-width="3.3" fill="none" />
<circle cx="1903.0" cy="2123.0" r="2" stroke-width="1" fill="#000"/>
<rect x="1930.0" y="2110.0" width="60.0" height="55.0" rx="2" stroke-width="3.3" fill="none"/>
<rect x="1934.0" y="2114.0" width="52.0" height="47.0" rx="1" stroke-width="2.4" fill="none" stroke-dasharray="0.1 6" stroke-linecap="round"/>
<rect x="1940.0" y="2120.0" width="22.0" height="34.0" rx="10" stroke-width="3.8" fill="none"/>
<circle cx="1951.0" cy="2137.0" r="9" stroke-width="3.3" fill="none"/>
<rect x="1999.0" y="2097.0" width="101.0" height="75.0" rx="3" stroke-width="3.8" fill="none"/>
<path d="M2008.0,2092.0 L2008.0,2097.0" stroke-width="4.8" fill="none" />
<path d="M2092.0,2092.0 L2092.0,2097.0" stroke-width="4.8" fill="none" />
<rect x="2030.0" y="2159.0" width="25.0" height="8.0" rx="4" stroke-width="1" fill="#000"/>
<circle cx="2121.0" cy="2137.0" r="14" stroke-width="3.3" fill="none"/>
<circle cx="2121.0" cy="2137.0" r="9" stroke-width="3.3" fill="none"/>
<path d="M2132.5,2137.0" stroke-width="2.6" fill="none" stroke-dasharray="0.1 1" stroke-linecap="round"/>
<circle cx="2121" cy="2137" r="11.5" stroke-width="2" fill="none" stroke-dasharray="0.1 5" stroke-linecap="round"/>
<rect x="2142.0" y="2097.0" width="95.0" height="76.0" rx="3" stroke-width="3.8" fill="none"/>
<rect x="2162.0" y="2110.0" width="55.0" height="45.0" rx="2" stroke-width="3.3" fill="none"/>
<rect x="2166.0" y="2114.0" width="47.0" height="37.0" rx="1" stroke-width="2.4" fill="none" stroke-dasharray="0.1 6" stroke-linecap="round"/>
<path d="M2152.0,2092.0 L2152.0,2097.0" stroke-width="4.8" fill="none" />
<path d="M2226.0,2092.0 L2226.0,2097.0" stroke-width="4.8" fill="none" />
<rect x="2178.0" y="2160.0" width="25.0" height="7.0" rx="4" stroke-width="3.3" fill="none"/>
<circle cx="2251.0" cy="2137.0" r="14" stroke-width="3.3" fill="none"/>
<circle cx="2251.0" cy="2137.0" r="9" stroke-width="3.3" fill="none"/>
<circle cx="2251" cy="2137" r="11.5" stroke-width="2" fill="none" stroke-dasharray="0.1 5" stroke-linecap="round"/>
<rect x="2275.0" y="2107.0" width="35.0" height="63.0" rx="3" stroke-width="3.3" fill="none"/>
<rect x="2279.0" y="2111.0" width="27.0" height="55.0" rx="1" stroke-width="2.4" fill="none" stroke-dasharray="0.1 6" stroke-linecap="round"/>
<path d="M2320.0,2110.0 L2320.0,2165.0" stroke-width="3.8" fill="none" />
<circle cx="2320.0" cy="2130.0" r="2" stroke-width="1" fill="#000"/>
<circle cx="2320.0" cy="2150.0" r="2" stroke-width="1" fill="#000"/>
<rect x="2710.0" y="2100.0" width="37.0" height="22.0" rx="8" stroke-width="3.3" fill="none"/>
<rect x="2714.0" y="2104.0" width="29.0" height="14.0" rx="4" stroke-width="2.4" fill="none" stroke-dasharray="0.1 6" stroke-linecap="round"/>
<ellipse cx="2735.0" cy="2106.0" rx="3" ry="5" stroke-width="2.2" fill="none"/>
<path d="M2612,2128 L2632,2128 L2636,2146 L2612,2146Z" stroke-width="2.2" fill="none" />
<path d="M2618.0,2132.0 L2632.0,2132.0" stroke-width="2.2" fill="none" />
<path d="M2618.0,2136.0 L2630.0,2136.0" stroke-width="2.2" fill="none" />
<path d="M2618.0,2140.0 L2628.0,2140.0" stroke-width="2.2" fill="none" />
<path d="M2618.0,2144.0 L2626.0,2144.0" stroke-width="2.2" fill="none" />
<path d="M2640,2134 L2648,2138 L2640,2142Z" stroke-width="1" fill="#000" />
<circle cx="2778.0" cy="2150.0" r="7" stroke-width="3.3" fill="none"/>
<circle cx="2778.0" cy="2150.0" r="3" stroke-width="1" fill="#000"/>
<path d="M2762.0,2150.0 L2795.0,2150.0" stroke-width="2.2" fill="none" />
<path d="M2625,2187 Q2660,2186 2690,2178 Q2700,2168 2720,2166 L2752,2168 Q2740,2178 2725,2180 Q2700,2192 2660,2194 L2625,2192" stroke-width="3.3" fill="none" />
<path d="M2700,2172 Q2715,2166 2735,2170 Q2725,2176 2705,2176Z" stroke-width="3.3" fill="#000" />
<path d="M2125.0,1039.0 L2612.0,1039.0" stroke-width="3.3" fill="none" />
<path d="M2125.0,1051.0 L2612.0,1051.0" stroke-width="3.8" fill="none" />
<rect x="2125.0" y="1039.0" width="84.0" height="12.0" rx="0" stroke-width="1" fill="#000"/>
<rect x="2290.0" y="1039.0" width="83.0" height="12.0" rx="0" stroke-width="1" fill="#000"/>
<rect x="2452.0" y="1039.0" width="81.0" height="12.0" rx="0" stroke-width="1" fill="#000"/>
<path d="M2125.0,1026.0 L2125.0,1052.0" stroke-width="4.3" fill="none" />
<path d="M2290.0,1026.0 L2290.0,1052.0" stroke-width="4.3" fill="none" />
<path d="M2452.0,1026.0 L2452.0,1052.0" stroke-width="4.3" fill="none" />
<path d="M2612.0,1026.0 L2612.0,1052.0" stroke-width="4.3" fill="none" />
<path d="M13,0 Q0,0 0,13 L0,29 Q0,42 13,42 Q26,42 26,29 L26,13 Q26,0 13,0Z" stroke-width="3.2" fill="none" stroke-linecap="round" stroke-linejoin="round" transform="translate(2113,975) scale(1.0)"/>
<path d="M2,10 L14,0 L14,42" stroke-width="3.2" fill="none" stroke-linecap="round" stroke-linejoin="round" transform="translate(2276,975) scale(1.0)"/>
<path d="M0,11 Q1,0 14,0 Q27,0 27,11 Q27,18 20,24 L0,42 L28,42" stroke-width="3.2" fill="none" stroke-linecap="round" stroke-linejoin="round" transform="translate(2438,975) scale(1.0)"/>
<path d="M0,8 Q3,0 13,0 Q25,0 25,10 Q25,19 12,20 Q27,21 27,31 Q27,42 13,42 Q2,42 0,33" stroke-width="3.2" fill="none" stroke-linecap="round" stroke-linejoin="round" transform="translate(2597,978) scale(1.0)"/>
<path d="M0,42 L0,14 M0,20 Q3,13 10,13 Q18,13 18,22 L18,42 M18,22 Q20,13 28,13 Q36,13 36,22 L36,42" stroke-width="3.2" fill="none" stroke-linecap="round" stroke-linejoin="round" transform="translate(2628,978) scale(1.0)"/>
<path d="M1793.5,976.0 L1793.5,1411.0" stroke-width="2" fill="none" stroke-dasharray="60 6 6 6"/>
<path d="M1793.5,1163.0 L1793.5,1305.0" stroke-width="3.8" fill="none" />
<path d="M1710.0,1164.0 L1710.0,1348.0" stroke-width="2" fill="none" stroke-dasharray="40 6 6 6"/>
<path d="M1877.0,1164.0 L1877.0,1348.0" stroke-width="2" fill="none" stroke-dasharray="40 6 6 6"/>
<path d="M1629.0,1250.0 L1965.0,1250.0" stroke-width="2" fill="none" stroke-dasharray="50 6 6 6"/>
<path d="M1601.0,1265.0 L1988.0,1264.0" stroke-width="2" fill="none" stroke-dasharray="50 6 6 6"/>
<circle cx="1710.0" cy="1248.0" r="81" stroke-width="4.3" fill="none"/>
<circle cx="1877.0" cy="1248.0" r="81" stroke-width="4.3" fill="none"/>
<path d="M1733,1138 Q1690,1145 1662,1162 Q1632,1185 1624,1215 Q1618,1245 1621,1275 Q1625,1315 1640,1340 Q1660,1368 1710,1386 L1793,1389 L1879,1386 Q1925,1368 1947,1335 Q1960,1310 1962,1270 Q1966,1240 1960,1212 Q1950,1180 1925,1160 Q1900,1145 1853,1136" stroke-width="3.8" fill="none" />
<path d="M1745,1146 Q1700,1152 1672,1168 Q1642,1190 1634,1220 M1842,1144 Q1890,1152 1916,1166 Q1944,1186 1952,1216" stroke-width="3.3" fill="none" />
<path d="M1750,1154 Q1705,1160 1678,1176 Q1650,1196 1641,1226 M1838,1152 Q1884,1160 1910,1174 Q1936,1192 1946,1222" stroke-width="2.2" fill="none" />
<path d="M1632,1290 Q1622,1230 1650,1190 Q1690,1152 1750,1160 Q1780,1168 1793,1180 Q1806,1168 1838,1160 Q1896,1152 1934,1190 Q1964,1230 1954,1290" stroke-width="3.3" fill="none" />
<path d="M1793,1178 Q1770,1166 1750,1166 M1793,1178 Q1816,1166 1838,1166" stroke-width="2.2" fill="none" />
<path d="M1628,1300 Q1616,1240 1640,1196 Q1668,1160 1720,1150 M1958,1300 Q1970,1240 1946,1196 Q1918,1160 1866,1150" stroke-width="2.2" fill="none" />
<path d="M1640,1316 Q1650,1338 1668,1352 M1946,1316 Q1936,1338 1918,1352" stroke-width="2.2" fill="none" />
<path d="M1638,1330 Q1660,1350 1710,1345 Q1760,1335 1793,1305 Q1826,1335 1877,1345 Q1928,1350 1948,1330" stroke-width="3.3" fill="none" />
<path d="M1645,1345 Q1680,1368 1720,1360 Q1765,1345 1793,1336 Q1822,1345 1866,1360 Q1906,1368 1942,1345" stroke-width="3.3" fill="none" />
<path d="M1668,1368 Q1710,1380 1740,1368 Q1770,1355 1793,1355 Q1816,1355 1846,1368 Q1876,1380 1918,1368" stroke-width="3.3" fill="none" />
<rect x="1713.0" y="1360.0" width="13.0" height="20.0" rx="6" stroke-width="3.3" fill="none"/>
<rect x="1863.0" y="1358.0" width="13.0" height="20.0" rx="6" stroke-width="3.3" fill="none"/>
<path d="M1776,1160 Q1786,1172 1793,1185 Q1800,1172 1810,1160" stroke-width="3.3" fill="none" />
<path d="M1765,1140 L1785,1168 L1793,1180 L1801,1168 L1821,1140" stroke-width="3.3" fill="none" />
<path d="M1733,1138 Q1738,1100 1765,1086 M1853,1136 Q1848,1100 1821,1086" stroke-width="3.8" fill="none" />
<path d="M1765,1086 Q1770,1084 1778,1083 M1811,1083 Q1816,1084 1821,1086" stroke-width="3.8" fill="none" />
<circle cx="1793.0" cy="1113.0" r="24" stroke-width="3.3" fill="none"/>
<circle cx="1793.0" cy="1113.0" r="11" stroke-width="3.3" fill="none"/>
<path d="M1762.0,1113.0 L1824.0,1113.0" stroke-width="2.2" fill="none" />
<path d="M1770,1128 Q1778,1140 1780,1150 M1816,1128 Q1808,1140 1806,1150" stroke-width="3.3" fill="none" />
<rect x="1738.0" y="1133.0" width="12.0" height="22.0" rx="5" stroke-width="3.3" fill="none"/>
<rect x="1834.0" y="1131.0" width="12.0" height="22.0" rx="5" stroke-width="3.3" fill="none"/>
<path d="M1778.0,1001.0 L1778.0,1087.0" stroke-width="3.8" fill="none" />
<path d="M1811.0,1001.0 L1815.0,1087.0" stroke-width="3.8" fill="none" />
<path d="M1782.0,1001.0 L1782.0,1080.0" stroke-width="2.2" fill="none" />
<path d="M1807.0,1001.0 L1808.0,1080.0" stroke-width="2.2" fill="none" />
<path d="M1746.0,1000.0 L1830.0,1000.0" stroke-width="3.3" fill="none" />
<path d="M1830.0,1000.0 L1836.0,995.0 L1843.0,1028.0 L1850.0,996.0 L1856.0,1006.0 L1862.0,998.0 L1868.0,1002.0 L1880.0,1003.0 L1916.0,1004.0" stroke-width="2.2" fill="none" />
<path d="M1793,1037 L1784,1066 L1803,1066Z" stroke-width="3.3" fill="none" />
<ellipse cx="1794.5" cy="1065.0" rx="29" ry="6" stroke-width="3.3" fill="none"/>
<circle cx="1794.5" cy="1065.0" r="8" stroke-width="3.3" fill="none"/>
<circle cx="1794.5" cy="1065.0" r="4" stroke-width="2.2" fill="none"/>
<rect x="1783.0" y="1086.0" width="25.0" height="8.0" rx="1" stroke-width="3.3" fill="none"/>
<rect x="1615.0" y="1168.0" width="18.0" height="26.0" rx="2" stroke-width="3.3" fill="none" transform="rotate(35 1624.0 1181.0)"/>
<path d="M1618.0,1179.0 L1630.0,1183.0" stroke-width="2.2" fill="none" />
<rect x="1957.0" y="1168.0" width="18.0" height="26.0" rx="2" stroke-width="3.3" fill="none" transform="rotate(-35 1966.0 1181.0)"/>
<path d="M1960.0,1179.0 L1972.0,1183.0" stroke-width="2.2" fill="none" />
<path d="M1612,1207 L1624,1205 L1626,1218 M1603,1228 L1618,1222 L1624,1255 L1610,1260 Z" stroke-width="3.3" fill="none" />
<rect x="1614.0" y="1237.0" width="12.0" height="8.0" rx="2" stroke-width="2.2" fill="none" transform="rotate(-10 1620.0 1241.0)"/>
<path d="M1972,1228 L1990,1222 L1994,1232 L1988,1262 L1970,1258 M1968,1236 L1984,1240" stroke-width="3.3" fill="none" />
<path d="M1785.0,1385.0 L1785.0,1408.0" stroke-width="4.3" fill="none" />
<path d="M1958,1269 L2222,1289 Q2228,1292 2227,1295 Q2226,1298 2222,1298 L1958,1280" stroke-width="3.8" fill="none" />
<path d="M1965.0,1275.0 L2180.0,1293.0" stroke-width="2.2" fill="none" />
<path d="M2227.0,1294.0 L2296.0,1298.0" stroke-width="2" fill="none" stroke-dasharray="30 5 5 5"/>
<path d="M2201.0,1235.0 L2201.0,1312.0" stroke-width="2" fill="none" stroke-dasharray="40 5 5 5"/>
<path d="M2195,1290 L2195,1270 Q2201,1258 2207,1270 L2207,1290" stroke-width="3.3" fill="none" />
<path d="M2196,1298 L2201,1304 L2206,1298" stroke-width="3.3" fill="#000" />
<path d="M1958.0,1290.0 L2020.0,1290.0" stroke-width="3.3" fill="none" />
<path d="M1955.0,1333.0 L2026.0,1334.0" stroke-width="3.3" fill="none" />
<path d="M2020.0,1290.0 L2020.0,1346.0" stroke-width="2.2" fill="none" />
<path d="M1958.0,1305.0 L2020.0,1305.0" stroke-width="2.2" fill="none" />
<path d="M1958.0,1318.0 L2020.0,1318.0" stroke-width="2.2" fill="none" />
<rect x="1992.0" y="1308.0" width="14.0" height="14.0" rx="2" stroke-width="3.8" fill="none"/>
<path d="M1994,1322 Q1998,1334 2004,1322" stroke-width="3.8" fill="none" />
<path d="M2025.0,1212.0 L2025.0,1230.0 L2040.0,1242.0 L2012.0,1248.0 L2022.0,1254.0 L2023.0,1275.0" stroke-width="2.2" fill="none" />
<circle cx="2025.0" cy="1230.0" r="2" stroke-width="1" fill="#000"/>
<path d="M1953,1275 Q1962,1268 1968,1278 Q1964,1288 1954,1284" stroke-width="3.3" fill="none" />
<path d="M1626,1275 L1030,1310 Q1024,1312 1024,1317 Q1024,1323 1030,1324 L1507,1331 L1525,1337 L1579,1334 L1594,1331 L1633,1330" stroke-width="3.8" fill="none" />
<path d="M1095.0,1316.0 L1626.0,1287.0" stroke-width="2.2" fill="none" />
<path d="M1095.0,1316.0 L1104.0,1322.0 L1358.0,1320.0 L1594.0,1322.0" stroke-width="2.2" fill="none" />
<path d="M1370.0,1300.0 L1530.0,1290.0" stroke-width="2.2" fill="none" />
<path d="M1298.0,1311.0 L1584.0,1308.0" stroke-width="2.2" fill="none" />
<path d="M1040.0,1311.0 L1040.0,1323.0" stroke-width="2.2" fill="none" />
<circle cx="1288.0" cy="1296.0" r="6" stroke-width="1" fill="#000"/>
<path d="M1288.0,1278.0 L1288.0,1296.0" stroke-width="3.8" fill="none" />
<path d="M1358,1322 L1366,1312 L1368,1304" stroke-width="3.8" fill="none" />
<circle cx="1362.0" cy="1318.0" r="5" stroke-width="1" fill="#000"/>
<circle cx="1188.0" cy="1302.0" r="3" stroke-width="2.2" fill="none"/>
<circle cx="1188.0" cy="1327.0" r="3" stroke-width="2.2" fill="none"/>
<path d="M1289.0,1320.0 L1289.0,1401.0" stroke-width="2" fill="none" stroke-dasharray="34 5 5 5"/>
<path d="M1537.0,1316.0 L1537.0,1385.0" stroke-width="2" fill="none" stroke-dasharray="34 5 5 5"/>
<path d="M1582,1308 L1597,1306 L1597,1332 Q1590,1340 1582,1334 Z" stroke-width="3.3" fill="none" />
<path d="M1586,1312 Q1582,1322 1588,1332" stroke-width="2.2" fill="none" />
<path d="M1525.0,1337.0 L1579.0,1338.0" stroke-width="3.8" fill="none" />
<path d="M1601.0,1276.0 L1626.0,1275.0" stroke-width="2.2" fill="none" />
<path d="M1560.0,1292.0 L1626.0,1288.0" stroke-width="2.2" fill="none" />
<circle cx="1597.0" cy="1046.0" r="3" stroke-width="1" fill="#000"/>
<circle cx="1625.0" cy="1079.0" r="2.5" stroke-width="1" fill="#000"/>
<circle cx="2250.0" cy="1081.0" r="2.5" stroke-width="1" fill="#000"/>
<circle cx="1760.0" cy="1828.0" r="3" stroke-width="1" fill="#000"/>
<circle cx="2108.0" cy="1829.0" r="3" stroke-width="1" fill="#000"/>
<path d="M2787.0,902.0 L2787.0,1660.0" stroke-width="2" fill="none" stroke-dasharray="60 6 6 6"/>
<path d="M2766,1280 L2777,935 Q2779,923 2787,922 Q2795,923 2797,935 L2805,1280" stroke-width="3.8" fill="none" />
<path d="M2770,1280 L2780,975 Q2782,966 2787,966 Q2793,966 2794,975 L2801,1280" stroke-width="3.3" fill="none" />
<path d="M2775,1280 L2777,1274 Q2787,1268 2799,1274 L2801,1280" stroke-width="3.8" fill="none" />
<path d="M2730,1357 Q2728,1320 2744,1298 Q2764,1280 2788,1279 Q2812,1280 2834,1298 Q2850,1320 2848,1357" stroke-width="4.3" fill="none" />
<path d="M2735,1352 Q2734,1322 2748,1303 Q2766,1286 2788,1285 Q2810,1286 2829,1303 Q2843,1322 2842,1352" stroke-width="3.3" fill="none" />
<path d="M2745,1355 Q2740,1325 2752,1308 Q2768,1292 2788,1291 Q2808,1292 2824,1308 Q2836,1325 2832,1355" stroke-width="4.3" fill="none" />
<path d="M2766,1355 L2761,1328 Q2760,1308 2770,1302 Q2788,1294 2806,1302 Q2816,1308 2815,1328 L2810,1355 Z" stroke-width="4.3" fill="none" />
<path d="M2745,1355 L2758,1365 L2766,1355 M2832,1355 L2820,1365 L2810,1355" stroke-width="3.8" fill="none" />
<path d="M2770.0,1340.0 L2780.0,1330.0" stroke-width="1.8" fill="none" />
<path d="M2774.0,1342.0 L2782.0,1334.0" stroke-width="1.8" fill="none" />
<path d="M2801.0,1317.0 L2811.0,1307.0" stroke-width="1.8" fill="none" />
<path d="M2805.0,1319.0 L2813.0,1311.0" stroke-width="1.8" fill="none" />
<path d="M2805.0,1337.0 L2815.0,1327.0" stroke-width="1.8" fill="none" />
<path d="M2809.0,1339.0 L2817.0,1331.0" stroke-width="1.8" fill="none" />
<path d="M2747.0,1321.0 L2757.0,1311.0" stroke-width="1.8" fill="none" />
<path d="M2751.0,1323.0 L2759.0,1315.0" stroke-width="1.8" fill="none" />
<path d="M2741.0,1349.0 L2751.0,1339.0" stroke-width="1.8" fill="none" />
<path d="M2745.0,1351.0 L2753.0,1343.0" stroke-width="1.8" fill="none" />
<path d="M2823.0,1353.0 L2833.0,1343.0" stroke-width="1.8" fill="none" />
<path d="M2827.0,1355.0 L2835.0,1347.0" stroke-width="1.8" fill="none" />
<path d="M2730,1357 Q2745,1372 2765,1368 Q2788,1362 2812,1368 Q2832,1372 2848,1357" stroke-width="3.3" fill="none" />
<path d="M2720,1372 Q2750,1378 2788,1372 Q2826,1378 2856,1372" stroke-width="3.3" fill="none" />
<path d="M2723.0,1332.0 L2692.0,1338.0 L2655.0,1353.0 L2624.0,1373.0 L2612.0,1396.0" stroke-width="3.8" fill="none" />
<path d="M2719.0,1342.0 L2691.0,1347.0 L2659.0,1360.0 L2631.0,1378.0 L2619.0,1398.0" stroke-width="2.2" fill="none" />
<path d="M2715.0,1352.0 L2691.0,1356.0 L2663.0,1367.0 L2639.0,1383.0" stroke-width="2.2" fill="none" />
<path d="M2711.0,1360.0 L2691.0,1364.0 L2669.0,1373.0 L2649.0,1386.0" stroke-width="2.2" fill="none" />
<path d="M2612.0,1396 L2607.0,1420 L2609.0,1455 L2621.0,1490 L2627.0,1530 L2637.0,1550 L2656.0,1556" stroke-width="4.3" fill="none" />
<path d="M2619.0,1398 L2691.0,1386 L2699.0,1392" stroke-width="3.8" fill="none" />
<path d="M2625.0,1416 L2628.0,1410 L2681.0,1400 L2687.0,1405 L2675.0,1464 L2685.0,1538 L2653.0,1543 L2645.0,1536Z" stroke-width="4.3" fill="none" />
<path d="M2617.0,1404 L2619.0,1460 L2633.0,1532 L2643.0,1546" stroke-width="3.3" fill="none" />
<path d="M2693.0,1392 L2685.0,1462 L2699.0,1530 L2711.0,1545" stroke-width="3.3" fill="none" />
<path d="M2699.0,1392 L2693.0,1462 L2705.0,1525" stroke-width="3.3" fill="none" />
<path d="M2711.0,1386 L2705.0,1440" stroke-width="3.3" fill="none" />
<path d="M2685.0,1538.0 L2709.0,1548.0 L2656.0,1556.0 L2653.0,1543.0" stroke-width="3.8" fill="none" />
<rect x="2675.0" y="1465.0" width="6.0" height="15.0" rx="3" stroke-width="3.3" fill="none"/>
<rect x="2720.0" y="1385.0" width="6.0" height="15.0" rx="3" stroke-width="3.3" fill="none" transform="rotate(40 2723.0 1392.5)"/>
<path d="M2656.0,1556.0 L2671.0,1575.0 L2701.0,1582.0 L2721.0,1578.0" stroke-width="3.8" fill="none" />
<path d="M2666.0,1556.0 L2681.0,1568.0 L2709.0,1574.0" stroke-width="2.2" fill="none" />
<path d="M2676.0,1556.0 L2691.0,1562.0 L2713.0,1566.0" stroke-width="2.2" fill="none" />
<path d="M2701.0,1380.0 L2671.0,1388.0 L2631.0,1396.0" stroke-width="2.2" fill="none" />
<rect x="2601.0" y="1362.0" width="16.0" height="26.0" rx="2" stroke-width="3.8" fill="none" transform="rotate(-45 2609.0 1375.0)"/>
<path d="M2615.0,1372.0 L2603.0,1378.0" stroke-width="3.3" fill="none" />
<rect x="2589.0" y="1420.0" width="16.0" height="28.0" rx="2" stroke-width="3.8" fill="none" transform="rotate(-5 2597.0 1434.0)"/>
<path d="M2615.0,1469.0 L2531.0,1477.0" stroke-width="3.8" fill="none" />
<path d="M2619.0,1496.0 L2531.0,1501.0" stroke-width="3.3" fill="none" />
<path d="M2624.0,1520.0 L2531.0,1527.0" stroke-width="4.3" fill="none" />
<path d="M2848.0,1332.0 L2879.0,1338.0 L2916.0,1353.0 L2947.0,1373.0 L2959.0,1396.0" stroke-width="3.8" fill="none" />
<path d="M2852.0,1342.0 L2880.0,1347.0 L2912.0,1360.0 L2940.0,1378.0 L2952.0,1398.0" stroke-width="2.2" fill="none" />
<path d="M2856.0,1352.0 L2880.0,1356.0 L2908.0,1367.0 L2932.0,1383.0" stroke-width="2.2" fill="none" />
<path d="M2860.0,1360.0 L2880.0,1364.0 L2902.0,1373.0 L2922.0,1386.0" stroke-width="2.2" fill="none" />
<path d="M2959.0,1396 L2964.0,1420 L2962.0,1455 L2950.0,1490 L2944.0,1530 L2934.0,1550 L2915.0,1556" stroke-width="4.3" fill="none" />
<path d="M2952.0,1398 L2880.0,1386 L2872.0,1392" stroke-width="3.8" fill="none" />
<path d="M2946.0,1416 L2943.0,1410 L2890.0,1400 L2884.0,1405 L2896.0,1464 L2886.0,1538 L2918.0,1543 L2926.0,1536Z" stroke-width="4.3" fill="none" />
<path d="M2954.0,1404 L2952.0,1460 L2938.0,1532 L2928.0,1546" stroke-width="3.3" fill="none" />
<path d="M2878.0,1392 L2886.0,1462 L2872.0,1530 L2860.0,1545" stroke-width="3.3" fill="none" />
<path d="M2872.0,1392 L2878.0,1462 L2866.0,1525" stroke-width="3.3" fill="none" />
<path d="M2860.0,1386 L2866.0,1440" stroke-width="3.3" fill="none" />
<path d="M2886.0,1538.0 L2862.0,1548.0 L2915.0,1556.0 L2918.0,1543.0" stroke-width="3.8" fill="none" />
<rect x="2890.0" y="1465.0" width="6.0" height="15.0" rx="3" stroke-width="3.3" fill="none"/>
<rect x="2845.0" y="1385.0" width="6.0" height="15.0" rx="3" stroke-width="3.3" fill="none" transform="rotate(-40 2848.0 1392.5)"/>
<path d="M2915.0,1556.0 L2900.0,1575.0 L2870.0,1582.0 L2850.0,1578.0" stroke-width="3.8" fill="none" />
<path d="M2905.0,1556.0 L2890.0,1568.0 L2862.0,1574.0" stroke-width="2.2" fill="none" />
<path d="M2895.0,1556.0 L2880.0,1562.0 L2858.0,1566.0" stroke-width="2.2" fill="none" />
<path d="M2870.0,1380.0 L2900.0,1388.0 L2940.0,1396.0" stroke-width="2.2" fill="none" />
<rect x="2954.0" y="1362.0" width="16.0" height="26.0" rx="2" stroke-width="3.8" fill="none" transform="rotate(45 2962.0 1375.0)"/>
<path d="M2956.0,1372.0 L2968.0,1378.0" stroke-width="3.3" fill="none" />
<rect x="2966.0" y="1420.0" width="16.0" height="28.0" rx="2" stroke-width="3.8" fill="none" transform="rotate(5 2974.0 1434.0)"/>
<path d="M2956.0,1469.0 L3040.0,1477.0" stroke-width="3.8" fill="none" />
<path d="M2952.0,1496.0 L3040.0,1501.0" stroke-width="3.3" fill="none" />
<path d="M2947.0,1520.0 L3040.0,1527.0" stroke-width="4.3" fill="none" />
<circle cx="2785.0" cy="1479.0" r="96" stroke-width="4.8" fill="none"/>
<path d="M2700,1430 Q2720,1385 2770,1374 M2870,1430 Q2852,1385 2802,1374" stroke-width="3.3" fill="none" />
<path d="M2572.0,1460.0 L2994.0,1460.0" stroke-width="2.2" fill="none" stroke-dasharray="60 6 6 6"/>
<path d="M2702.0,1483.0 L2870.0,1483.0" stroke-width="2.2" fill="none" stroke-dasharray="40 6 6 6"/>
<circle cx="2788.0" cy="1481.0" r="8" stroke-width="3.3" fill="none"/>
<path d="M2784,1483 L2786,1530 L2788,1542 L2790,1530 L2792,1483" stroke-width="3.3" fill="none" />
<path d="M2788.0,1488.0 L2788.0,1535.0" stroke-width="3.8" fill="none" />
<path d="M2766,1490 L2782,1498 M2764,1496 L2780,1503 M2810,1490 L2794,1498 M2812,1496 L2796,1503" stroke-width="3.3" fill="none" />
<path d="M2772.0,1525.0 L2804.0,1525.0" stroke-width="5.0" fill="none" />
<path d="M2625,1472 L2026,1507 Q2020,1509 2020,1513 Q2020,1518 2026,1519 L2284,1513 L2345,1522 L2630,1522" stroke-width="3.8" fill="none" />
<path d="M2284.0,1513.0 L2370.0,1498.0 L2625.0,1482.0" stroke-width="2.2" fill="none" />
<path d="M2345.0,1522.0 L2470.0,1508.0 L2540.0,1498.0" stroke-width="2.2" fill="none" />
<path d="M2030.0,1508.0 L2030.0,1518.0" stroke-width="2.2" fill="none" />
<path d="M2958,1469 L3550,1497 Q3556,1499 3556,1503 Q3556,1508 3550,1509 L3300,1516 L2950,1525" stroke-width="3.8" fill="none" />
<path d="M3300.0,1516.0 L3260.0,1500.0 L2958.0,1482.0" stroke-width="2.2" fill="none" />
<path d="M3546.0,1498.0 L3546.0,1508.0" stroke-width="2.2" fill="none" />
<path d="M2281.0,1472.0 L2281.0,1621.0" stroke-width="2" fill="none" stroke-dasharray="30 5 5 5"/>
<path d="M2273,1516 L2289,1516 L2290,1536 L2288,1564 L2274,1564 L2272,1536Z" stroke-width="3.3" fill="none" />
<path d="M2273,1524 L2281,1518 L2289,1524" stroke-width="2.2" fill="none" />
<path d="M2269.0,1566.0 L2277.0,1560.0" stroke-width="3.3" fill="none" />
<path d="M2293.0,1566.0 L2285.0,1560.0" stroke-width="3.3" fill="none" />
<path d="M2271.0,1568.0 L2291.0,1568.0" stroke-width="2.2" fill="none" />
<path d="M2281.0,1564.0 L2281.0,1572.0" stroke-width="2.2" fill="none" />
<rect x="2276.0" y="1496.0" width="10.0" height="12.0" rx="1" stroke-width="1" fill="#000"/>
<path d="M2529.0,1459.0 L2529.0,1590.0" stroke-width="2" fill="none" stroke-dasharray="30 5 5 5"/>
<path d="M2522,1508 L2536,1508 L2537,1530 L2534,1560 L2524,1560 L2521,1530Z" stroke-width="3.3" fill="none" />
<path d="M2522,1514 L2529,1506 L2536,1514" stroke-width="2.2" fill="none" />
<path d="M3046.0,1490.0 L3046.0,1590.0" stroke-width="2" fill="none" stroke-dasharray="30 5 5 5"/>
<path d="M3039,1504 L3053,1504 L3054,1526 L3051,1556 L3041,1556 L3038,1526Z" stroke-width="3.3" fill="none" />
<path d="M3039,1510 L3046,1502 L3053,1510" stroke-width="2.2" fill="none" />
<path d="M3290.0,1465.0 L3290.0,1615.0" stroke-width="2" fill="none" stroke-dasharray="30 5 5 5"/>
<path d="M3282,1512 L3298,1512 L3299,1532 L3297,1560 L3283,1560 L3281,1532Z" stroke-width="3.3" fill="none" />
<path d="M3282,1520 L3290,1514 L3298,1520" stroke-width="2.2" fill="none" />
<path d="M3278.0,1562.0 L3286.0,1556.0" stroke-width="3.3" fill="none" />
<path d="M3302.0,1562.0 L3294.0,1556.0" stroke-width="3.3" fill="none" />
<path d="M3280.0,1564.0 L3300.0,1564.0" stroke-width="2.2" fill="none" />
<path d="M3290.0,1560.0 L3290.0,1568.0" stroke-width="2.2" fill="none" />
<rect x="3285.0" y="1486.0" width="10.0" height="16.0" rx="1" stroke-width="1" fill="#000"/>
<path d="M3362.0,1463.0 L3362.0,1525.0" stroke-width="2" fill="none" stroke-dasharray="30 5 5 5"/>
<circle cx="3360.0" cy="1503.0" r="6" stroke-width="3.3" fill="none"/>
<circle cx="3360.0" cy="1503.0" r="2.5" stroke-width="1" fill="#000"/>
<circle cx="3386.0" cy="1486.0" r="2" stroke-width="1" fill="#000"/>
<path d="M3108,1496 L3118,1496 Q3124,1502 3118,1508 L3108,1508 M3112,1496 L3112,1508" stroke-width="3.3" fill="none" />
<circle cx="3117.0" cy="1502.0" r="2" stroke-width="1" fill="#000"/>
<path d="M3136,1496 L3146,1496 Q3152,1502 3146,1508 L3136,1508 M3140,1496 L3140,1508" stroke-width="3.3" fill="none" />
<circle cx="3145.0" cy="1502.0" r="2" stroke-width="1" fill="#000"/>
<path d="M3164,1496 L3174,1496 Q3180,1502 3174,1508 L3164,1508 M3168,1496 L3168,1508" stroke-width="3.3" fill="none" />
<circle cx="3173.0" cy="1502.0" r="2" stroke-width="1" fill="#000"/>
<path d="M2437,1498 L2427,1500 Q2421,1506 2427,1512 L2437,1510" stroke-width="3.3" fill="none" />
<path d="M2462,1498 L2452,1500 Q2446,1506 2452,1512 L2462,1510" stroke-width="3.3" fill="none" />
<path d="M2484,1498 L2474,1500 Q2468,1506 2474,1512 L2484,1510" stroke-width="3.3" fill="none" />
<circle cx="2410.0" cy="1503.0" r="4" stroke-width="3.3" fill="none"/>
<path d="M2476.0,1512.0 L2530.0,1488.0" stroke-width="2.2" fill="none" />
<circle cx="2188.0" cy="1498.0" r="2" stroke-width="1" fill="#000"/>
<circle cx="2585.0" cy="1524.0" r="2.5" stroke-width="2.2" fill="none"/>
<path d="M2397.0,1459.0 L2397.0,1797.0" stroke-width="2" fill="none" stroke-dasharray="40 5 5 5"/>
<path d="M2372,1522 L2362,1600 L2352,1632 L2360,1628 L2376,1600 L2386,1530" stroke-width="3.3" fill="none" />
<path d="M2366,1530 L2358,1600 M2380,1530 L2370,1600" stroke-width="2.2" fill="none" />
<path d="M2386,1526 L2410,1528 L2412,1560 L2406,1580 L2410,1640 L2384,1640 L2388,1580 L2384,1560 Z" stroke-width="3.3" fill="none" />
<path d="M2390,1540 L2408,1540 M2388,1560 L2410,1560 M2390,1580 L2406,1580 M2388,1600 L2408,1600 M2388,1620 L2410,1620" stroke-width="3.3" fill="none" />
<path d="M2412,1540 L2450,1526 M2412,1550 L2460,1528" stroke-width="3.3" fill="none" />
<path d="M2376,1600 L2372,1660 L2380,1700 M2384,1640 L2380,1690" stroke-width="3.3" fill="none" />
<rect x="2384.0" y="1660.0" width="29.0" height="92.0" rx="9" stroke-width="3.8" fill="none"/>
<path d="M2390.0,1664.0 L2390.0,1750.0" stroke-width="2.2" fill="none" />
<path d="M2395.0,1664.0 L2395.0,1750.0" stroke-width="2.2" fill="none" />
<path d="M2401.0,1664.0 L2401.0,1750.0" stroke-width="2.2" fill="none" />
<path d="M2407.0,1664.0 L2407.0,1750.0" stroke-width="2.2" fill="none" />
<path d="M2371.0,1754.0 L2441.0,1754.0" stroke-width="3.3" fill="none" />
<path d="M2430.6,1754.0 L2447.6,1754.0 L2456.1,1730.2 L2466.3,1791.4 L2476.5,1737.0 L2483.3,1764.2 L2490.1,1754.0 L2508.8,1754.0" stroke-width="2.2" fill="none" />
<path d="M2385.0,1684.0 L2440.0,1684.0" stroke-width="2" fill="none" stroke-dasharray="20 4 4 4"/>
<path d="M2672,1552 L2666,1580 L2652,1606 L2656,1640 L2668,1670 L2672,1674 L2668,1650 L2664,1612 L2676,1584 L2680,1556" stroke-width="3.3" fill="none" />
<path d="M2668,1580 L2658,1608 L2662,1640" stroke-width="2.2" fill="none" />
<path d="M2742,1572 L2736,1590 L2728,1600 L2730,1622 L2742,1622 L2746,1600 L2752,1580" stroke-width="3.3" fill="none" />
<path d="M2832,1572 L2838,1590 L2848,1600 L2846,1622 L2836,1622 L2830,1600 L2826,1580" stroke-width="3.3" fill="none" />
<path d="M2812,1576 L2822,1620 L2838,1610 M2760,1578 L2752,1620" stroke-width="3.3" fill="none" />
<path d="M2772.0,1578.0 L2772.0,1660.0" stroke-width="3.3" fill="none" />
<path d="M2804.0,1578.0 L2804.0,1660.0" stroke-width="3.3" fill="none" />
<path d="M2780.0,1578.0 L2782.0,1720.0" stroke-width="3.8" fill="none" />
<path d="M2796.0,1578.0 L2794.0,1720.0" stroke-width="3.8" fill="none" />
<path d="M2768.0,1590.0 L2768.0,1660.0" stroke-width="2.4" fill="none" stroke-dasharray="0.1 6" stroke-linecap="round"/>
<path d="M2808.0,1590.0 L2808.0,1660.0" stroke-width="2.4" fill="none" stroke-dasharray="0.1 6" stroke-linecap="round"/>
<path d="M2770.0,1600.0 L2806.0,1600.0" stroke-width="3.8" fill="none" />
<path d="M2770.0,1625.0 L2806.0,1625.0" stroke-width="3.8" fill="none" />
<path d="M2770.0,1650.0 L2806.0,1650.0" stroke-width="3.8" fill="none" />
<path d="M2770.0,1672.0 L2806.0,1672.0" stroke-width="3.8" fill="none" />
<path d="M2770.0,1690.0 L2806.0,1690.0" stroke-width="3.8" fill="none" />
<path d="M2770.0,1706.0 L2806.0,1706.0" stroke-width="3.8" fill="none" />
<path d="M2772,1660 L2766,1680 L2774,1700 L2780,1720 M2804,1660 L2810,1680 L2802,1700 L2796,1720" stroke-width="3.3" fill="none" />
<rect x="2771.0" y="1635.0" width="10.0" height="10.0" rx="2" stroke-width="3.3" fill="none"/>
<rect x="2795.0" y="1635.0" width="10.0" height="10.0" rx="2" stroke-width="3.3" fill="none"/>
<rect x="2771.0" y="1677.0" width="10.0" height="10.0" rx="2" stroke-width="3.3" fill="none"/>
<rect x="2795.0" y="1677.0" width="10.0" height="10.0" rx="2" stroke-width="3.3" fill="none"/>
<rect x="2783.0" y="1659.0" width="10.0" height="10.0" rx="2" stroke-width="3.3" fill="none"/>
<rect x="2783.0" y="1695.0" width="10.0" height="10.0" rx="2" stroke-width="3.3" fill="none"/>
<path d="M2780,1720 L2776,1760 L2788,1790 L2800,1760 L2796,1720" stroke-width="3.3" fill="none" />
<ellipse cx="2788.0" cy="1762.0" rx="5" ry="18" stroke-width="3.3" fill="none"/>
<rect x="2757.0" y="1731.0" width="26.0" height="97.0" rx="9" stroke-width="3.8" fill="none"/>
<rect x="2796.0" y="1731.0" width="25.0" height="97.0" rx="9" stroke-width="3.8" fill="none"/>
<path d="M2762.0,1736.0 L2762.0,1824.0" stroke-width="2.2" fill="none" />
<path d="M2767.0,1736.0 L2767.0,1824.0" stroke-width="2.2" fill="none" />
<path d="M2772.0,1736.0 L2772.0,1824.0" stroke-width="2.2" fill="none" />
<path d="M2777.0,1736.0 L2777.0,1824.0" stroke-width="2.2" fill="none" />
<path d="M2801.0,1736.0 L2801.0,1824.0" stroke-width="2.2" fill="none" />
<path d="M2806.0,1736.0 L2806.0,1824.0" stroke-width="2.2" fill="none" />
<path d="M2811.0,1736.0 L2811.0,1824.0" stroke-width="2.2" fill="none" />
<path d="M2816.0,1736.0 L2816.0,1824.0" stroke-width="2.2" fill="none" />
<path d="M2722.0,1829.0 L2858.0,1829.0" stroke-width="3.3" fill="none" />
<path d="M2850.8,1829.0 L2866.8,1829.0 L2874.8,1806.6 L2884.4,1864.2 L2894.0,1813.0 L2900.4,1838.6 L2906.8,1829.0 L2924.4,1829.0" stroke-width="2.2" fill="none" />
<path d="M2739.0,1783.0 L2838.0,1783.0" stroke-width="2" fill="none" stroke-dasharray="30 5 5 5"/>
<path d="M2787.0,1660.0 L2787.0,1848.0" stroke-width="2" fill="none" stroke-dasharray="40 5 5 5"/>
<rect x="3167.0" y="1606.0" width="28.0" height="146.0" rx="14" stroke-width="3.8" fill="none"/>
<path d="M3181.0,1564.0 L3181.0,1801.0" stroke-width="2" fill="none" stroke-dasharray="40 5 5 5"/>
<path d="M3134.0,1680.0 L3226.0,1680.0" stroke-width="2" fill="none" stroke-dasharray="30 5 5 5"/>
<path d="M3147.0,1753.0 L3208.0,1753.0" stroke-width="2.2" fill="none" />
<path d="M3626,1640 L3634,1640 L3632,1646" stroke-width="2.2" fill="none" />
<clipPath id="cl1"><path d="M2384.0,1526.0 L2414.0,1526.0 L2416.0,1660.0 L2380.0,1660.0Z"/></clipPath><g clip-path="url(#cl1)">
<circle cx="2388.8" cy="1593.3" r="3.066781300017821" stroke-width="3.8390999942589534" fill="none"/>
<rect x="2396.0" y="1647.5" width="7.8" height="5.2" rx="2" stroke-width="3.971081102768026" fill="none" transform="rotate(-20 2399.9 1650.1)"/>
<circle cx="2398.8" cy="1571.9" r="4.812248671507641" stroke-width="3.4480928011018497" fill="none"/>
<circle cx="2405.1" cy="1527.0" r="2.8986251696885086" stroke-width="3.5850395622281876" fill="none"/>
<rect x="2400.6" y="1649.9" width="7.4" height="5.0" rx="2" stroke-width="3.369719125557605" fill="none"/>
<circle cx="2407.5" cy="1529.9" r="5.847258265542074" stroke-width="3.2511828550928072" fill="none"/>
<path d="M2372.3,1536.7 L2392.1,1543.7" stroke-width="3.762469878324376" fill="none" />
<path d="M2410.9,1649.6 L2388.7,1655.9" stroke-width="3.7150557293818363" fill="none" />
<path d="M2417.5,1567.5 L2412.9,1583.6" stroke-width="3.973340951612479" fill="none" />
<circle cx="2415.6" cy="1592.4" r="4.3160736648035" stroke-width="3.4959339595320555" fill="none"/>
<rect x="2393.0" y="1596.6" width="5.3" height="3.5" rx="2" stroke-width="3.526951308091757" fill="none" transform="rotate(-20 2395.6 1598.3)"/>
<rect x="2380.0" y="1632.0" width="7.1" height="4.8" rx="2" stroke-width="3.5783056121130024" fill="none"/>
<rect x="2386.2" y="1593.1" width="11.2" height="7.4" rx="2" stroke-width="3.876769980952748" fill="none" transform="rotate(90 2391.8 1596.8)"/>
<path d="M2379.1,1622.1 L2397.1,1625.2" stroke-width="3.2917860636842695" fill="none" />
<rect x="2392.2" y="1594.7" width="9.2" height="6.1" rx="2" stroke-width="3.983829412479867" fill="none" transform="rotate(90 2396.7 1597.8)"/>
<path d="M2381.6,1625.7 L2396.6,1635.1" stroke-width="3.8958822681014285" fill="none" />
<circle cx="2390.7" cy="1643.6" r="5.080630947198038" stroke-width="3.702283929990875" fill="none"/>
<path d="M2397.3,1528.1 L2393.1,1544.7" stroke-width="3.778276009585902" fill="none" />
<rect x="2397.3" y="1581.9" width="8.1" height="5.4" rx="2" stroke-width="3.4432897963756792" fill="none" transform="rotate(90 2401.4 1584.6)"/>
<path d="M2390.0,1607.3 L2380.0,1628.7" stroke-width="3.460551235546154" fill="none" />
<rect x="2385.5" y="1575.8" width="11.9" height="7.9" rx="2" stroke-width="3.9768349522152002" fill="none" transform="rotate(20 2391.4 1579.8)"/>
<circle cx="2394.7" cy="1625.5" r="3.635523618565591" stroke-width="3.6457691521355793" fill="none"/>
<circle cx="2384.7" cy="1642.2" r="3.254297419098073" stroke-width="3.47143932681365" fill="none"/>
<path d="M2411.4,1566.3 L2403.7,1573.7" stroke-width="3.3465290392175575" fill="none" />
<rect x="2377.4" y="1651.9" width="5.5" height="3.7" rx="2" stroke-width="3.5357576426540396" fill="none" transform="rotate(-20 2380.1 1653.8)"/>
<path d="M2387.0,1629.9 L2383.2,1643.2" stroke-width="3.76437936750664" fill="none" />
</g>
<clipPath id="cl2"><path d="M2768.0,1580.0 L2808.0,1580.0 L2812.0,1725.0 L2764.0,1725.0Z"/></clipPath><g clip-path="url(#cl2)">
<path d="M2808.0,1578.3 L2813.9,1597.6" stroke-width="3.5354755689919983" fill="none" />
<circle cx="2808.1" cy="1603.1" r="5.981730634686006" stroke-width="3.471681587751984" fill="none"/>
<circle cx="2780.6" cy="1671.5" r="2.619679744574978" stroke-width="3.448465604291453" fill="none"/>
<path d="M2765.6,1598.3 L2769.1,1611.1" stroke-width="3.346926740107717" fill="none" />
<rect x="2799.5" y="1706.5" width="11.3" height="7.5" rx="2" stroke-width="3.952908523991418" fill="none" transform="rotate(90 2805.2 1710.3)"/>
<circle cx="2790.1" cy="1600.6" r="4.321539825531909" stroke-width="3.5770937087625487" fill="none"/>
<rect x="2763.5" y="1603.5" width="9.9" height="6.6" rx="2" stroke-width="3.831142923282905" fill="none" transform="rotate(20 2768.5 1606.8)"/>
<rect x="2789.5" y="1607.1" width="6.4" height="4.3" rx="2" stroke-width="3.7486604696263184" fill="none"/>
<rect x="2769.1" y="1595.8" width="6.3" height="4.2" rx="2" stroke-width="3.215692543742249" fill="none" transform="rotate(90 2772.2 1597.9)"/>
<rect x="2770.9" y="1660.8" width="5.5" height="3.7" rx="2" stroke-width="3.2521823083601182" fill="none"/>
<rect x="2765.7" y="1715.5" width="11.0" height="7.3" rx="2" stroke-width="3.837943214976203" fill="none"/>
<path d="M2812.3,1611.6 L2793.7,1617.7" stroke-width="3.8642555520363038" fill="none" />
<circle cx="2789.4" cy="1677.3" r="2.7662040617155847" stroke-width="3.69761236785455" fill="none"/>
<circle cx="2798.8" cy="1710.8" r="3.8005027727529503" stroke-width="2.563086826095246" fill="none"/>
<rect x="2783.7" y="1599.2" width="10.2" height="6.8" rx="2" stroke-width="3.648715520188639" fill="none"/>
<path d="M2766.5,1644.0 L2776.0,1648.9" stroke-width="3.5927006478433956" fill="none" />
<circle cx="2797.1" cy="1724.1" r="3.632532691702687" stroke-width="3.2874785805416336" fill="none"/>
<path d="M2813.8,1588.0 L2794.2,1595.3" stroke-width="3.335407554773438" fill="none" />
<path d="M2799.4,1600.8 L2810.0,1614.9" stroke-width="3.3851096341475158" fill="none" />
<rect x="2769.3" y="1637.0" width="5.6" height="3.7" rx="2" stroke-width="3.300500493763378" fill="none" transform="rotate(90 2772.1 1638.9)"/>
<rect x="2796.3" y="1681.6" width="7.1" height="4.7" rx="2" stroke-width="3.4283821911807264" fill="none" transform="rotate(-20 2799.9 1683.9)"/>
<rect x="2781.0" y="1576.9" width="11.8" height="7.9" rx="2" stroke-width="3.6397066259716926" fill="none"/>
<path d="M2782.7,1712.6 L2794.0,1715.0" stroke-width="3.5067948646015132" fill="none" />
<path d="M2792.6,1703.7 L2805.2,1717.3" stroke-width="2.55140580504837" fill="none" />
<circle cx="2788.9" cy="1698.5" r="3.5967160409839956" stroke-width="3.319675467819809" fill="none"/>
<circle cx="2780.5" cy="1594.8" r="4.931129897022812" stroke-width="3.84686600286878" fill="none"/>
<rect x="2784.1" y="1691.4" width="10.4" height="7.0" rx="2" stroke-width="3.3385280547988634" fill="none" transform="rotate(90 2789.3 1694.9)"/>
<circle cx="2789.0" cy="1724.9" r="5.686686652026577" stroke-width="3.9692019470774635" fill="none"/>
<circle cx="2765.2" cy="1665.5" r="4.525799119149665" stroke-width="3.3390369005722267" fill="none"/>
<rect x="2799.2" y="1693.8" width="5.1" height="3.4" rx="2" stroke-width="3.2105435073154887" fill="none" transform="rotate(20 2801.7 1695.5)"/>
<path d="M2798.7,1595.2 L2797.0,1611.1" stroke-width="3.29294491387669" fill="none" />
<path d="M2796.3,1641.7 L2776.7,1645.9" stroke-width="3.718871862623579" fill="none" />
<rect x="2805.4" y="1677.4" width="7.7" height="5.1" rx="2" stroke-width="3.2982136948844225" fill="none" transform="rotate(20 2809.3 1680.0)"/>
<rect x="2807.6" y="1621.3" width="7.1" height="4.8" rx="2" stroke-width="3.553615301632738" fill="none" transform="rotate(-20 2811.2 1623.7)"/>
</g>
<clipPath id="cl3"><path d="M2726.0,1572.0 L2760.0,1572.0 L2756.0,1625.0 L2726.0,1625.0Z"/></clipPath><g clip-path="url(#cl3)">
<path d="M2747.4,1611.9 L2746.5,1626.4" stroke-width="3.597983331515544" fill="none" />
<circle cx="2751.0" cy="1610.6" r="4.6454665424131845" stroke-width="2.5257547038638792" fill="none"/>
<circle cx="2759.9" cy="1611.6" r="3.1524950802489156" stroke-width="3.6197100031320346" fill="none"/>
<rect x="2735.2" y="1593.3" width="6.1" height="4.1" rx="2" stroke-width="2.5967389378386794" fill="none" transform="rotate(90 2738.2 1595.4)"/>
<circle cx="2743.4" cy="1593.4" r="4.853208904249323" stroke-width="3.3326016202183695" fill="none"/>
<rect x="2749.2" y="1599.0" width="6.9" height="4.6" rx="2" stroke-width="3.792601931638951" fill="none"/>
<rect x="2747.2" y="1592.7" width="9.1" height="6.1" rx="2" stroke-width="3.2618024292479966" fill="none"/>
<path d="M2763.0,1570.5 L2749.8,1582.0" stroke-width="2.566849367875413" fill="none" />
</g>
<clipPath id="cl4"><path d="M2816.0,1572.0 L2850.0,1572.0 L2850.0,1625.0 L2820.0,1625.0Z"/></clipPath><g clip-path="url(#cl4)">
<path d="M2844.2,1572.1 L2849.9,1586.5" stroke-width="3.438115741483017" fill="none" />
<path d="M2835.6,1597.3 L2826.7,1607.9" stroke-width="3.738333331680285" fill="none" />
<rect x="2814.0" y="1621.9" width="7.7" height="5.2" rx="2" stroke-width="3.518381989476701" fill="none" transform="rotate(-20 2817.9 1624.5)"/>
<rect x="2822.1" y="1591.4" width="7.7" height="5.1" rx="2" stroke-width="2.5677299484593235" fill="none" transform="rotate(90 2826.0 1594.0)"/>
<rect x="2846.9" y="1601.4" width="5.2" height="3.5" rx="2" stroke-width="3.574043987757304" fill="none"/>
<circle cx="2823.8" cy="1573.1" r="4.7310752963055105" stroke-width="3.6135313780404115" fill="none"/>
<rect x="2820.0" y="1621.1" width="8.5" height="5.7" rx="2" stroke-width="3.4128084016317786" fill="none" transform="rotate(20 2824.3 1624.0)"/>
<circle cx="2824.1" cy="1605.5" r="2.5400800192142965" stroke-width="3.439491151942949" fill="none"/>
</g>
<path d="M248,735 L121,736 Q100,739 90,746 L95,760 L99,768" stroke-width="4.8" fill="none" />
<path d="M99.0,768.0 L172.0,895.0" stroke-width="3.8" fill="none" />
<path d="M240.0,734.0 L240.0,790.0" stroke-width="2.2" fill="none" />
<path d="M240.0,810.0 L240.0,899.0" stroke-width="2.2" fill="none" />
<path d="M120.0,891.0 L172.0,891.0" stroke-width="2.2" fill="none" />
<path d="M205.0,891.0 L247.0,891.0" stroke-width="2.2" fill="none" />
<path d="M172.0,891.0 L179.0,893.0 L184.0,870.0 L187.0,916.0 L193.0,868.0 L196.0,906.0 L200.0,888.0 L206.0,891.0" stroke-width="2.2" fill="none" />
<path d="M99.0,762.0 L147.0,758.0 L152.0,766.0" stroke-width="4.3" fill="none" />
<path d="M104.0,776.0 L149.0,772.0" stroke-width="4.3" fill="none" />
<path d="M104.0,768.0 L140.0,765.0" stroke-width="3.8" fill="none" />
<path d="M108.0,771.0 L146.0,767.0" stroke-width="2.2" fill="none" stroke-dasharray="0.1 5" stroke-linecap="round"/>
<path d="M152.0,766.0 L182.0,765.0" stroke-width="3.8" fill="none" />
<path d="M182.0,766.0 L244.0,838.0" stroke-width="4.3" fill="none" />
<path d="M172.0,772.0 L238.0,846.0" stroke-width="4.3" fill="none" />
<circle cx="188.0" cy="782.0" r="2.6" stroke-width="1.5" fill="none"/>
<circle cx="196.5" cy="791.5" r="2.6" stroke-width="1.5" fill="none"/>
<circle cx="205.0" cy="801.0" r="2.6" stroke-width="1.5" fill="none"/>
<circle cx="213.5" cy="810.5" r="2.6" stroke-width="1.5" fill="none"/>
<circle cx="222.0" cy="820.0" r="2.6" stroke-width="1.5" fill="none"/>
<circle cx="230.5" cy="829.5" r="2.6" stroke-width="1.5" fill="none"/>
<circle cx="239.0" cy="839.0" r="2.6" stroke-width="1.5" fill="none"/>
<circle cx="175.0" cy="776.0" r="10" stroke-width="3.3" fill="none"/>
<circle cx="175.0" cy="776.0" r="6.5" stroke-width="2.2" fill="none" stroke-dasharray="0.1 5" stroke-linecap="round"/>
<path d="M154.0,762.0 L178.0,754.0 L251.0,776.0" stroke-width="2.2" fill="none" />
<path d="M156.0,766.0 L178.0,759.0 L240.0,778.0" stroke-width="2.2" fill="none" stroke-dasharray="0.1 6" stroke-linecap="round"/>
<path d="M162.0,780.0 L205.0,832.0" stroke-width="2.2" fill="none" />
<path d="M214.0,842.0 L251.0,884.0" stroke-width="2.2" fill="none" />
<circle cx="210.0" cy="836.0" r="1.5" stroke-width="1" fill="#000"/>
<path d="M19.0,775.0 L66.0,773.0" stroke-width="3.3" fill="none" />
<path d="M55,774 L68,764 Q80,760 92,768 L96,774 L92,780 Q80,786 68,782 Z" stroke-width="3.8" fill="none" />
<path d="M40,774 L66,768 L66,780Z" stroke-width="1" fill="#000" />
<path d="M66.0,773.0 L96.0,774.0" stroke-width="3.3" fill="none" />
<path d="M206.0,784.0 L244.0,790.0 L226.0,800.0 L262.0,802.0 L236.0,806.0 L240.0,812.0" stroke-width="2.2" fill="none" />
<text x="198" y="951" font-family="Liberation Sans, sans-serif" font-size="25" font-weight="normal" fill="#000" stroke="none" font-style="italic">6.</text>
<path d="M302.0,1037.0 L302.0,1150.0" stroke-width="2.2" fill="none" />
<path d="M296.0,1220.0 L296.0,1301.0" stroke-width="2.2" fill="none" />
<path d="M265.0,1076.0 L581.0,1075.0" stroke-width="2.2" fill="none" stroke-dasharray="150 8 8 8"/>
<path d="M331.0,1153.0 L428.0,1153.0" stroke-width="2" fill="none" stroke-dasharray="30 6 6 6"/>
<path d="M315.0,1189.0 L421.0,1189.0" stroke-width="2" fill="none" stroke-dasharray="40 6 6 6"/>
<path d="M223.0,1282.0 L575.0,1283.0" stroke-width="2.2" fill="none" stroke-dasharray="230 8 8 8"/>
<path d="M253.0,1244.0 L253.0,1311.0" stroke-width="2.2" fill="none" />
<path d="M533.0,1037.0 L533.0,1146.0" stroke-width="2.2" fill="none" />
<path d="M530.0,1243.0 L531.0,1312.0" stroke-width="2.2" fill="none" />
<path d="M268.0,1052.0 L345.0,1097.0" stroke-width="2.2" fill="none" />
<path d="M495.0,1102.0 L571.0,1050.0" stroke-width="2.2" fill="none" />
<path d="M286,1062 Q290,1058 300,1060 Q314,1058 320,1066 L326,1078 L318,1086 Q312,1094 312,1104 L314,1138 L292,1138 L292,1104 Q292,1094 288,1086 Z" stroke-width="2.5" fill="none" />
<path d="M292.0,1072.0 L314.0,1070.0" stroke-width="2.4000000000000004" fill="none" />
<path d="M292.0,1084.0 L314.0,1082.0" stroke-width="2.4000000000000004" fill="none" />
<path d="M292.0,1096.0 L314.0,1094.0" stroke-width="2.4000000000000004" fill="none" />
<path d="M292.0,1110.0 L314.0,1108.0" stroke-width="2.4000000000000004" fill="none" />
<path d="M292.0,1124.0 L314.0,1122.0" stroke-width="2.4000000000000004" fill="none" />
<ellipse cx="296.0" cy="1070.0" rx="5" ry="7" stroke-width="3.3" fill="none" transform="rotate(20 296 1070)"/>
<circle cx="322.0" cy="1078.0" r="4" stroke-width="2.4000000000000004" fill="none"/>
<path d="M283.0,1108.0 L294.0,1120.0" stroke-width="6.5" fill="none" />
<rect x="290.0" y="1138.0" width="25.0" height="38.0" rx="2" stroke-width="3.8" fill="none"/>
<path d="M302.0,1138.0 L302.0,1176.0" stroke-width="2.2" fill="none" />
<path d="M290.0,1158.0 L315.0,1158.0" stroke-width="2.2" fill="none" />
<rect x="290.0" y="1172.0" width="26.0" height="10.0" rx="1" stroke-width="1" fill="#000"/>
<path d="M296.0,1182.0 L296.0,1210.0" stroke-width="3.4000000000000004" fill="none" />
<path d="M308.0,1182.0 L308.0,1210.0" stroke-width="3.4000000000000004" fill="none" />
<path d="M302.0,1182.0 L302.0,1210.0" stroke-width="2.2" fill="none" />
<rect x="290.0" y="1206.0" width="22.0" height="20.0" rx="3" stroke-width="1" fill="#000"/>
<path d="M293,1228 L326,1239 L295,1260 L266,1281 L258,1268 L264,1254 L276,1250 L282,1240 Z" stroke-width="2.5" fill="none" />
<path d="M318,1140 L331,1151 L340,1186 L328,1237 L312,1222 L318,1190 L312,1160Z" stroke-width="2.5" fill="none" />
<path d="M318.0,1160.0 L336.0,1170.0" stroke-width="2.4000000000000004" fill="none" />
<path d="M316.0,1190.0 L338.0,1192.0" stroke-width="2.4000000000000004" fill="none" />
<path d="M314.0,1208.0 L332.0,1222.0" stroke-width="2.4000000000000004" fill="none" />
<path d="M300.0,1228.0 L310.0,1250.0" stroke-width="2.4000000000000004" fill="none" />
<circle cx="253.0" cy="1281.0" r="6" stroke-width="2.5" fill="none"/>
<circle cx="253.0" cy="1281.0" r="10" stroke-width="2.4000000000000004" fill="none"/>
<path d="M240,1272 L244,1264 L252,1268 L260,1262 L266,1272 L270,1282 L264,1292 L256,1296 L246,1298 L240,1290 L238,1282Z" stroke-width="2.4000000000000004" fill="none" />
<path d="M284,1176 L290,1172 L290,1184Z" stroke-width="1" fill="#000" />
<path d="M376,1146 L376,1160 L386,1176 L388,1186 L382,1192 L382,1200 L386,1206 L380,1228" stroke-width="2.5" fill="none" />
<path d="M408,1146 L408,1160 L398,1176 L396,1186 L402,1192 L402,1200 L398,1206 L402,1228" stroke-width="2.5" fill="none" />
<path d="M376,1146 L384,1146 L384,1152 L400,1152 L400,1146 L408,1146" stroke-width="2.5" fill="none" />
<path d="M386,1162 L398,1162 L394,1174 L390,1174Z" stroke-width="2.4000000000000004" fill="none" />
<path d="M388,1206 L390,1224 M396,1206 L394,1224" stroke-width="2.4000000000000004" fill="none" />
<rect x="386.0" y="1186.0" width="12.0" height="8.0" rx="2" stroke-width="3.3" fill="none"/>
<path d="M520,1070 Q522,1060 534,1058 Q548,1056 549,1068 L546,1080 L548,1130 L522,1132 L524,1100 Q518,1086 520,1070Z" stroke-width="2.5" fill="none" />
<path d="M522.0,1080.0 L546.0,1068.0" stroke-width="2.4000000000000004" fill="none" />
<path d="M524.0,1094.0 L546.0,1086.0" stroke-width="2.4000000000000004" fill="none" />
<path d="M526.0,1106.0 L546.0,1104.0" stroke-width="2.4000000000000004" fill="none" />
<path d="M534,1060 Q540,1070 540,1082" stroke-width="2.4000000000000004" fill="none" />
<path d="M517.0,1102.0 L530.0,1120.0" stroke-width="6.5" fill="none" />
<rect x="522.0" y="1136.0" width="25.0" height="48.0" rx="3" stroke-width="3.8" fill="none"/>
<path d="M526.0,1146.0 L544.0,1146.0" stroke-width="2.4000000000000004" fill="none" />
<path d="M522.0,1172.0 L547.0,1172.0" stroke-width="2.4000000000000004" fill="none" />
<path d="M524,1166 L518,1176 L524,1184" stroke-width="2.5" fill="none" />
<path d="M530.0,1184.0 L528.0,1212.0" stroke-width="3.4000000000000004" fill="none" />
<path d="M540.0,1184.0 L542.0,1212.0" stroke-width="3.4000000000000004" fill="none" />
<path d="M540,1190 L550,1206 L548,1222 L540,1226" stroke-width="2.4000000000000004" fill="none" />
<circle cx="533.0" cy="1218.0" r="9" stroke-width="2.5" fill="none"/>
<circle cx="533.0" cy="1218.0" r="4" stroke-width="2.4000000000000004" fill="none"/>
<path d="M510,1212 L524,1210 L524,1224 L546,1226 L546,1236 Q540,1244 530,1244 Q522,1256 520,1270 Q520,1280 530,1282" stroke-width="2.5" fill="none" />
<path d="M510,1214 Q504,1250 508,1290 Q512,1298 518,1290 Q522,1260 530,1236" stroke-width="3.4000000000000004" fill="none" />
<path d="M514,1222 Q510,1254 513,1286" stroke-width="2.4000000000000004" fill="none" />
<path d="M528.0,1283.0 L553.0,1283.0" stroke-width="5.5" fill="none" />
<rect x="550.0" y="1278.0" width="5.0" height="10.0" rx="1" stroke-width="1" fill="#000"/>
<text x="568" y="1359" font-family="Liberation Sans, sans-serif" font-size="23" font-weight="normal" fill="#000" stroke="none" >8.</text>
<path d="M2233.0,2468.0 L2340.0,2468.0" stroke-width="3.3" fill="none" />
<path d="M2370.0,2469.0 L2609.0,2472.0" stroke-width="3.3" fill="none" />
<path d="M2340.0,2468.0 L2344.0,2466.0 L2349.0,2442.0 L2358.0,2498.0 L2364.0,2456.0 L2368.0,2470.0 L2372.0,2469.0" stroke-width="2.2" fill="none" />
<path d="M2236.0,2459.0 L2236.0,2546.0" stroke-width="3.3" fill="none" />
<path d="M2236.0,2572.0 L2236.0,2630.0" stroke-width="3.3" fill="none" />
<path d="M2236.0,2546.0 L2224.0,2552.0 L2248.0,2562.0 L2214.0,2566.0 L2238.0,2572.0" stroke-width="2.2" fill="none" />
<path d="M2605.0,2465.0 L2604.0,2526.0" stroke-width="3.3" fill="none" />
<path d="M2602.0,2556.0 L2601.0,2633.0" stroke-width="3.3" fill="none" />
<path d="M2604.0,2526.0 L2560.0,2536.0 L2630.0,2542.0 L2598.0,2552.0 L2604.0,2556.0" stroke-width="2.2" fill="none" />
<path d="M2229.0,2607.0 L2340.0,2607.0" stroke-width="3.3" fill="none" />
<path d="M2340.0,2607.0 L2540.0,2606.0" stroke-width="2" fill="none" stroke-dasharray="40 6 6 6"/>
<path d="M2540.0,2610.0 L2602.0,2602.0" stroke-width="3.3" fill="none" />
<path d="M2250,2609 L2250,2522 Q2251,2518 2256,2518 L2481,2495 Q2500,2496 2510,2504 Q2528,2518 2536,2536 Q2541,2548 2540,2560 L2540,2610" stroke-width="5.0" fill="none" />
<path d="M2312.0,2585.0 L2537.0,2583.0" stroke-width="3.8" fill="none" />
<path d="M2278.0,2597.0 L2537.0,2594.0" stroke-width="3.8" fill="none" />
<path d="M2360,2612 L2420,2616 L2470,2620 L2510,2614 L2560,2606" stroke-width="2.2" fill="none" />
<path d="M2256.0,2521.4 L2256.0,2597.0" stroke-width="3.3" fill="none" />
<path d="M2279.0,2519.1 L2279.0,2597.0" stroke-width="3.8" fill="none" />
<path d="M2285.0,2518.5 L2285.0,2597.0" stroke-width="3.3" fill="none" />
<path d="M2313.0,2515.7 L2313.0,2583.0" stroke-width="4.3" fill="none" />
<path d="M2379.0,2509.1 L2379.0,2583.0" stroke-width="4.3" fill="none" />
<path d="M2412.0,2505.8 L2412.0,2583.0" stroke-width="3.8" fill="none" />
<path d="M2418.0,2505.2 L2418.0,2583.0" stroke-width="3.3" fill="none" />
<path d="M2426.0,2504.4 L2426.0,2583.0" stroke-width="3.3" fill="none" />
<path d="M2433.0,2503.7 L2433.0,2583.0" stroke-width="3.3" fill="none" />
<path d="M2442.0,2502.8 L2442.0,2583.0" stroke-width="3.3" fill="none" />
<path d="M2449.0,2502.1 L2449.0,2583.0" stroke-width="3.3" fill="none" />
<path d="M2471.0,2499.9 L2471.0,2583.0" stroke-width="3.8" fill="none" />
<path d="M2387.0,2520.0 L2387.0,2582.0" stroke-width="3" fill="none" stroke-dasharray="0.1 6" stroke-linecap="round"/>
<path d="M2466.0,2506.0 L2466.0,2582.0" stroke-width="2.4" fill="none" stroke-dasharray="0.1 6" stroke-linecap="round"/>
<path d="M2430.0,2530.0 L2430.0,2575.0" stroke-width="2.2" fill="none" stroke-dasharray="0.1 7" stroke-linecap="round"/>
<path d="M2446.0,2530.0 L2446.0,2575.0" stroke-width="2.2" fill="none" stroke-dasharray="0.1 7" stroke-linecap="round"/>
<path d="M2285.0,2536.0 L2313.0,2536.0" stroke-width="3.8" fill="none" />
<path d="M2285.0,2560.0 L2313.0,2560.0" stroke-width="3.8" fill="none" />
<path d="M2256,2575 Q2262,2590 2268,2588 M2279,2560 Q2270,2580 2268,2588 M2285,2572 L2300,2590 L2313,2584" stroke-width="3.3" fill="none" />
<path d="M2331,2517 L2378,2515 L2377,2577 Z" stroke-width="3.8" fill="none" />
<path d="M2340,2522 L2372,2520 L2372,2562Z" stroke-width="2.2" fill="none" />
<circle cx="2353.0" cy="2532.0" r="6" stroke-width="3.3" fill="none"/>
<circle cx="2353.0" cy="2532.0" r="3" stroke-width="2.2" fill="none"/>
<ellipse cx="2343.0" cy="2523.0" rx="5" ry="3" stroke-width="2.2" fill="none"/>
<ellipse cx="2362.0" cy="2522.0" rx="5" ry="3" stroke-width="2.2" fill="none"/>
<ellipse cx="2368.0" cy="2531.0" rx="4" ry="3" stroke-width="2.2" fill="none"/>
<circle cx="2268.0" cy="2598.0" r="9" stroke-width="3.8" fill="none"/>
<circle cx="2268.0" cy="2598.0" r="5" stroke-width="3.3" fill="none"/>
<circle cx="2268.0" cy="2598.0" r="2" stroke-width="1" fill="#000"/>
<path d="M2268.0,2586.0 L2268.0,2612.0" stroke-width="2.2" fill="none" />
<path d="M2473.0,2539.0 L2538.0,2539.0" stroke-width="4.3" fill="none" />
<rect x="2489.0" y="2547.0" width="8.0" height="27.0" rx="4" stroke-width="3.8" fill="none"/>
<rect x="2504.0" y="2547.0" width="8.0" height="27.0" rx="4" stroke-width="3.8" fill="none"/>
<rect x="2518.0" y="2547.0" width="8.0" height="27.0" rx="4" stroke-width="3.8" fill="none"/>
<rect x="2398.0" y="2524.0" width="6.0" height="16.0" rx="3" stroke-width="3.3" fill="none"/>
<path d="M2392.0,2540.0 L2412.0,2540.0" stroke-width="3.8" fill="none" />
<text transform="translate(2237.3,2782.0) scale(0.973,1)" font-family="Liberation Sans, sans-serif" font-size="54.5" font-weight="bold" fill="#000" stroke="none">N</text>
<circle cx="2291.0" cy="2764.0" r="4" stroke-width="1" fill="#000"/>
<text transform="translate(2302.3,2782.0) scale(0.973,1)" font-family="Liberation Sans, sans-serif" font-size="54.5" font-weight="bold" fill="#000" stroke="none">N</text>
<path d="M2372.0,2735.0 L2466.0,2736.0" stroke-width="3.3" fill="none" />
<path d="M2505.0,2736.0 L2594.0,2737.0" stroke-width="3.3" fill="none" />
<path d="M2466.0,2736.0 L2474.0,2718.0 L2484.0,2760.0 L2494.0,2720.0 L2500.0,2740.0 L2505.0,2736.0" stroke-width="2.2" fill="none" />
<path d="M2391.0,2720.0 L2391.0,2740.0" stroke-width="2.4000000000000004" fill="none" />
<path d="M2391.0,2760.0 L2393.0,2847.0" stroke-width="2.4000000000000004" fill="none" />
<path d="M2391.0,2740.0 L2380.0,2744.0 L2408.0,2752.0 L2370.0,2756.0 L2391.0,2760.0" stroke-width="2.2" fill="none" />
<path d="M2451.0,2722.0 L2451.0,2831.0" stroke-width="2" fill="none" stroke-dasharray="30 5 5 5"/>
<path d="M2400,2822 L2393,2816 M2400,2822 L2406,2765 L2501,2764 L2510,2828" stroke-width="5.5" fill="none" />
<path d="M2398.0,2776.0 L2517.0,2776.0" stroke-width="2.4000000000000004" fill="none" />
<path d="M2410.0,2770.0 L2498.0,2770.0" stroke-width="3.8" fill="none" />
<path d="M2412.0,2782.0 L2440.0,2782.0" stroke-width="3.3" fill="none" />
<path d="M2460.0,2782.0 L2490.0,2782.0" stroke-width="3.3" fill="none" />
<path d="M2408,2776 L2412,2790 L2408,2796 M2494,2776 L2490,2790" stroke-width="3.3" fill="none" />
<path d="M2447,2780 L2447,2788 L2444,2796 L2451,2806 L2458,2796 L2455,2788 L2455,2780" stroke-width="3.3" fill="none" />
<path d="M2550,2737 Q2552,2770 2536,2796 Q2524,2814 2508,2826" stroke-width="4.8" fill="none" />
<path d="M2486,2782 L2494,2800 L2502,2826 M2492,2780 L2500,2800 L2506,2822" stroke-width="3.8" fill="none" />
<path d="M2484,2806 Q2476,2816 2476,2830 L2480,2836 L2496,2832 L2490,2816Z" stroke-width="3.8" fill="none" />
<path d="M2478,2826 L2492,2828 M2482,2812 L2494,2822" stroke-width="3.3" fill="none" />
<path d="M2484,2838 L2494,2860 L2502,2874 L2520,2872 L2524,2856 L2512,2838 L2504,2838" stroke-width="3.8" fill="none" />
<path d="M2504,2838 L2506,2860 L2502,2874 M2494,2862 L2506,2860" stroke-width="3.3" fill="none" />
<path d="M3096.0,2381.0 L3097.0,2432.0" stroke-width="6.5" fill="none" />
<text transform="translate(3107.8,2416.0) scale(0.806,1)" font-family="Liberation Sans, sans-serif" font-size="57.3" font-weight="bold" fill="#000" stroke="none">N</text>
<path d="M3089.0,2689.0 L3090.0,2744.0" stroke-width="6.5" fill="none" />
<text transform="translate(3098.4,2746.0) scale(0.941,1)" font-family="Liberation Sans, sans-serif" font-size="54.5" font-weight="bold" fill="#000" stroke="none">N</text>
<path d="M2816.0,2462.0 L2970.0,2463.0" stroke-width="3.3" fill="none" />
<path d="M3008.0,2465.0 L3112.0,2466.0" stroke-width="3.3" fill="none" />
<path d="M3160.0,2468.0 L3286.0,2472.0" stroke-width="3.3" fill="none" />
<path d="M2970.0,2463.0 L2978.0,2448.0 L2986.0,2482.0 L2996.0,2450.0 L3002.0,2468.0 L3008.0,2465.0" stroke-width="2.2" fill="none" />
<path d="M3112.0,2466.0 L3122.0,2446.0 L3132.0,2500.0 L3146.0,2450.0 L3154.0,2474.0 L3160.0,2468.0" stroke-width="2.2" fill="none" />
<path d="M2837.0,2482.0 L3290.0,2487.0" stroke-width="3.8" fill="none" />
<path d="M2838.0,2451.0 L2838.0,2574.0" stroke-width="3.3" fill="none" />
<path d="M2834.0,2590.0 L2834.0,2648.0" stroke-width="3.3" fill="none" />
<path d="M2838.0,2574.0 L2855.0,2578.0 L2802.0,2592.0 L2834.0,2590.0" stroke-width="2.2" fill="none" />
<path d="M2802.0,2608.0 L2900.0,2609.0" stroke-width="3.3" fill="none" />
<path d="M3259.0,2468.0 L3259.0,2543.0" stroke-width="3.3" fill="none" />
<path d="M3256.0,2566.0 L3253.0,2641.0" stroke-width="3.3" fill="none" />
<path d="M3259.0,2543.0 L3235.0,2546.0 L3274.0,2554.0 L3230.0,2560.0 L3256.0,2566.0" stroke-width="2.2" fill="none" />
<path d="M3190.0,2612.0 L3325.0,2611.0" stroke-width="3.3" fill="none" />
<path d="M3186.0,2620.0 L3259.0,2611.0" stroke-width="2" fill="none" stroke-dasharray="10 4 3 4"/>
<path d="M2901.0,2609.0 L2901.0,2528.0 L3067.0,2515.0 L3145.0,2507.0 L3160.0,2512.0 L3176.0,2528.0 L3188.0,2559.0 L3189.0,2606.0" stroke-width="2.2" fill="none" stroke-dasharray="14 5 3 5"/>
<path d="M2964.0,2595.0 L3186.0,2593.0" stroke-width="2.2" fill="none" stroke-dasharray="14 5 3 5"/>
<path d="M2964.0,2640.0 L3186.0,2642.0" stroke-width="2.5" fill="none" stroke-dasharray="14 5 3 5"/>
<path d="M2964.0,2595.0 L2964.0,2640.0" stroke-width="3.3" fill="none" />
<path d="M3186.0,2593.0 L3186.0,2642.0" stroke-width="3.3" fill="none" />
<ellipse cx="2998" cy="2618" rx="16" ry="10" stroke-width="2" fill="none" stroke-dasharray="8 4"/>
<ellipse cx="3046" cy="2618" rx="16" ry="10" stroke-width="2" fill="none" stroke-dasharray="8 4"/>
<ellipse cx="3145" cy="2618" rx="30" ry="14" stroke-width="2" fill="none" stroke-dasharray="8 4"/>
<path d="M3004.0,2528.0 L3004.0,2584.0 L3045.0,2584.0 L3045.0,2520.0" stroke-width="2" fill="none" stroke-dasharray="10 4"/>
<path d="M3120.0,2512.0 L3120.0,2584.0 L3045.0,2584.0" stroke-width="2" fill="none" stroke-dasharray="10 4"/>
<path d="M2968.0,2502.0 L2968.0,2526.0" stroke-width="2.2" fill="none" />
<path d="M3006.0,2502.0 L3006.0,2526.0" stroke-width="2.2" fill="none" />
<path d="M3046.0,2502.0 L3046.0,2526.0" stroke-width="2.2" fill="none" />
<path d="M3081.0,2502.0 L3081.0,2526.0" stroke-width="2.2" fill="none" />
<path d="M3007,2537 L2926,2565 L2912,2590 M3003,2529 L2922,2556 L2906,2584" stroke-width="3.8" fill="none" />
<path d="M2984.0,2538.0 L2990.0,2550.0" stroke-width="3.3" fill="none" />
<path d="M2928.0,2562.0 L2936.0,2574.0" stroke-width="3.3" fill="none" />
<path d="M3007,2540 L2932,2653 M3013,2542 L2940,2655" stroke-width="3.8" fill="none" />
<circle cx="3008.0" cy="2536.0" r="5" stroke-width="1" fill="#000"/>
<path d="M2901.0,2578.0 L2898.0,2784.0" stroke-width="3.8" fill="none" />
<path d="M2918.0,2578.0 L2916.0,2784.0" stroke-width="3.8" fill="none" />
<path d="M2899.0,2600.0 L2917.0,2600.0" stroke-width="3.3" fill="none" />
<path d="M2899.0,2618.0 L2917.0,2618.0" stroke-width="3.3" fill="none" />
<path d="M2899.0,2636.0 L2917.0,2636.0" stroke-width="3.3" fill="none" />
<path d="M2899.0,2654.0 L2917.0,2654.0" stroke-width="3.3" fill="none" />
<path d="M2899.0,2672.0 L2917.0,2672.0" stroke-width="3.3" fill="none" />
<path d="M2899.0,2700.0 L2917.0,2700.0" stroke-width="3.3" fill="none" />
<path d="M2899.0,2720.0 L2917.0,2720.0" stroke-width="3.3" fill="none" />
<path d="M2899.0,2740.0 L2917.0,2740.0" stroke-width="3.3" fill="none" />
<path d="M2899.0,2760.0 L2917.0,2760.0" stroke-width="3.3" fill="none" />
<ellipse cx="2910.0" cy="2590.0" rx="9" ry="12" stroke-width="3.3" fill="none"/>
<path d="M2918,2596 L2950,2620 L2940,2655 M2918,2610 L2944,2630" stroke-width="3.3" fill="none" />
<path d="M2895,2606 L2874,2668 L2879,2671 L2907,2622" stroke-width="3.3" fill="none" />
<path d="M2890.0,2620.0 L2878.0,2660.0" stroke-width="2.2" fill="none" />
<path d="M2932,2653 L2918,2660 M2940,2655 L2930,2668 L2918,2668" stroke-width="3.3" fill="none" />
<rect x="2876.0" y="2678.0" width="56.0" height="10.0" rx="3" stroke-width="3.3" fill="none"/>
<rect x="2878.0" y="2692.0" width="47.0" height="11.0" rx="3" stroke-width="3.8" fill="none"/>
<circle cx="2928.0" cy="2678.0" r="5" stroke-width="3.3" fill="none"/>
<circle cx="2886.0" cy="2697.0" r="3" stroke-width="2.2" fill="none"/>
<circle cx="2896.0" cy="2697.0" r="3" stroke-width="2.2" fill="none"/>
<circle cx="2906.0" cy="2697.0" r="3" stroke-width="2.2" fill="none"/>
<path d="M2862.0,2692.0 L2940.0,2694.0" stroke-width="2.2" fill="none" />
<path d="M2918,2704 L2932,2712 L2940,2740 L2928,2770 L2916,2784" stroke-width="3.8" fill="none" />
<path d="M2898,2750 L2916,2744 L2936,2742 M2898,2762 Q2904,2780 2916,2784" stroke-width="3.8" fill="none" />
<circle cx="2918.0" cy="2712.0" r="3.5" stroke-width="3.3" fill="none"/>
<circle cx="2926.0" cy="2742.0" r="4" stroke-width="3.3" fill="none"/>
<path d="M2900.0,2714.0 L2944.0,2716.0" stroke-width="2.2" fill="none" />
<path d="M2920.0,2744.0 L2950.0,2745.0" stroke-width="2.2" fill="none" />
<path d="M2898,2776 L2862,2795 M2912,2786 L2868,2810" stroke-width="3.8" fill="none" />
<circle cx="2862.0" cy="2803.0" r="8" stroke-width="4.3" fill="none"/>
<circle cx="2862.0" cy="2803.0" r="3" stroke-width="1" fill="#000"/>
<path d="M2865.0,2769.0 L2865.0,2831.0" stroke-width="2.2" fill="none" />
<path d="M2909.0,2772.0 L2909.0,2826.0" stroke-width="2.2" fill="none" />
<path d="M2845.0,2805.0 L2936.0,2808.0" stroke-width="2" fill="none" stroke-dasharray="40 5 5 5"/>
<circle cx="3046.0" cy="2526.0" r="6" stroke-width="3.8" fill="none"/>
<path d="M3046,2520 L3068,2524 L3082,2540 L3079,2546 L3050,2532" stroke-width="3.8" fill="none" />
<path d="M3081.0,2543.0 L3081.0,2631.0" stroke-width="4.8" fill="none" />
<rect x="3073.0" y="2562.0" width="20.0" height="12.0" rx="1" stroke-width="1" fill="#000"/>
<path d="M3070.0,2584.0 L3092.0,2584.0" stroke-width="3.3" fill="none" />
<path d="M3074,2628 L3081,2622 L3088,2628 L3081,2640Z" stroke-width="1" fill="#000" />
<path d="M3066.0,2631.0 L3096.0,2631.0" stroke-width="2.2" fill="none" />
<path d="M3023,2573 L3026,2567.0 L3029,2570.8 L3032,2562.6 L3035,2566.4 L3038,2558.2 L3041,2562.0 L3044,2553.8 L3047,2557.6 L3050,2549.4 L3053,2553.2 " stroke-width="2.2" fill="none" />
<path d="M3010.0,2545.0 L3010.0,2580.0" stroke-width="2.2" fill="none" />
<path d="M3002.0,2575.0 L3022.0,2575.0" stroke-width="2.2" fill="none" />
<rect x="3176.0" y="2581.0" width="10.0" height="31.0" rx="1" stroke-width="3.8" fill="none"/>
<path d="M3180.0,2586.0 L3180.0,2608.0" stroke-width="3.3" fill="none" />
<path d="M2810.0,2400.0 L2992.0,2528.0" stroke-width="2" fill="none" stroke-dasharray="40 6 6 6"/>
<path d="M2727.0,2452.0 L2876.0,2557.0" stroke-width="2" fill="none" stroke-dasharray="40 6 6 6"/>
<path d="M2676.0,2478.0 L2826.0,2584.0" stroke-width="2" fill="none" stroke-dasharray="40 6 6 6"/>
<path d="M2700.0,2434.0 L2760.0,2480.0" stroke-width="2" fill="none" stroke-dasharray="40 6 6 6"/>
<path d="M2826.0,2584.0 L2900.0,2650.0" stroke-width="2.2" fill="none" />
<path d="M2940.0,2480.0 L2992.0,2528.0" stroke-width="2.2" fill="none" />
<path d="M2750.0,2358.0 L2808.0,2397.0" stroke-width="7.5" fill="none" />
<path d="M2752,2360 L2726,2440 L2722,2448 L2734,2442 L2800,2398" stroke-width="4.3" fill="none" />
<path d="M2758,2372 L2734,2434 L2790,2400 Z" stroke-width="3.3" fill="none" />
<path d="M2762,2382 L2746,2420 L2780,2400Z" stroke-width="2.2" fill="none" />
<path d="M2772.0,2385.0 L2740.0,2430.0" stroke-width="2" fill="none" stroke-dasharray="14 4 3 4"/>
<path d="M2722.0,2449.0 L2694.0,2493.0" stroke-width="7.5" fill="none" />
<path d="M2694.0,2493.0 L2688.0,2502.0" stroke-width="3.3" fill="none" />
<path d="M2700.0,2432.0 L2738.0,2462.0" stroke-width="2.2" fill="none" />
<path d="M2674.0,2478.0 L2704.0,2500.0" stroke-width="2.2" fill="none" />
<path d="M2785.0,2362.0 L2792.0,2374.0" stroke-width="2.2" fill="none" />
<text x="3019" y="2824" font-family="Liberation Sans, sans-serif" font-size="23" font-weight="normal" fill="#000" stroke="none" >9.</text>
<path d="M2846.0,911.0 L2847.0,1169.0" stroke-width="2.4000000000000004" fill="none" />
<path d="M3792.0,902.0 L3792.0,1152.0" stroke-width="2.4000000000000004" fill="none" />
<path d="M2841.0,968.0 L3018.0,968.0" stroke-width="2.4000000000000004" fill="none" />
<path d="M3048.0,968.0 L3478.0,968.0" stroke-width="2.4000000000000004" fill="none" />
<path d="M3516.0,968.0 L3795.0,968.0" stroke-width="2.4000000000000004" fill="none" />
<path d="M3018.0,968.0 L3022.0,966.0 L3030.0,940.0 L3032.0,992.0 L3042.0,950.0 L3046.0,970.0 L3048.0,968.0" stroke-width="2.2" fill="none" />
<path d="M3478.0,968.0 L3490.0,940.0 L3496.0,1000.0 L3506.0,950.0 L3512.0,972.0 L3516.0,968.0" stroke-width="2.2" fill="none" />
<path d="M2850.0,1146.0 L3400.0,1143.0 L3792.0,1141.0" stroke-width="3.4000000000000004" fill="none" />
<path d="M2855.0,1139.0 L3340.0,1137.0" stroke-width="2.4000000000000004" fill="none" />
<path d="M2902.0,967.0 L2896.0,1110.0" stroke-width="2.4000000000000004" fill="none" />
<path d="M2908.0,967.0 L2906.0,1080.0" stroke-width="2.4000000000000004" fill="none" />
<path d="M2953.0,969.0 L2945.0,1080.0" stroke-width="2.5" fill="none" />
<path d="M3086.0,968.0 L3083.0,1100.0" stroke-width="2.5" fill="none" />
<path d="M3125.0,972.0 L3125.0,1099.0" stroke-width="3.4000000000000004" fill="none" />
<path d="M3235.0,972.0 L3235.0,1099.0" stroke-width="3.4000000000000004" fill="none" />
<path d="M3208.0,972.0 L3208.0,1099.0" stroke-width="2.4000000000000004" fill="none" />
<path d="M3169,972 Q3165,978.0 3169,984.5 Q3173,990.5 3169,997.0 Q3165,1003.0 3169,1009.5 Q3173,1015.5 3169,1022.0 Q3165,1028.0 3169,1034.5 Q3173,1040.5 3169,1047.0 Q3165,1053.0 3169,1059.5 Q3173,1065.5 3169,1072.0 Q3165,1078.0 3169,1084.5 Q3173,1090.5 3169,1097.0 " stroke-width="3.8" fill="none" />
<path d="M3163.0,972.0 L3163.0,1099.0" stroke-width="2.2" fill="none" />
<path d="M3125.0,1099.0 L3235.0,1099.0" stroke-width="3.8" fill="none" />
<path d="M3432.0,968.0 L3432.0,1115.0" stroke-width="2.4000000000000004" fill="none" />
<path d="M3669.0,968.0 L3669.0,1120.0" stroke-width="2.4000000000000004" fill="none" />
<path d="M3710.0,968.0 L3700.0,1141.0" stroke-width="2.4000000000000004" fill="none" />
<path d="M3704.0,975.0 L3695.0,1135.0" stroke-width="2.4" fill="none" stroke-dasharray="0.1 9" stroke-linecap="round"/>
<path d="M2841.0,1019.0 L2960.0,1019.0" stroke-width="3.3" fill="none" />
<path d="M2960.0,1019.0 L3862.0,1018.0" stroke-width="2" fill="none" stroke-dasharray="40 6 20 6 6 6"/>
<path d="M3371.0,1016.0 L3870.0,1051.0" stroke-width="2.2" fill="none" />
<path d="M2848,981 L2870,981 Q2876,983 2876,990 L2876,1055 Q2874,1062 2864,1064 L2849,1067 M2848,981 L2848,990 L2866,996 L2848,1003" stroke-width="3.8" fill="none" />
<circle cx="2869.0" cy="1006.0" r="2" stroke-width="1" fill="#000"/>
<circle cx="2869.0" cy="1034.0" r="2" stroke-width="1" fill="#000"/>
<circle cx="2869.0" cy="1056.0" r="2" stroke-width="1" fill="#000"/>
<circle cx="2865.0" cy="1084.0" r="11" stroke-width="3.8" fill="none"/>
<circle cx="2865.0" cy="1084.0" r="2" stroke-width="1" fill="#000"/>
<path d="M2848.0,1110.0 L2896.0,1106.0" stroke-width="3.3" fill="none" />
<path d="M2899.0,1081.0 L3082.0,1083.0" stroke-width="3.3" fill="none" />
<path d="M2899.0,1108.0 L3082.0,1108.0" stroke-width="3.3" fill="none" />
<path d="M2903.0,1086.0 L3080.0,1087.0" stroke-width="2" fill="none" stroke-dasharray="0.1 6" stroke-linecap="round"/>
<path d="M2903.0,1091.5 L3080.0,1092.5" stroke-width="2" fill="none" stroke-dasharray="0.1 6" stroke-linecap="round"/>
<path d="M2903.0,1097.0 L3080.0,1098.0" stroke-width="2" fill="none" stroke-dasharray="0.1 6" stroke-linecap="round"/>
<path d="M2903.0,1102.5 L3080.0,1103.5" stroke-width="2" fill="none" stroke-dasharray="0.1 6" stroke-linecap="round"/>
<rect x="2902.0" y="1096.0" width="90.0" height="14.0" rx="6" stroke-width="4.3" fill="none"/>
<path d="M2908.0,1103.0 L2985.0,1101.0" stroke-width="3.8" fill="none" />
<path d="M2991,1096 L3026,1095 L3044,1120 L3044,1138 L3016,1138 L2991,1103" stroke-width="3.8" fill="none" />
<path d="M3044,1120 L3070,1118 Q3086,1122 3088,1130 Q3082,1138 3070,1138 L3044,1138" stroke-width="3.8" fill="none" />
<path d="M3050.0,1120.0 L3050.0,1138.0" stroke-width="3.3" fill="none" />
<rect x="3257.0" y="1060.0" width="70.0" height="39.0" rx="8" stroke-width="3.3" fill="none" transform="rotate(-3 3292.0 1079.5)"/>
<rect x="3262.0" y="1065.0" width="60.0" height="29.0" rx="3" stroke-width="2.4" fill="none" stroke-dasharray="0.1 7" stroke-linecap="round" transform="rotate(-3 3292.0 1079.5)"/>
<rect x="3346.0" y="1051.0" width="82.0" height="48.0" rx="8" stroke-width="3.3" fill="none" transform="rotate(-2 3387.0 1075.0)"/>
<rect x="3351.0" y="1056.0" width="72.0" height="38.0" rx="3" stroke-width="2.4" fill="none" stroke-dasharray="0.1 7" stroke-linecap="round" transform="rotate(-2 3387.0 1075.0)"/>
<rect x="3494.0" y="1047.0" width="56.0" height="65.0" rx="8" stroke-width="3.3" fill="none"/>
<rect x="3499.0" y="1052.0" width="46.0" height="55.0" rx="3" stroke-width="2.4" fill="none" stroke-dasharray="0.1 10" stroke-linecap="round"/>
<rect x="3562.0" y="1047.0" width="94.0" height="70.0" rx="8" stroke-width="3.3" fill="none" transform="rotate(1 3609.0 1082.0)"/>
<rect x="3567.0" y="1052.0" width="84.0" height="60.0" rx="3" stroke-width="2.4" fill="none" stroke-dasharray="0.1 10" stroke-linecap="round" transform="rotate(1 3609.0 1082.0)"/>
<path d="M3437,972 L3437,1005 Q3440,1012 3450,1012 L3540,1012 Q3552,1008 3555,996 L3555,972" stroke-width="3.3" fill="none" />
<path d="M3442,974 L3442,1003 L3450,1007 L3538,1007 Q3548,1004 3550,994 L3550,974" stroke-width="2.2" fill="none" stroke-dasharray="0.1 7" stroke-linecap="round"/>
<path d="M3566,972 L3566,1035 Q3568,1042 3578,1042 L3650,1042 Q3660,1038 3662,1028 L3664,972" stroke-width="3.3" fill="none" />
<path d="M3571,974 L3571,1033 L3578,1037 L3648,1037 Q3655,1034 3657,1026 L3659,974" stroke-width="2.2" fill="none" stroke-dasharray="0.1 8" stroke-linecap="round"/>
<rect x="3674.0" y="972.0" width="16.0" height="26.0" rx="1" stroke-width="3.3" fill="none"/>
<path d="M3085,1100 L3125,1108 L3200,1110 L3210,1104 L3250,1104 L3256,1118 L3300,1118" stroke-width="3.3" fill="none" />
<rect x="3186.0" y="1122.0" width="18.0" height="12.0" rx="3" stroke-width="3.3" fill="none"/>
<rect x="3216.0" y="1118.0" width="32.0" height="20.0" rx="2" stroke-width="3.3" fill="none"/>
<path d="M3128,1138 Q3136,1130 3146,1138" stroke-width="3.3" fill="none" />
<path d="M3276,1140 L3276,1128 L3480,1126 L3495,1132" stroke-width="3.3" fill="none" />
<path d="M3300,1146 L3340,1154 L3420,1160 L3500,1152 L3560,1143" stroke-width="3.3" fill="none" />
<rect x="3506.0" y="1128.0" width="14.0" height="8.0" rx="1" stroke-width="1" fill="#000"/>
<path d="M3528,1176 L3600,1160 Q3610,1150 3618,1146 L3632,1146 Q3628,1158 3616,1164 L3534,1182 Q3526,1182 3528,1176Z" stroke-width="3.3" fill="none" />
<circle cx="3620.0" cy="1154.0" r="5" stroke-width="3.3" fill="none"/>
<path d="M3666,1140 Q3672,1152 3690,1160 L3740,1164 Q3752,1158 3750,1150 Q3740,1140 3715,1136 L3690,1136" stroke-width="3.8" fill="none" />
<path d="M3715.0,1136.0 L3712.0,1162.0" stroke-width="3.3" fill="none" />
<path d="M3668.0,1128.0 L3668.0,1146.0" stroke-width="4.3" fill="none" />
<path d="M3678.0,1128.0 L3678.0,1146.0" stroke-width="4.3" fill="none" />
<rect x="3660.0" y="1126.0" width="26.0" height="6.0" rx="1" stroke-width="3.3" fill="none"/>
<path d="M3796.0,1075.0 L3796.0,1090.0 L3812.0,1096.0 L3782.0,1102.0 L3800.0,1106.0 L3797.0,1120.0" stroke-width="2.2" fill="none" />
<text x="3279" y="1206" font-family="Liberation Sans, sans-serif" font-size="23" font-weight="normal" fill="#000" stroke="none" font-style="italic">7.</text>
<path d="M955,161 Q1040,132 1130,115 L1247,103 L1324,109" stroke-width="5.0" fill="none" />
<path d="M955,162 L1040,172 L1130,173 L1220,180" stroke-width="4.3" fill="none" />
<path d="M1130.0,183.0 L1225.0,189.0" stroke-width="3.5" fill="none" stroke-dasharray="12 7"/>
<path d="M1257,99 L1263,91 Q1270,89 1277,95 L1295,106" stroke-width="3.8" fill="none" />
<path d="M1147,117 L1304,113 Q1310,114 1308,120 L1293,160 Q1290,163 1284,163 L1153,163 Q1144,160 1144,152 L1144,124 Q1144,118 1147,117Z" stroke-width="4.8" fill="none" />
<path d="M1324.0,109.0 L1297.0,175.0" stroke-width="4.8" fill="none" />
<path d="M1315.0,112.0 L1290.0,170.0" stroke-width="3.3" fill="none" />
<path d="M1210.0,170.0 L1300.0,176.0" stroke-width="3.8" fill="none" />
<path d="M1213.0,123.0 L1286.0,347.0" stroke-width="5.0" fill="none" />
<path d="M1222.0,130.0 L1292.0,345.0" stroke-width="4.3" fill="none" />
<path d="M1279.0,348.0 L1474.0,325.0" stroke-width="4.8" fill="none" />
<path d="M1310,199 L1370,199 L1390,186 L1412,126 L1446,129 L1532,195 L1588,203" stroke-width="5.0" fill="none" />
<path d="M1418,143 Q1424,138 1434,139 L1446,140 L1492,175 L1498,188 L1482,196" stroke-width="3.8" fill="none" />
<path d="M1410,180 Q1416,210 1414,238 Q1410,258 1403,268" stroke-width="5.5" fill="none" />
<path d="M1412,172 L1440,170 L1470,178 L1482,196 L1520,198" stroke-width="3.3" fill="none" />
<path d="M1420,185 L1450,180 L1470,190 M1418,196 L1440,198 L1450,192" stroke-width="3.8" fill="none" />
<rect x="1424.0" y="143.0" width="10.0" height="10.0" rx="2" stroke-width="3.8" fill="none"/>
<path d="M1310.0,199.0 L1400.0,208.0" stroke-width="6.5" fill="none" />
<path d="M1294,208 L1296,245 L1310,250 L1318,262 L1345,250 L1352,240 L1372,238" stroke-width="3.8" fill="none" />
<path d="M1318,210 L1318,225 L1340,228 L1345,240 L1340,255" stroke-width="3.8" fill="none" />
<path d="M1272.0,270.0 L1350.0,270.0" stroke-width="5.5" fill="none" />
<path d="M1365.0,213.0 L1376.0,329.0" stroke-width="6.5" fill="none" />
<path d="M1358.0,213.0 L1368.0,329.0" stroke-width="3.8" fill="none" />
<path d="M1322,276 L1322,295 L1355,298 L1355,280 Z" stroke-width="3.8" fill="none" />
<path d="M1328.0,282.0 L1328.0,294.0" stroke-width="3.3" fill="none" />
<path d="M1334.0,282.0 L1334.0,294.0" stroke-width="3.3" fill="none" />
<path d="M1340.0,282.0 L1340.0,294.0" stroke-width="3.3" fill="none" />
<path d="M1346.0,282.0 L1346.0,294.0" stroke-width="3.3" fill="none" />
<rect x="1322.0" y="248.0" width="14.0" height="20.0" rx="1" stroke-width="1" fill="#000"/>
<clipPath id="cl5"><path d="M1290.0,205.0 L1410.0,210.0 L1405.0,270.0 L1380.0,300.0 L1300.0,300.0 L1275.0,250.0Z"/></clipPath><g clip-path="url(#cl5)">
<rect x="1330.4" y="254.4" width="11.4" height="7.6" rx="2" stroke-width="3.9984751051496596" fill="none" transform="rotate(-20 1336.1 258.2)"/>
<circle cx="1300.6" cy="281.4" r="3.903052944835505" stroke-width="4.220938251089046" fill="none"/>
<rect x="1331.1" y="215.7" width="8.3" height="5.5" rx="2" stroke-width="4.635570738018734" fill="none" transform="rotate(-20 1335.3 218.5)"/>
<circle cx="1407.6" cy="296.7" r="4.615690134135361" stroke-width="4.223344056867856" fill="none"/>
<circle cx="1277.0" cy="255.2" r="2.23820442067542" stroke-width="3.585312394196894" fill="none"/>
<rect x="1275.3" y="246.6" width="7.5" height="5.0" rx="2" stroke-width="4.563640692777798" fill="none" transform="rotate(90 1279.1 249.1)"/>
<path d="M1350.1,267.8 L1334.8,268.0" stroke-width="3.7172443494958287" fill="none" />
<circle cx="1388.4" cy="272.2" r="3.2611088680621996" stroke-width="3.644498852411858" fill="none"/>
<circle cx="1284.5" cy="277.8" r="3.601599219673964" stroke-width="4.569875432821768" fill="none"/>
<path d="M1404.0,281.5 L1404.7,289.5" stroke-width="3.614576122094417" fill="none" />
<path d="M1404.3,239.3 L1410.4,246.2" stroke-width="4.244182368351036" fill="none" />
<circle cx="1286.8" cy="236.6" r="5.856304866375057" stroke-width="4.437060775490639" fill="none"/>
<circle cx="1308.3" cy="214.6" r="2.239573611764307" stroke-width="4.495532267765961" fill="none"/>
<circle cx="1350.5" cy="247.5" r="2.7627376611614642" stroke-width="4.397841323571526" fill="none"/>
<circle cx="1361.9" cy="216.1" r="3.683022468985684" stroke-width="3.6192985095136345" fill="none"/>
<circle cx="1406.1" cy="281.3" r="3.216580599483958" stroke-width="4.627297669123457" fill="none"/>
<path d="M1321.1,280.5 L1335.4,291.8" stroke-width="3.4504991282758244" fill="none" />
<circle cx="1309.9" cy="278.4" r="3.3158217021909198" stroke-width="3.7444871438984197" fill="none"/>
<circle cx="1287.2" cy="260.4" r="2.9720516805502495" stroke-width="4.201925765372908" fill="none"/>
<path d="M1329.6,291.8 L1342.8,300.4" stroke-width="4.1618568681449215" fill="none" />
<circle cx="1295.8" cy="291.3" r="5.271207797838593" stroke-width="3.6742478496438746" fill="none"/>
<path d="M1376.6,289.1 L1373.0,299.6" stroke-width="4.7252037784629675" fill="none" />
<circle cx="1331.9" cy="214.9" r="2.1547858867751306" stroke-width="4.744022267183423" fill="none"/>
<circle cx="1370.1" cy="229.4" r="5.294871387029411" stroke-width="4.194699459794903" fill="none"/>
<rect x="1296.4" y="271.9" width="4.6" height="3.0" rx="2" stroke-width="3.642594505987688" fill="none" transform="rotate(-20 1298.7 273.4)"/>
<circle cx="1357.9" cy="231.6" r="5.6694407139703005" stroke-width="3.6059683190545266" fill="none"/>
<circle cx="1311.3" cy="247.3" r="2.241822303730194" stroke-width="3.564380663059226" fill="none"/>
<path d="M1355.5,211.4 L1349.0,223.6" stroke-width="4.636410344954719" fill="none" />
<circle cx="1368.3" cy="260.5" r="2.561388748582471" stroke-width="3.3526208049459836" fill="none"/>
<rect x="1392.0" y="267.7" width="11.7" height="7.8" rx="2" stroke-width="3.331888767313652" fill="none" transform="rotate(20 1397.9 271.6)"/>
<rect x="1281.5" y="232.9" width="5.1" height="3.4" rx="2" stroke-width="3.40864808494519" fill="none" transform="rotate(90 1284.1 234.6)"/>
<path d="M1384.0,287.9 L1365.0,293.1" stroke-width="4.355535928862666" fill="none" />
<rect x="1316.9" y="266.4" width="11.2" height="7.5" rx="2" stroke-width="4.606651888683016" fill="none"/>
<rect x="1387.1" y="256.4" width="9.0" height="6.0" rx="2" stroke-width="3.8735002910253753" fill="none" transform="rotate(-20 1391.6 259.4)"/>
<rect x="1282.3" y="212.0" width="4.9" height="3.3" rx="2" stroke-width="3.685804908869324" fill="none" transform="rotate(90 1284.8 213.6)"/>
<path d="M1319.1,272.6 L1335.8,277.1" stroke-width="3.9607837430680792" fill="none" />
<circle cx="1376.3" cy="207.8" r="4.405141058198579" stroke-width="4.021435223023862" fill="none"/>
<circle cx="1369.3" cy="252.2" r="4.458013047579872" stroke-width="4.680696410160109" fill="none"/>
<circle cx="1276.5" cy="233.6" r="4.712547916524353" stroke-width="3.603861620110213" fill="none"/>
<circle cx="1397.3" cy="267.7" r="3.7677299230787464" stroke-width="4.637590380476605" fill="none"/>
<path d="M1371.8,221.1 L1358.0,226.6" stroke-width="4.508982599019591" fill="none" />
<rect x="1323.6" y="258.2" width="6.5" height="4.4" rx="2" stroke-width="3.504264489574947" fill="none"/>
<rect x="1367.9" y="293.2" width="6.2" height="4.1" rx="2" stroke-width="3.5536933658215704" fill="none" transform="rotate(90 1371.0 295.3)"/>
<rect x="1396.4" y="281.6" width="7.1" height="4.7" rx="2" stroke-width="4.079962973600723" fill="none" transform="rotate(-20 1400.0 283.9)"/>
<circle cx="1336.1" cy="212.1" r="2.125943102780691" stroke-width="4.609243581528453" fill="none"/>
<circle cx="1370.7" cy="259.2" r="3.236121405639838" stroke-width="4.487270282552082" fill="none"/>
</g>
<clipPath id="cl6"><path d="M1150.0,125.0 L1215.0,125.0 L1225.0,165.0 L1150.0,160.0Z"/></clipPath><g clip-path="url(#cl6)">
<circle cx="1185.6" cy="151.3" r="4.832436648936934" stroke-width="3.513900529388052" fill="none"/>
<rect x="1172.8" y="132.4" width="10.7" height="7.1" rx="2" stroke-width="4.335888979558026" fill="none" transform="rotate(-20 1178.1 136.0)"/>
<circle cx="1150.1" cy="150.0" r="5.923141558022736" stroke-width="3.851483040626354" fill="none"/>
<path d="M1169.2,142.7 L1162.3,153.4" stroke-width="4.070279787707465" fill="none" />
<rect x="1204.1" y="124.7" width="11.4" height="7.6" rx="2" stroke-width="4.529480511490632" fill="none"/>
<rect x="1151.0" y="160.6" width="11.6" height="7.8" rx="2" stroke-width="3.46879145422054" fill="none"/>
<path d="M1192.0,151.5 L1188.9,169.1" stroke-width="4.764231219479827" fill="none" />
<rect x="1183.4" y="125.3" width="9.3" height="6.2" rx="2" stroke-width="4.302223397746357" fill="none" transform="rotate(-20 1188.0 128.3)"/>
<path d="M1183.8,117.4 L1173.9,135.0" stroke-width="4.751188324300942" fill="none" />
<circle cx="1176.7" cy="139.5" r="4.915400623154488" stroke-width="4.310659232473775" fill="none"/>
<rect x="1163.3" y="136.7" width="8.6" height="5.7" rx="2" stroke-width="4.515160609391502" fill="none"/>
<rect x="1176.0" y="157.6" width="5.2" height="3.5" rx="2" stroke-width="3.3386114182565505" fill="none"/>
<circle cx="1179.1" cy="155.9" r="2.859146126631908" stroke-width="4.124957049123653" fill="none"/>
<rect x="1198.7" y="124.2" width="6.9" height="4.6" rx="2" stroke-width="3.8162677310638253" fill="none"/>
<rect x="1184.9" y="137.3" width="7.4" height="4.9" rx="2" stroke-width="3.983446185398054" fill="none" transform="rotate(20 1188.6 139.7)"/>
<circle cx="1168.0" cy="164.5" r="4.126545956245616" stroke-width="4.123284894572863" fill="none"/>
</g>
<clipPath id="cl7"><path d="M1225.0,165.0 L1305.0,178.0 L1300.0,200.0 L1235.0,200.0Z"/></clipPath><g clip-path="url(#cl7)">
<circle cx="1245.7" cy="189.0" r="4.894286713056387" stroke-width="4.574004242084896" fill="none"/>
<circle cx="1243.4" cy="170.2" r="3.288070274467394" stroke-width="4.40103540331916" fill="none"/>
<path d="M1269.9,165.8 L1265.2,179.1" stroke-width="3.947370492588319" fill="none" />
<path d="M1231.1,171.2 L1221.2,178.1" stroke-width="4.60692709379766" fill="none" />
<circle cx="1291.1" cy="191.1" r="5.822631958784722" stroke-width="4.49065582614781" fill="none"/>
<rect x="1287.9" y="178.6" width="10.3" height="6.9" rx="2" stroke-width="4.146207897902521" fill="none" transform="rotate(90 1293.0 182.0)"/>
<rect x="1291.3" y="184.2" width="9.6" height="6.4" rx="2" stroke-width="3.8189688520838727" fill="none" transform="rotate(90 1296.1 187.4)"/>
<rect x="1275.2" y="181.0" width="10.2" height="6.8" rx="2" stroke-width="3.502280641798448" fill="none" transform="rotate(20 1280.3 184.4)"/>
<circle cx="1267.9" cy="175.3" r="3.1279418567525337" stroke-width="3.8343727050719236" fill="none"/>
<rect x="1240.3" y="171.1" width="11.2" height="7.5" rx="2" stroke-width="4.1658037650308435" fill="none" transform="rotate(-20 1245.9 174.8)"/>
<rect x="1240.1" y="169.3" width="7.6" height="5.0" rx="2" stroke-width="3.4099136668858767" fill="none" transform="rotate(20 1243.9 171.8)"/>
<circle cx="1256.2" cy="190.2" r="5.765422359379116" stroke-width="3.3648128117424037" fill="none"/>
<rect x="1284.8" y="191.2" width="9.5" height="6.3" rx="2" stroke-width="3.5396350771168423" fill="none" transform="rotate(90 1289.5 194.3)"/>
<circle cx="1295.9" cy="193.1" r="3.2107040246492353" stroke-width="4.580481326920892" fill="none"/>
</g>
<path d="M1220,130 L1252,134 L1256,142 L1296,143" stroke-width="3.3" fill="none" />
<path d="M1320,330 Q1335,315 1350,318 Q1365,322 1372,332" stroke-width="3.3" fill="none" />
<path d="M1360,338 Q1372,326 1390,330 L1400,336" stroke-width="4.8" fill="none" />
<path d="M1433,292 L1449,292 L1458,320 L1433,325Z" stroke-width="3.8" fill="none" />
<circle cx="1447.0" cy="315.0" r="3" stroke-width="3.3" fill="none"/>
<path d="M1440.0,298.0 L1444.0,310.0" stroke-width="3.3" fill="none" />
<path d="M1376.0,329.0 L1378.0,357.0" stroke-width="2.2" fill="none" />
<path d="M1256,218 L1290,222 M1262,232 L1270,240 M1262,262 L1282,252 L1270,268" stroke-width="3.3" fill="none" />
<path d="M1392,270 L1398,300 L1394,320" stroke-width="3.3" fill="none" />
<path d="M975.0,175.0 L990.0,175.0" stroke-width="2.4000000000000004" fill="none" />
<path d="M975.0,175.0 L975.0,240.0" stroke-width="2.4000000000000004" fill="none" />
<path d="M975.0,282.0 L975.0,390.0" stroke-width="2.4000000000000004" fill="none" />
<path d="M975.0,240.0 L990.0,246.0 L950.0,258.0 L982.0,262.0 L968.0,268.0 L975.0,282.0" stroke-width="2.2" fill="none" />
<path d="M932.0,302.0 L1632.0,299.0" stroke-width="2.2" fill="none" stroke-dasharray="130 7 7 7"/>
<path d="M955.0,365.0 L1098.0,365.0" stroke-width="3.3" fill="none" />
<path d="M1132.0,365.0 L1483.0,360.0" stroke-width="3.3" fill="none" />
<path d="M1517.0,360.0 L1605.0,358.0" stroke-width="3.3" fill="none" />
<path d="M1098.0,365.0 L1102.0,350.0 L1108.0,385.0 L1115.0,352.0 L1122.0,372.0 L1126.0,362.0 L1132.0,365.0" stroke-width="2.2" fill="none" />
<path d="M1483.0,360.0 L1488.0,344.0 L1494.0,378.0 L1502.0,344.0 L1508.0,366.0 L1512.0,356.0 L1517.0,360.0" stroke-width="2.2" fill="none" />
<path d="M1588.0,191.0 L1588.0,247.0" stroke-width="2.4000000000000004" fill="none" />
<path d="M1588.0,280.0 L1588.0,374.0" stroke-width="2.4000000000000004" fill="none" />
<path d="M1588.0,247.0 L1600.0,250.0 L1560.0,262.0 L1606.0,262.0 L1576.0,274.0 L1588.0,280.0" stroke-width="2.2" fill="none" />
<path d="M2069,186 L2126,183 L2214,113 L2245,110 L2264,160 L2284,182 L2350,177" stroke-width="5.0" fill="none" />
<path d="M2162,173 L2218,122 L2237,121 L2248,146" stroke-width="4.3" fill="none" />
<ellipse cx="2167.0" cy="175.0" rx="5" ry="8" stroke-width="3.8" fill="none" transform="rotate(20 2167 175)"/>
<path d="M2170.0,168.0 L2243.0,150.0" stroke-width="3.8" fill="none" />
<path d="M2170.0,183.0 L2237.0,178.0" stroke-width="3.8" fill="none" />
<path d="M2190,176 Q2205,160 2230,158" stroke-width="3.3" fill="none" />
<path d="M2208.0,158.0 L2210.0,174.0" stroke-width="3.3" fill="none" />
<path d="M2212.0,158.0 L2214.0,174.0" stroke-width="3.3" fill="none" />
<path d="M2216.0,158.0 L2218.0,174.0" stroke-width="3.3" fill="none" />
<path d="M2220.0,158.0 L2222.0,174.0" stroke-width="3.3" fill="none" />
<path d="M2224.0,158.0 L2226.0,174.0" stroke-width="3.3" fill="none" />
<path d="M2228.0,158.0 L2230.0,174.0" stroke-width="3.3" fill="none" />
<path d="M2243,155 L2257,249 L2393,241 L2397,191 L2252,196" stroke-width="4.8" fill="none" />
<path d="M2284.0,182.0 L2352.0,178.0" stroke-width="8.5" fill="none" />
<path d="M2254.0,190.0 L2290.0,188.0" stroke-width="5.5" fill="none" />
<rect x="2258.0" y="200.0" width="24.0" height="42.0" rx="6" stroke-width="3.8" fill="none"/>
<rect x="2298.0" y="196.0" width="28.0" height="20.0" rx="2" stroke-width="3.8" fill="none"/>
<rect x="2333.0" y="192.0" width="59.0" height="22.0" rx="3" stroke-width="3.8" fill="none"/>
<path d="M2340.0,196.0 L2340.0,211.0" stroke-width="3.3" fill="none" />
<path d="M2343.6,196.0 L2343.6,211.0" stroke-width="3.3" fill="none" />
<path d="M2347.2,196.0 L2347.2,211.0" stroke-width="3.3" fill="none" />
<path d="M2350.8,196.0 L2350.8,211.0" stroke-width="3.3" fill="none" />
<path d="M2354.4,196.0 L2354.4,211.0" stroke-width="3.3" fill="none" />
<path d="M2358.0,196.0 L2358.0,211.0" stroke-width="3.3" fill="none" />
<path d="M2361.6,196.0 L2361.6,211.0" stroke-width="3.3" fill="none" />
<path d="M2365.2,196.0 L2365.2,211.0" stroke-width="3.3" fill="none" />
<path d="M2368.8,196.0 L2368.8,211.0" stroke-width="3.3" fill="none" />
<path d="M2372.4,196.0 L2372.4,211.0" stroke-width="3.3" fill="none" />
<path d="M2376.0,196.0 L2376.0,211.0" stroke-width="3.3" fill="none" />
<path d="M2379.6,196.0 L2379.6,211.0" stroke-width="3.3" fill="none" />
<path d="M2383.2,196.0 L2383.2,211.0" stroke-width="3.3" fill="none" />
<path d="M2386.8,196.0 L2386.8,211.0" stroke-width="3.3" fill="none" />
<rect x="2300.0" y="222.0" width="32.0" height="24.0" rx="3" stroke-width="3.8" fill="none"/>
<rect x="2306.0" y="226.0" width="20.0" height="14.0" rx="2" stroke-width="1" fill="#000"/>
<circle cx="2345.0" cy="232.0" r="6" stroke-width="1" fill="#000"/>
<circle cx="2366.0" cy="232.0" r="6" stroke-width="1" fill="#000"/>
<circle cx="2385.0" cy="232.0" r="6" stroke-width="1" fill="#000"/>
<path d="M2338.0,228.0 L2392.0,226.0" stroke-width="3.8" fill="none" />
<clipPath id="cl8"><path d="M2284.0,196.0 L2300.0,196.0 L2300.0,245.0 L2284.0,245.0Z"/></clipPath><g clip-path="url(#cl8)">
<circle cx="2286.6" cy="229.8" r="3.5874998510118017" stroke-width="3.7791004720574515" fill="none"/>
<circle cx="2296.7" cy="235.6" r="3.281140599093983" stroke-width="3.8050841534700117" fill="none"/>
<path d="M2278.9,209.6 L2289.2,218.8" stroke-width="3.3692647631833115" fill="none" />
<path d="M2290.9,189.7 L2284.5,206.5" stroke-width="4.038687751968961" fill="none" />
<path d="M2281.9,206.2 L2287.2,218.1" stroke-width="3.4158098105252996" fill="none" />
<rect x="2284.2" y="234.5" width="4.6" height="3.1" rx="2" stroke-width="4.227943863120299" fill="none" transform="rotate(-20 2286.5 236.1)"/>
<rect x="2293.3" y="214.1" width="4.8" height="3.2" rx="2" stroke-width="3.965108099856522" fill="none"/>
<rect x="2281.5" y="203.2" width="7.4" height="4.9" rx="2" stroke-width="4.102913583025082" fill="none" transform="rotate(-20 2285.2 205.7)"/>
<circle cx="2299.8" cy="199.5" r="3.400307463041048" stroke-width="3.858942592345313" fill="none"/>
<path d="M2289.5,196.5 L2289.4,209.8" stroke-width="3.5919872951896528" fill="none" />
</g>
<path d="M2236,128 L2240,140 L2234,142 M2230,128 L2230,138" stroke-width="3.8" fill="none" />
<path d="M2336,93 L2402,83 L2515,89 Q2600,104 2660,122 L2707,137" stroke-width="5.0" fill="none" />
<path d="M2365,87 L2379,76 L2399,74 L2402,83" stroke-width="3.8" fill="none" />
<path d="M2336,93 L2361,146 L2357,166 L2352,178" stroke-width="4.8" fill="none" />
<path d="M2353,101 L2515,94 L2517,135 L2374,144 Z" stroke-width="4.8" fill="none" />
<path d="M2515.0,94.0 L2528.0,96.0 L2530.0,136.0 L2517.0,135.0" stroke-width="3.3" fill="none" />
<path d="M2707,137 L2575,147 L2445,160" stroke-width="4.3" fill="none" />
<path d="M2370.0,150.0 L2540.0,143.0" stroke-width="5.5" fill="none" />
<path d="M2442.0,163.0 L2560.0,158.0" stroke-width="3" fill="none" stroke-dasharray="12 7"/>
<path d="M2370,118 L2400,116 L2410,108 L2430,108 L2440,100 L2456,104 L2470,112 L2500,116 L2498,128 L2470,132" stroke-width="3.8" fill="none" />
<clipPath id="cl9"><path d="M2360.0,150.0 L2430.0,148.0 L2426.0,172.0 L2356.0,176.0Z"/></clipPath><g clip-path="url(#cl9)">
<circle cx="2426.9" cy="151.9" r="2.5826565149858896" stroke-width="4.298630653672914" fill="none"/>
<circle cx="2364.9" cy="166.2" r="3.7097569314689833" stroke-width="4.189550939795803" fill="none"/>
<rect x="2422.4" y="153.9" width="9.2" height="6.1" rx="2" stroke-width="4.232087604343878" fill="none" transform="rotate(20 2427.0 156.9)"/>
<circle cx="2408.4" cy="149.4" r="5.584785849411897" stroke-width="3.8895558168289996" fill="none"/>
<path d="M2379.1,170.7 L2361.1,172.9" stroke-width="4.237988905078804" fill="none" />
<path d="M2392.7,159.8 L2403.1,175.3" stroke-width="3.5584109096560734" fill="none" />
<path d="M2418.6,166.5 L2409.0,183.0" stroke-width="3.442223390039249" fill="none" />
<path d="M2369.9,140.7 L2369.5,158.1" stroke-width="3.3322643326177177" fill="none" />
<circle cx="2394.3" cy="159.5" r="4.813499418911558" stroke-width="4.216463555282786" fill="none"/>
<rect x="2380.1" y="162.0" width="7.1" height="4.7" rx="2" stroke-width="3.8956344869829946" fill="none" transform="rotate(20 2383.7 164.3)"/>
<rect x="2408.1" y="170.5" width="8.0" height="5.3" rx="2" stroke-width="3.390568460497887" fill="none"/>
<rect x="2382.2" y="155.4" width="11.5" height="7.7" rx="2" stroke-width="4.252156783617636" fill="none" transform="rotate(20 2388.0 159.3)"/>
<circle cx="2356.5" cy="160.9" r="3.1770524352780405" stroke-width="3.330152771969334" fill="none"/>
<circle cx="2369.2" cy="173.5" r="4.703400058071399" stroke-width="3.7435848745478335" fill="none"/>
</g>
<path d="M2527,112 L2527,124 M2520,120 L2536,118" stroke-width="3.3" fill="none" />
<path d="M2434.0,119.0 L2372.0,326.0" stroke-width="5.0" fill="none" />
<path d="M2426.0,122.0 L2368.0,322.0" stroke-width="4.3" fill="none" />
<path d="M2196.0,308.0 L2372.0,325.0" stroke-width="4.8" fill="none" />
<path d="M2264,263 L2263,302 L2295,304 L2307,316" stroke-width="3.3" fill="none" />
<path d="M2295.0,304.0 L2316.0,296.0 L2340.0,308.0 L2368.0,314.0" stroke-width="2.2" fill="none" stroke-dasharray="12 5 3 5"/>
<path d="M2266,262 L2268,272 L2274,262 L2280,272 L2282,262" stroke-width="3.3" fill="none" />
<path d="M2380,180 Q2376,190 2378,200" stroke-width="2.2" fill="none" />
<path d="M2070.0,162.0 L2070.0,232.0" stroke-width="2.4000000000000004" fill="none" />
<path d="M2073.0,268.0 L2073.0,352.0" stroke-width="2" fill="none" stroke-dasharray="30 5 5 5"/>
<path d="M2070.0,232.0 L2078.0,236.0 L2056.0,244.0 L2097.0,254.0 L2060.0,260.0 L2073.0,268.0" stroke-width="2.4000000000000004" fill="none" />
<path d="M2037.0,283.0 L2752.0,282.0" stroke-width="2.2" fill="none" stroke-dasharray="110 7 7 7"/>
<path d="M2049.0,343.0 L2136.0,343.0" stroke-width="2.2" fill="none" stroke-dasharray="16 8"/>
<path d="M2176.0,342.0 L2528.0,342.0" stroke-width="3.3" fill="none" />
<path d="M2564.0,342.0 L2697.0,342.0" stroke-width="3.3" fill="none" />
<path d="M2136.0,343.0 L2142.0,334.0 L2148.0,360.0 L2156.0,320.0 L2162.0,368.0 L2170.0,326.0 L2176.0,342.0" stroke-width="2.2" fill="none" />
<path d="M2528.0,342.0 L2536.0,330.0 L2542.0,366.0 L2552.0,322.0 L2558.0,346.0 L2564.0,342.0" stroke-width="2.2" fill="none" />
<path d="M2687.0,140.0 L2687.0,226.0" stroke-width="2.4000000000000004" fill="none" />
<path d="M2687.0,262.0 L2687.0,350.0" stroke-width="2" fill="none" stroke-dasharray="20 6"/>
<path d="M2687.0,226.0 L2676.0,230.0 L2716.0,246.0 L2680.0,248.0 L2687.0,262.0" stroke-width="2.4000000000000004" fill="none" />
<rect x="1760.0" y="20.0" width="21.0" height="18.0" rx="4" stroke-width="1" fill="#000"/>
<path d="M1806,20 L1828,16 L1830,34 L1822,36 L1822,42 Q1816,46 1812,42 L1812,34 L1806,32Z" stroke-width="4.3" fill="none" />
<clipPath id="cl10"><path d="M1806.0,16.0 L1830.0,16.0 L1830.0,44.0 L1806.0,44.0Z"/></clipPath><g clip-path="url(#cl10)">
<circle cx="1806.3" cy="19.1" r="2.785674723101485" stroke-width="3.9838642734532668" fill="none"/>
<rect x="1805.2" y="20.1" width="7.0" height="4.7" rx="2" stroke-width="3.4474012209602787" fill="none"/>
<path d="M1803.7,29.3 L1814.8,32.7" stroke-width="3.7125700831780506" fill="none" />
<circle cx="1806.5" cy="42.3" r="2.805891623221833" stroke-width="3.4984976321900465" fill="none"/>
<rect x="1812.3" y="41.1" width="4.8" height="3.2" rx="2" stroke-width="3.5169260339166053" fill="none" transform="rotate(-20 1814.8 42.7)"/>
<circle cx="1807.4" cy="17.4" r="2.359780495695831" stroke-width="3.4347405851174724" fill="none"/>
</g>
<rect x="1789.0" y="64.0" width="36.0" height="29.0" rx="2" stroke-width="5.0" fill="none"/>
<rect x="1790.0" y="64.0" width="6.0" height="29.0" rx="0" stroke-width="1" fill="#000"/>
<rect x="1790.0" y="64.0" width="35.0" height="5.0" rx="0" stroke-width="1" fill="#000"/>
<circle cx="1808.0" cy="80.0" r="10" stroke-width="4.3" fill="none"/>
<rect x="1828.0" y="72.0" width="18.0" height="20.0" rx="2" stroke-width="3.8" fill="none"/>
<clipPath id="cl11"><path d="M1828.0,72.0 L1846.0,72.0 L1846.0,92.0 L1828.0,92.0Z"/></clipPath><g clip-path="url(#cl11)">
<rect x="1826.8" y="74.5" width="5.2" height="3.5" rx="2" stroke-width="4.200213682933114" fill="none"/>
<path d="M1836.7,79.5 L1822.9,84.9" stroke-width="3.822799310762936" fill="none" />
<circle cx="1834.7" cy="72.0" r="3.510534372650606" stroke-width="3.426409206723127" fill="none"/>
<circle cx="1841.2" cy="88.9" r="3.6731550587390367" stroke-width="4.253435912170171" fill="none"/>
<circle cx="1829.5" cy="74.4" r="3.9554913569310974" stroke-width="3.4119253987645806" fill="none"/>
<circle cx="1828.4" cy="73.0" r="2.0765331768326876" stroke-width="3.653032382032176" fill="none"/>
</g>
<path d="M1789.0,93.0 L1766.0,93.0 L1770.0,76.0 L1789.0,72.0 L1766.0,93.0 L1754.0,94.0 L1750.0,104.0 L1738.0,108.0 L1736.0,141.0 L1761.0,147.0 L1767.0,149.0 L1790.0,155.0 L1791.0,173.0 L1795.0,175.0 L1824.0,173.0 L1826.0,158.0 L1847.0,149.0 L1869.0,143.0 L1884.0,139.0 L1886.0,121.0 L1878.0,108.0 L1860.0,97.0 L1847.0,93.0 L1826.0,93.0" stroke-width="4.3" fill="none" />
<path d="M1768.0,93.0 L1768.0,149.0" stroke-width="3.8" fill="none" />
<path d="M1847.0,95.0 L1847.0,149.0" stroke-width="3.8" fill="none" />
<circle cx="1776.0" cy="88.0" r="6.5" stroke-width="3.8" fill="none"/>
<circle cx="1776.0" cy="112.0" r="6" stroke-width="3.8" fill="none"/>
<circle cx="1777.0" cy="126.0" r="6" stroke-width="3.8" fill="none"/>
<circle cx="1778.0" cy="140.0" r="6" stroke-width="3.8" fill="none"/>
<circle cx="1793.0" cy="113.0" r="7" stroke-width="3.8" fill="none"/>
<circle cx="1799.0" cy="135.0" r="7" stroke-width="3.8" fill="none"/>
<circle cx="1813.0" cy="110.0" r="5" stroke-width="3.8" fill="none"/>
<circle cx="1826.0" cy="110.0" r="5" stroke-width="3.8" fill="none"/>
<circle cx="1839.0" cy="110.0" r="5" stroke-width="3.8" fill="none"/>
<circle cx="1836.0" cy="124.0" r="6" stroke-width="3.8" fill="none"/>
<circle cx="1838.0" cy="139.0" r="6" stroke-width="3.8" fill="none"/>
<circle cx="1854.0" cy="108.0" r="4.5" stroke-width="3.8" fill="none"/>
<circle cx="1854.0" cy="122.0" r="4.5" stroke-width="3.8" fill="none"/>
<circle cx="1855.0" cy="136.0" r="5" stroke-width="3.8" fill="none"/>
<circle cx="1866.0" cy="112.0" r="4.5" stroke-width="3.8" fill="none"/>
<circle cx="1869.0" cy="125.0" r="4.5" stroke-width="3.8" fill="none"/>
<circle cx="1870.0" cy="136.0" r="4.5" stroke-width="3.8" fill="none"/>
<circle cx="1801.0" cy="159.0" r="4" stroke-width="3.8" fill="none"/>
<circle cx="1801.0" cy="168.0" r="3.5" stroke-width="3.8" fill="none"/>
<circle cx="1815.0" cy="124.0" r="4" stroke-width="3.8" fill="none"/>
<circle cx="1818.0" cy="143.0" r="5" stroke-width="3.8" fill="none"/>
<circle cx="1822.0" cy="130.0" r="4" stroke-width="3.8" fill="none"/>
<rect x="1811.0" y="154.0" width="9.0" height="12.0" rx="2" stroke-width="3.8" fill="none"/>
<clipPath id="cl12"><path d="M1740.0,108.0 L1766.0,98.0 L1766.0,146.0 L1740.0,140.0Z"/></clipPath><g clip-path="url(#cl12)">
<rect x="1750.8" y="125.7" width="8.1" height="5.4" rx="2" stroke-width="3.5772908544463444" fill="none" transform="rotate(-20 1754.8 128.3)"/>
<rect x="1760.0" y="104.5" width="7.3" height="4.8" rx="2" stroke-width="3.917117277856967" fill="none" transform="rotate(-20 1763.6 107.0)"/>
<rect x="1748.8" y="109.1" width="7.4" height="4.9" rx="2" stroke-width="3.370772493640292" fill="none" transform="rotate(-20 1752.5 111.5)"/>
<rect x="1749.4" y="98.2" width="7.0" height="4.7" rx="2" stroke-width="4.035854608395884" fill="none" transform="rotate(90 1752.9 100.5)"/>
<circle cx="1764.1" cy="124.7" r="3.7033815057132182" stroke-width="3.4172573109311566" fill="none"/>
<rect x="1762.9" y="110.0" width="5.1" height="3.4" rx="2" stroke-width="4.196661334233195" fill="none"/>
<circle cx="1757.0" cy="134.9" r="3.2819838574660185" stroke-width="3.6201074004648097" fill="none"/>
<path d="M1754.7,119.2 L1759.6,130.1" stroke-width="3.987411093041933" fill="none" />
<circle cx="1756.3" cy="130.8" r="4.130155249011551" stroke-width="3.3633233573209464" fill="none"/>
<path d="M1764.2,93.0 L1757.8,103.3" stroke-width="3.6481679946399836" fill="none" />
<rect x="1746.1" y="124.0" width="7.9" height="5.3" rx="2" stroke-width="3.8896294529662576" fill="none" transform="rotate(90 1750.1 126.7)"/>
<circle cx="1752.6" cy="98.5" r="2.94942343196215" stroke-width="4.057879330072597" fill="none"/>
</g>
<path d="M1774.0,101.0 L1802.0,100.0" stroke-width="4" fill="none" stroke-dasharray="0.1 5" stroke-linecap="round"/>
<path d="M1808.0,99.0 L1820.0,100.0" stroke-width="4.8" fill="none" />
<path d="M1826.0,100.0 L1836.0,100.0" stroke-width="4.8" fill="none" />
<path d="M1878.0,118.0 L1882.0,132.0" stroke-width="2.5" fill="none" stroke-dasharray="0.1 5" stroke-linecap="round"/>
<path d="M1756.0,166.0 L1757.0,236.0 L1750.0,245.0 L1757.0,249.0 L1757.0,281.0 L1747.0,281.0 L1745.0,320.0 L1742.0,331.0 L1730.0,331.0 L1729.0,290.0 L1724.0,279.0 L1725.0,223.0 L1741.0,178.0Z" stroke-width="4.3" fill="none" />
<clipPath id="cl13"><path d="M1756.0,166.0 L1757.0,236.0 L1750.0,245.0 L1757.0,249.0 L1757.0,281.0 L1747.0,281.0 L1745.0,320.0 L1742.0,331.0 L1730.0,331.0 L1729.0,290.0 L1724.0,279.0 L1725.0,223.0 L1741.0,178.0Z"/></clipPath><g clip-path="url(#cl13)">
<path d="M1737.7,254.4 L1745.2,270.9" stroke-width="4.6479669618968895" fill="none" />
<rect x="1752.4" y="234.0" width="5.8" height="3.9" rx="2" stroke-width="3.4417993446891986" fill="none"/>
<rect x="1725.2" y="221.9" width="4.0" height="2.7" rx="2" stroke-width="3.5324269535317416" fill="none"/>
<rect x="1732.1" y="285.3" width="8.2" height="5.5" rx="2" stroke-width="3.3895966976933014" fill="none"/>
<circle cx="1743.4" cy="271.1" r="2.875871741360504" stroke-width="3.770778177076468" fill="none"/>
<rect x="1737.9" y="263.7" width="7.4" height="5.0" rx="2" stroke-width="3.8879726992189996" fill="none"/>
<rect x="1742.6" y="181.8" width="8.0" height="5.4" rx="2" stroke-width="3.4123291680026657" fill="none" transform="rotate(20 1746.6 184.5)"/>
<rect x="1723.1" y="209.5" width="9.4" height="6.3" rx="2" stroke-width="4.487478764072698" fill="none" transform="rotate(90 1727.9 212.7)"/>
<rect x="1735.3" y="313.4" width="7.1" height="4.7" rx="2" stroke-width="4.541863410700684" fill="none" transform="rotate(20 1738.9 315.7)"/>
<rect x="1733.5" y="237.6" width="4.8" height="3.2" rx="2" stroke-width="3.535279578300286" fill="none" transform="rotate(90 1736.0 239.3)"/>
<rect x="1738.2" y="260.5" width="5.8" height="3.9" rx="2" stroke-width="4.699999997326652" fill="none" transform="rotate(90 1741.1 262.5)"/>
<rect x="1745.0" y="314.7" width="8.3" height="5.6" rx="2" stroke-width="3.8312102097901537" fill="none" transform="rotate(20 1749.1 317.5)"/>
<path d="M1730.3,282.8 L1722.0,291.5" stroke-width="3.7812578801816956" fill="none" />
<rect x="1732.4" y="224.1" width="5.7" height="3.8" rx="2" stroke-width="4.7010008802382" fill="none" transform="rotate(90 1735.3 226.0)"/>
<circle cx="1740.9" cy="295.9" r="2.483295558457982" stroke-width="3.4770977396679497" fill="none"/>
<rect x="1723.4" y="273.6" width="6.8" height="4.5" rx="2" stroke-width="3.5153750835196886" fill="none"/>
<rect x="1735.5" y="193.0" width="7.9" height="5.3" rx="2" stroke-width="4.406637337959979" fill="none"/>
<rect x="1725.1" y="218.1" width="5.0" height="3.4" rx="2" stroke-width="3.4937394581660586" fill="none" transform="rotate(20 1727.7 219.7)"/>
<rect x="1743.0" y="304.7" width="8.4" height="5.6" rx="2" stroke-width="4.591421524887546" fill="none" transform="rotate(-20 1747.2 307.5)"/>
<rect x="1751.4" y="166.9" width="8.9" height="6.0" rx="2" stroke-width="4.234675427079565" fill="none"/>
<path d="M1737.1,226.7 L1720.4,236.5" stroke-width="3.7591143974211" fill="none" />
<rect x="1734.3" y="198.9" width="9.3" height="6.2" rx="2" stroke-width="4.732573709977445" fill="none" transform="rotate(90 1739.0 202.0)"/>
<rect x="1746.5" y="266.9" width="4.7" height="3.1" rx="2" stroke-width="3.653686051264403" fill="none" transform="rotate(90 1748.9 268.5)"/>
<rect x="1741.5" y="209.2" width="9.3" height="6.2" rx="2" stroke-width="4.464830283638156" fill="none" transform="rotate(-20 1746.2 212.3)"/>
<path d="M1730.6,247.7 L1737.4,260.2" stroke-width="4.75238547147237" fill="none" />
<rect x="1745.1" y="212.0" width="9.3" height="6.2" rx="2" stroke-width="4.6375472652138585" fill="none"/>
<circle cx="1734.6" cy="321.3" r="3.147837322304008" stroke-width="3.9957792904606366" fill="none"/>
<circle cx="1748.3" cy="261.3" r="3.813376350738924" stroke-width="3.8926063753646716" fill="none"/>
<circle cx="1754.9" cy="209.1" r="4.984808044912577" stroke-width="4.564797455917742" fill="none"/>
<path d="M1744.6,224.3 L1753.7,237.0" stroke-width="4.262488688111179" fill="none" />
<rect x="1725.4" y="202.3" width="9.5" height="6.3" rx="2" stroke-width="4.5793478817708255" fill="none" transform="rotate(90 1730.1 205.5)"/>
<circle cx="1749.6" cy="217.8" r="2.3294758001543916" stroke-width="3.9886996147310985" fill="none"/>
<circle cx="1731.4" cy="198.6" r="4.106128690210516" stroke-width="4.321814377452589" fill="none"/>
<rect x="1741.8" y="167.4" width="9.7" height="6.4" rx="2" stroke-width="3.651195096816102" fill="none" transform="rotate(90 1746.7 170.6)"/>
<rect x="1751.8" y="304.9" width="8.8" height="5.8" rx="2" stroke-width="4.143315122952556" fill="none" transform="rotate(20 1756.1 307.9)"/>
<path d="M1728.6,275.3 L1737.0,292.1" stroke-width="4.415797079567775" fill="none" />
<rect x="1727.1" y="171.9" width="9.4" height="6.3" rx="2" stroke-width="3.6490385452958085" fill="none" transform="rotate(20 1731.8 175.1)"/>
<path d="M1731.4,312.9 L1724.0,325.6" stroke-width="3.555475287897764" fill="none" />
<rect x="1722.0" y="243.7" width="8.3" height="5.5" rx="2" stroke-width="3.7087641006630347" fill="none" transform="rotate(-20 1726.1 246.4)"/>
<rect x="1726.3" y="206.0" width="4.7" height="3.2" rx="2" stroke-width="4.031867091643703" fill="none" transform="rotate(90 1728.7 207.5)"/>
</g>
<path d="M1854.0,173.0 L1884.0,180.0 L1886.0,260.0 L1886.0,319.0 L1869.0,318.0 L1865.0,281.0 L1861.0,245.0 L1867.0,240.0 L1865.0,221.0 L1858.0,214.0Z" stroke-width="4.3" fill="none" />
<clipPath id="cl14"><path d="M1854.0,173.0 L1884.0,180.0 L1886.0,260.0 L1886.0,319.0 L1869.0,318.0 L1865.0,281.0 L1861.0,245.0 L1867.0,240.0 L1865.0,221.0 L1858.0,214.0Z"/></clipPath><g clip-path="url(#cl14)">
<circle cx="1871.6" cy="282.6" r="4.2419201882288124" stroke-width="4.597567685925015" fill="none"/>
<path d="M1879.4,249.3 L1890.4,262.2" stroke-width="4.432347474203987" fill="none" />
<rect x="1862.0" y="275.2" width="7.5" height="5.0" rx="2" stroke-width="4.4255518097063105" fill="none" transform="rotate(-20 1865.7 277.7)"/>
<rect x="1851.2" y="276.3" width="6.2" height="4.2" rx="2" stroke-width="3.3378290862693962" fill="none"/>
<rect x="1852.5" y="314.6" width="4.5" height="3.0" rx="2" stroke-width="3.811165572302147" fill="none" transform="rotate(20 1854.7 316.0)"/>
<path d="M1881.8,180.2 L1880.4,190.0" stroke-width="3.415497246468811" fill="none" />
<rect x="1876.8" y="312.7" width="7.0" height="4.6" rx="2" stroke-width="3.892396065058433" fill="none" transform="rotate(90 1880.3 315.0)"/>
<circle cx="1878.8" cy="285.4" r="3.3685908355577237" stroke-width="4.132162396125284" fill="none"/>
<circle cx="1880.4" cy="189.7" r="3.010132891274882" stroke-width="4.011415060958204" fill="none"/>
<path d="M1871.1,197.0 L1862.9,206.7" stroke-width="3.3113698533893148" fill="none" />
<circle cx="1861.9" cy="257.6" r="2.5192490224101003" stroke-width="4.737898855640675" fill="none"/>
<rect x="1855.6" y="273.8" width="4.1" height="2.8" rx="2" stroke-width="4.348934059879791" fill="none" transform="rotate(-20 1857.7 275.1)"/>
<path d="M1848.9,233.9 L1859.8,248.2" stroke-width="3.5479036580528422" fill="none" />
<rect x="1866.0" y="229.3" width="4.3" height="2.9" rx="2" stroke-width="3.884607904692781" fill="none" transform="rotate(-20 1868.1 230.8)"/>
<rect x="1859.8" y="244.7" width="6.1" height="4.0" rx="2" stroke-width="4.025524175427982" fill="none"/>
<rect x="1861.2" y="250.2" width="7.6" height="5.1" rx="2" stroke-width="4.562770865312135" fill="none" transform="rotate(20 1865.0 252.8)"/>
<rect x="1850.2" y="299.4" width="7.9" height="5.3" rx="2" stroke-width="3.4547004196873843" fill="none" transform="rotate(90 1854.1 302.1)"/>
<path d="M1881.7,243.9 L1869.4,259.0" stroke-width="3.458366250729214" fill="none" />
<rect x="1855.7" y="233.4" width="4.4" height="2.9" rx="2" stroke-width="3.8263692080694884" fill="none"/>
<path d="M1867.3,288.1 L1852.2,294.3" stroke-width="4.040095566827774" fill="none" />
<rect x="1853.6" y="310.9" width="7.1" height="4.8" rx="2" stroke-width="4.472522336962488" fill="none" transform="rotate(20 1857.1 313.2)"/>
<circle cx="1878.5" cy="208.5" r="2.4348551305204245" stroke-width="3.898907771053084" fill="none"/>
<path d="M1855.1,249.3 L1867.6,255.5" stroke-width="3.8963193191544008" fill="none" />
<rect x="1864.3" y="235.0" width="7.7" height="5.1" rx="2" stroke-width="4.602417299255366" fill="none"/>
<circle cx="1884.5" cy="302.4" r="4.208873676206485" stroke-width="4.563937885742395" fill="none"/>
<circle cx="1877.6" cy="202.3" r="4.749994815115709" stroke-width="3.369842381910729" fill="none"/>
<rect x="1865.8" y="314.3" width="5.7" height="3.8" rx="2" stroke-width="3.4224366768044403" fill="none" transform="rotate(20 1868.6 316.2)"/>
<circle cx="1884.4" cy="180.6" r="2.1641355196196184" stroke-width="3.8661666739108496" fill="none"/>
<rect x="1857.8" y="189.5" width="9.2" height="6.1" rx="2" stroke-width="4.347986486541925" fill="none" transform="rotate(90 1862.4 192.6)"/>
<circle cx="1877.9" cy="240.0" r="2.338492721967179" stroke-width="4.178265789466493" fill="none"/>
<circle cx="1865.2" cy="214.9" r="4.28015030677582" stroke-width="4.201265457713135" fill="none"/>
<path d="M1856.0,236.5 L1873.5,240.5" stroke-width="3.8238374254224796" fill="none" />
<circle cx="1857.8" cy="286.5" r="3.086384618279538" stroke-width="3.3676934313830733" fill="none"/>
<circle cx="1867.5" cy="185.9" r="3.1255062736634356" stroke-width="4.791981912322144" fill="none"/>
<circle cx="1865.4" cy="219.6" r="2.45636528578812" stroke-width="4.7200335311566395" fill="none"/>
<circle cx="1860.2" cy="237.3" r="2.2135453157992577" stroke-width="4.009168483725616" fill="none"/>
<rect x="1865.2" y="191.1" width="9.2" height="6.1" rx="2" stroke-width="4.055786834160534" fill="none"/>
<rect x="1875.0" y="201.7" width="5.6" height="3.7" rx="2" stroke-width="3.6479069955752177" fill="none"/>
</g>
<text x="1817" y="380" font-family="Liberation Sans, sans-serif" font-size="26" font-weight="normal" fill="#000" stroke="none" font-style="italic">4.</text>
<path d="M2847.0,139.0 L3021.0,138.0 L3055.0,137.0 L3226.0,136.0 L3249.0,135.0 L3421.0,134.0" stroke-width="2.2" fill="none" stroke-dasharray="170 8 8 8"/>
<path d="M2798.0,276.0 L2982.0,275.0 L3008.0,274.0 L3203.0,274.0 L3226.0,273.0 L3486.0,270.0" stroke-width="2.2" fill="none" stroke-dasharray="180 8 8 8"/>
<path d="M3016.0,107.0 L2956.0,320.0" stroke-width="4.8" fill="none" />
<path d="M3008.0,110.0 L2950.0,318.0" stroke-width="3.8" fill="none" />
<path d="M3001.0,114.0 L2943.0,318.0" stroke-width="3.8" fill="none" />
<path d="M2819.0,310.0 L2975.0,320.0" stroke-width="3.3" fill="none" />
<path d="M2935,120 L2988,114 L2990,107 L3016,106 M2988,114 L2986,128 L2962,131 L2950,134 L2957,157 Q2962,180 2956,190 Q2944,200 2940,215 L2936,232 L2871,232 L2848,252 L2837,275 L2838,300 L2874,310 L2936,314" stroke-width="3.8" fill="none" />
<path d="M2935,120 L2934,138 L2948,158 L2956,186 M2950,126 Q2944,140 2954,150" stroke-width="3.8" fill="none" />
<path d="M2942,205 Q2960,190 2968,205 Q2972,225 2958,235 Q2948,240 2942,228Z" stroke-width="3.8" fill="none" />
<path d="M2874,236 L2900,234 L2940,228 M2850,262 Q2880,250 2900,240 L2935,232 M2860,280 L2900,262 L2930,240" stroke-width="3.3" fill="none" />
<ellipse cx="2922.0" cy="264.0" rx="10" ry="16" stroke-width="3.8" fill="none" transform="rotate(10 2922 264)"/>
<path d="M2918,258 Q2926,256 2930,264" stroke-width="3.3" fill="none" />
<path d="M2862.0,288.0 L2930.0,288.0" stroke-width="2.5" fill="none" stroke-dasharray="10 5"/>
<path d="M2837,262 L2834,286 L2842,290 M2836,300 L2846,296 L2850,308" stroke-width="4.3" fill="none" />
<path d="M2862,300 Q2870,312 2890,312 L2930,306" stroke-width="3.3" fill="none" />
<path d="M2888,268 L2888,274 L2900,274" stroke-width="2.2" fill="none" />
<clipPath id="cl15"><path d="M2845.0,240.0 L2930.0,235.0 L2930.0,300.0 L2845.0,300.0Z"/></clipPath><g clip-path="url(#cl15)">
<rect x="2874.1" y="247.8" width="6.5" height="4.3" rx="2" stroke-width="4.213833434772713" fill="none" transform="rotate(90 2877.4 250.0)"/>
<path d="M2897.6,249.8 L2886.4,270.1" stroke-width="3.8764279589751975" fill="none" />
<rect x="2913.1" y="261.4" width="6.4" height="4.3" rx="2" stroke-width="3.449835057407401" fill="none"/>
<rect x="2861.8" y="276.5" width="10.3" height="6.8" rx="2" stroke-width="3.4198187230848838" fill="none" transform="rotate(20 2866.9 279.9)"/>
<rect x="2915.2" y="287.4" width="6.9" height="4.6" rx="2" stroke-width="4.026237985195261" fill="none"/>
<path d="M2887.2,233.1 L2897.2,239.3" stroke-width="3.4435885704223175" fill="none" />
<rect x="2865.0" y="247.9" width="5.2" height="3.5" rx="2" stroke-width="3.877788682148534" fill="none"/>
<rect x="2865.1" y="240.8" width="11.0" height="7.3" rx="2" stroke-width="3.707191135149462" fill="none" transform="rotate(20 2870.6 244.5)"/>
<path d="M2916.3,244.5 L2919.8,255.5" stroke-width="3.377866960007081" fill="none" />
<rect x="2887.6" y="251.4" width="5.3" height="3.5" rx="2" stroke-width="3.3142482344442508" fill="none"/>
<path d="M2860.6,235.5 L2853.0,243.0" stroke-width="4.162483804539265" fill="none" />
<rect x="2851.2" y="275.9" width="6.1" height="4.1" rx="2" stroke-width="4.18906752626045" fill="none"/>
</g>
<path d="M3149.5,73.0 L3149.5,327.0" stroke-width="2.2" fill="none" />
<path d="M3120.2,118.4 L3131.6,108.6 L3149.5,102.1 L3167.4,108.6 L3180.4,118.4 L3180.4,147.7 L3193.4,147.7 L3193.4,163.9 L3183.6,167.2 L3190.2,203.0 L3199.9,203.0 L3199.9,232.3 L3186.9,238.8 L3199.9,251.8 L3199.9,290.9 L3186.9,307.2 L3160.9,307.2 L3149.5,302.3 L3138.1,308.8 L3108.8,307.2 L3099.0,290.9 L3097.4,251.8 L3108.8,238.8 L3097.4,229.0 L3097.4,199.7 L3108.8,199.7 L3115.3,167.2 L3120.2,160.7Z" stroke-width="3.8" fill="none" stroke-linejoin="round"/>
<path d="M3126.7,116.7 L3126.7,295.8" stroke-width="3.3" fill="none" />
<path d="M3131.6,116.7 L3131.6,295.8" stroke-width="3.3" fill="none" />
<path d="M3167.4,116.7 L3167.4,295.8" stroke-width="3.3" fill="none" />
<path d="M3172.3,116.7 L3172.3,295.8" stroke-width="3.3" fill="none" />
<path d="M3126.7,295.8 L3131.6,295.8" stroke-width="3.3" fill="none" />
<path d="M3167.4,294.1 L3172.3,294.1" stroke-width="3.3" fill="none" />
<path d="M3120.2,160.7 L3180.4,160.7" stroke-width="3.8" fill="none" />
<path d="M3120.2,167.2 L3180.4,167.2" stroke-width="3.8" fill="none" />
<path d="M3134.8,157.4 L3134.8,144.4 L3139.7,137.9 L3144.6,144.4 L3144.6,157.4" stroke-width="3.8" fill="none" />
<path d="M3154.3,157.4 L3154.3,144.4 L3159.2,137.9 L3164.1,144.4 L3164.1,157.4" stroke-width="3.8" fill="none" />
<path d="M3131.6,115.1 L3141.3,107.0 L3149.5,103.7 L3157.6,107.0 L3167.4,115.1" stroke-width="3.3" fill="none" />
<path d="M3138.1,134.6 L3144.6,115.1 L3149.5,110.2 L3154.3,115.1 L3160.9,134.6" stroke-width="3.3" fill="none" />
<rect x="3134.8" y="170.4" width="9.8" height="19.5" rx="3" stroke-width="3.8" fill="none"/>
<rect x="3154.3" y="170.4" width="9.8" height="19.5" rx="3" stroke-width="3.8" fill="none"/>
<path d="M3121.8,193.2 L3177.1,193.2" stroke-width="3.3" fill="none" />
<path d="M3105.5,186.7 L3105.5,232.3" stroke-width="4.3" fill="none" />
<path d="M3113.7,173.7 L3113.7,212.8" stroke-width="3.8" fill="none" />
<rect x="3105.5" y="225.8" width="8.1" height="16.3" rx="2" stroke-width="3.8" fill="none"/>
<path d="M3183.6,186.7 L3183.6,232.3" stroke-width="4.3" fill="none" />
<path d="M3191.8,173.7 L3191.8,212.8" stroke-width="3.8" fill="none" />
<rect x="3183.6" y="225.8" width="8.1" height="16.3" rx="2" stroke-width="3.8" fill="none"/>
<path d="M3182.0,147.7 L3192.8,147.7" stroke-width="3.8" fill="none" />
<path d="M3182.0,152.5 L3192.8,152.5" stroke-width="3.8" fill="none" />
<path d="M3182.0,157.4 L3192.8,157.4" stroke-width="3.8" fill="none" />
<path d="M3092.5,233.9 L3121.8,233.9" stroke-width="2.2" fill="none" />
<path d="M3178.8,235.5 L3211.3,234.9" stroke-width="2.2" fill="none" />
<path d="M3285.0,89.0 L3353.0,320.0" stroke-width="4.8" fill="none" />
<path d="M3292.0,92.0 L3361.0,318.0" stroke-width="3.8" fill="none" />
<path d="M3300.0,98.0 L3368.0,316.0" stroke-width="3.8" fill="none" />
<path d="M3311.0,320.0 L3480.0,309.0" stroke-width="3.3" fill="none" />
<path d="M3290,98 L3300,96 L3318,110 L3366,112 L3370,128 L3350,152 L3336,158 L3330,170 L3336,182" stroke-width="3.8" fill="none" />
<path d="M3312,112 L3356,118 L3360,128 L3345,146 L3332,150 M3322,100 L3322,110" stroke-width="3.3" fill="none" />
<path d="M3338,128 Q3344,120 3346,130 L3334,160 L3328,160Z" stroke-width="3.3" fill="none" />
<path d="M3312,140 Q3324,138 3322,150 Q3316,158 3310,154" stroke-width="3.8" fill="none" />
<path d="M3345,190 Q3360,180 3385,180 Q3392,190 3386,205 Q3372,215 3355,212 Q3346,205 3345,190Z" stroke-width="3.8" fill="none" />
<path d="M3358,206 Q3356,192 3366,190 Q3364,202 3372,204 Q3374,192 3380,192" stroke-width="3.3" fill="none" />
<path d="M3340,170 L3344,212 L3350,226 L3366,224 L3410,236 L3430,218 L3448,240 L3462,258 L3464,296 L3444,300 L3386,306 L3372,318 L3355,316" stroke-width="3.8" fill="none" />
<path d="M3410,236 L3440,226 L3448,240 L3436,246 L3420,240" stroke-width="3.3" fill="none" />
<path d="M3368,246 L3390,238 L3400,266 L3378,280 Z" stroke-width="3.3" fill="none" />
<path d="M3396,240 L3412,238 L3420,256 L3404,262Z" stroke-width="3.3" fill="none" />
<path d="M3410,270 L3422,264 L3428,270 L3416,278Z M3426,274 L3438,268 L3442,274 L3430,280Z M3432,262 L3440,252 L3446,262Z" stroke-width="3.3" fill="none" />
<path d="M3462,258 L3470,258 L3472,290 L3464,296" stroke-width="3.8" fill="none" />
<path d="M3374,296 L3440,290 L3450,298" stroke-width="3.3" fill="none" />
<path d="M3348,262 L3356,280 L3366,276 M3352,286 L3362,290" stroke-width="3.8" fill="none" />
<text x="3147" y="392" font-family="Liberation Sans, sans-serif" font-size="26" font-weight="normal" fill="#000" stroke="none" font-style="italic">5.</text>
<path d="M877.5,1073.3 L888.3,1069.0 L929.6,1069.0 L962.1,1084.2 L990.3,1121.1 L1001.2,1123.2 L1027.2,1088.5 L1048.9,1086.3 L1092.3,1088.5 L1096.7,1099.4 L1081.5,1108.0 L1059.8,1153.6 L1031.6,1184.0 L973.0,1212.2 L949.1,1215.5 L918.7,1188.3 L881.8,1155.8 L877.5,1131.9Z" stroke-width="4.8" fill="none" stroke-linejoin="round"/>
<path d="M888.3,1088.5 L905.7,1079.8 L929.6,1082.0 L959.9,1097.2 L983.8,1129.7 L1001.2,1133.0 L1031.6,1105.9 L1048.9,1101.5 L1068.5,1110.2 L1048.9,1149.3 L1025.1,1171.0 L970.8,1199.2 L955.6,1203.5 L923.1,1175.3 L890.5,1149.3 L886.2,1121.1Z" stroke-width="3.8" fill="none" stroke-linejoin="round"/>
<path d="M882.9,1080.9 L897.0,1074.4 L929.6,1075.5 L961.0,1090.7 L987.1,1125.4 L1001.2,1128.1 L1029.4,1097.2 L1048.9,1093.9 L1080.4,1099.4 L1072.8,1124.3 L1053.3,1139.5 L1015.3,1176.4 L993.6,1193.8 L948.0,1193.8 L919.8,1182.4 L902.4,1154.7Z" stroke-width="2.6" fill="none" stroke-dasharray="0.1 6" stroke-linecap="round"/>
<path d="M888.3,1110.2 L897.0,1118.9 L914.4,1136.2 L920.9,1138.4 L907.9,1110.2 L897.0,1101.5" stroke-width="3.3" fill="none" />
<path d="M929.6,1105.9 L944.8,1101.5 L951.3,1114.5 L953.4,1131.9 L940.4,1134.1 L931.7,1118.9Z" stroke-width="3.3" fill="none" />
<ellipse cx="941.5" cy="1116.7" rx="6" ry="10" stroke-width="3.3" fill="none" transform="rotate(-10 941.5017361111111 1116.71875)"/>
<path d="M906.8,1082.0 L918.7,1144.9" stroke-width="2.2" fill="none" />
<path d="M920.9,1084.2 L931.7,1144.9" stroke-width="2.2" fill="none" />
<path d="M966.5,1105.9 L957.8,1151.4 L931.7,1140.6" stroke-width="3.3" fill="none" />
<path d="M913.3,1098.3 L926.3,1131.9" stroke-width="5.5" fill="none" />
<path d="M968.6,1129.7 L962.1,1160.1" stroke-width="5.5" fill="none" />
<path d="M975.1,1123.2 L966.5,1160.1" stroke-width="2.2" fill="none" />
<path d="M1014.2,1114.5 L1035.9,1112.4 L1040.2,1121.1 L1022.9,1151.4 L1009.9,1160.1 L996.8,1153.6 L996.8,1140.6Z" stroke-width="3.3" fill="none" stroke-linejoin="round"/>
<path d="M1018.5,1125.4 L1031.6,1121.1 L1031.6,1129.7 L1018.5,1149.3 L1005.5,1151.4 L1003.4,1142.8Z" stroke-width="3.3" fill="none" stroke-linejoin="round"/>
<path d="M892.7,1158.0 L899.2,1149.3 L905.7,1151.4 L910.0,1164.5" stroke-width="3.3" fill="none" />
<path d="M914.4,1171.0 L944.8,1177.5 L979.5,1186.2 L990.3,1177.5 L992.5,1164.5 L983.8,1158.0 L970.8,1155.8" stroke-width="3.3" fill="none" />
<path d="M938.2,1160.1 L962.1,1164.5" stroke-width="2.2" fill="none" />
<path d="M907.9,1168.8 L920.9,1156.9 L937.2,1159.0" stroke-width="7.5" fill="none" />
<path d="M999.0,1172.1 L1016.4,1171.0 L1027.2,1186.2" stroke-width="7.5" fill="none" />
<rect x="948.0" y="1179.7" width="11.9" height="15.2" rx="1" stroke-width="3.3" fill="none" transform="rotate(10 954.0 1187.2)"/>
<path d="M952.4,1181.8 L955.6,1193.8" stroke-width="4.8" fill="none" />
<path d="M1022.9,1164.5 L1031.6,1160.1 L1035.9,1168.8 L1027.2,1171.0Z" stroke-width="3.8" fill="none" />
<path d="M886.2,1121.1 L891.6,1123.2 L893.8,1129.7 L888.3,1129.7Z" stroke-width="3.3" fill="none" />
<path d="M887.2,1134.1 L893.8,1134.1 L889.4,1140.6Z" stroke-width="3.3" fill="none" />
<path d="M1048.9,1118.9 L1031.6,1153.6" stroke-width="2.2" fill="none" stroke-dasharray="0.1 6" stroke-linecap="round"/>
<path d="M1055.4,1123.2 L1038.1,1155.8" stroke-width="2.2" fill="none" stroke-dasharray="0.1 6" stroke-linecap="round"/>
<path d="M1042.4,1114.5 L1027.2,1144.9" stroke-width="2.2" fill="none" stroke-dasharray="0.1 6" stroke-linecap="round"/>
<path d="M1018.5,1171.0 L1055.4,1225.2" stroke-width="3.3" fill="none" />
<path d="M1038.1,1205.7 L1054.3,1226.3" stroke-width="9.5" fill="none" />
<path d="M868.8,1210.0 L893.8,1184.0" stroke-width="9.5" fill="none" />
<path d="M893.8,1184.0 L894.8,1182.5" stroke-width="3.8" fill="none" />
<path d="M868.8,1210.0 L800.0,1277.0" stroke-width="2.2" fill="none" stroke-dasharray="40 8 6 8"/>
<path d="M797.6,1279.5 L783.0,1285.0 L771.6,1299.7 L771.6,1307.4 L774.5,1315.0 L761.0,1329.5 L737.0,1351.6 L728.3,1352.0 L708.0,1358.9 L705.0,1363.0 L705.7,1371.9 L698.5,1378.6 L696.0,1385.0" stroke-width="4.3" fill="none" stroke-linejoin="round"/>
<path d="M797.6,1280.4 L789.0,1297.7 L785.0,1313.0 L775.5,1321.8 L746.6,1347.8 L738.0,1357.4 L717.7,1366.0 L706.0,1372.8" stroke-width="4.3" fill="none" stroke-linejoin="round"/>
<path d="M994.7,1016.9 L999.0,1005.0 L1025.1,996.3 L1031.6,1000.6 L1114.0,1001.7 L1124.9,1029.9 L1101.0,1044.0 L1027.2,1041.8 L994.7,1032.1Z" stroke-width="4.3" fill="none" stroke-linejoin="round"/>
<path d="M1003.4,1019.1 L1007.7,1012.6 L1027.2,1008.2 L1111.9,1008.2 L1116.2,1023.4 L1098.8,1035.3 L1029.4,1034.3 L1005.5,1026.7Z" stroke-width="3.8" fill="none" stroke-linejoin="round"/>
<path d="M999.0,1016.9 L1003.4,1008.2 L1025.1,1001.7 L1031.6,1004.3 L1111.9,1005.0 L1120.5,1028.8 L1101.0,1039.7 L1027.2,1038.2 L999.0,1029.5Z" stroke-width="2.4" fill="none" stroke-dasharray="0.1 6" stroke-linecap="round"/>
<path d="M1005.5,1021.2 L1018.5,1029.9 L1038.1,1032.1 L1053.3,1026.7 L1066.3,1026.7 L1081.5,1032.1" stroke-width="3.3" fill="none" />
<path d="M1061.9,1019.1 L1079.3,1012.6 L1083.6,1023.4 L1070.6,1025.6Z" stroke-width="3.3" fill="none" />
<path d="M1085.8,1025.6 L1105.3,1012.6 L1112.9,1014.7 L1098.8,1034.3Z" stroke-width="3.3" fill="none" />
<path d="M1027.2,1014.7 L1027.2,1025.6" stroke-width="2" fill="none" stroke-dasharray="0.1 5" stroke-linecap="round"/>
<path d="M1048.9,1014.7 L1048.9,1025.6" stroke-width="2" fill="none" stroke-dasharray="0.1 5" stroke-linecap="round"/>
<path d="M1053.3,1014.7 L1053.3,1025.6" stroke-width="2" fill="none" stroke-dasharray="0.1 5" stroke-linecap="round"/>
<path d="M1111.9,980.0 L1127.0,1034.3" stroke-width="2.2" fill="none" />
<path d="M1127.0,1034.3 L1137.9,1073.3" stroke-width="2" fill="none" stroke-dasharray="20 6 4 6"/>
<path d="M1187,2724 L1200,2719 L1320,2718 L1400,2720 L1447,2722 L1400,2724 L1320,2727 L1200,2727Z" stroke-width="3.3" fill="#000" />
<path d="M1447.0,2722.0 L1452.0,2722.0" stroke-width="2.2" fill="none" />
<circle cx="2333.0" cy="590.0" r="2.5" stroke-width="1" fill="#000"/>
<circle cx="2055.0" cy="495.0" r="2" stroke-width="1" fill="#000"/>
<circle cx="2402.0" cy="342.0" r="2" stroke-width="1" fill="#000"/>
<circle cx="2980.0" cy="455.0" r="1.5" stroke-width="1" fill="#000"/>
<circle cx="236.0" cy="1635.0" r="2" stroke-width="1" fill="#000"/>
<circle cx="1401.0" cy="2483.0" r="3" stroke-width="1" fill="#000"/>
<circle cx="2724.0" cy="2485.0" r="2.5" stroke-width="1" fill="#000"/>
<circle cx="3630.0" cy="1643.0" r="2" stroke-width="1" fill="#000"/>
<text x="3672" y="2916" font-family="Liberation Sans, sans-serif" font-size="15" fill="#999" stroke="none">www.the-blueprints.com</text>
</svg></body></html>
